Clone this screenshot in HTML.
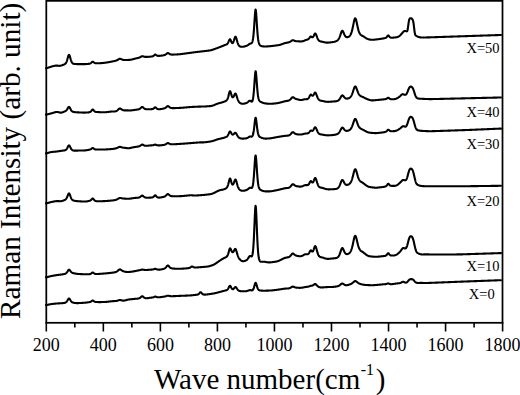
<!DOCTYPE html>
<html><head><meta charset="utf-8"><style>
html,body{margin:0;padding:0;background:#fff;}
body{width:520px;height:395px;overflow:hidden;position:relative;}
svg{position:absolute;left:0;top:0;}
text{font-family:"Liberation Serif",serif;fill:#000;}
</style></head><body>
<svg width="520" height="395" viewBox="0 0 520 395">
<g fill="none" stroke="#000" stroke-width="2.1" stroke-linejoin="round" stroke-linecap="round">
<path d="M46.00,68.30 L46.25,68.25 L46.50,68.20 L46.75,68.14 L47.00,68.08 L47.25,68.01 L47.50,67.94 L47.75,67.86 L48.00,67.78 L48.25,67.69 L48.50,67.60 L48.75,67.51 L49.00,67.43 L49.25,67.34 L49.50,67.25 L49.75,67.16 L50.00,67.07 L50.25,66.99 L50.50,66.91 L50.75,66.82 L51.00,66.74 L51.25,66.67 L51.50,66.59 L51.75,66.51 L52.00,66.44 L52.25,66.37 L52.50,66.30 L52.75,66.23 L53.00,66.17 L53.25,66.10 L53.50,66.04 L53.75,65.98 L54.00,65.92 L54.25,65.86 L54.50,65.81 L54.75,65.76 L55.00,65.71 L55.25,65.68 L55.50,65.65 L55.75,65.63 L56.00,65.61 L56.25,65.60 L56.50,65.60 L56.75,65.60 L57.00,65.61 L57.25,65.63 L57.50,65.65 L57.75,65.68 L58.00,65.72 L58.25,65.75 L58.50,65.79 L58.75,65.81 L59.00,65.83 L59.25,65.84 L59.50,65.83 L59.75,65.82 L60.00,65.80 L60.25,65.77 L60.50,65.73 L60.75,65.68 L61.00,65.61 L61.25,65.54 L61.50,65.46 L61.75,65.38 L62.00,65.29 L62.25,65.19 L62.50,65.10 L62.75,65.00 L63.00,64.91 L63.25,64.82 L63.50,64.73 L63.75,64.63 L64.00,64.53 L64.25,64.42 L64.50,64.30 L64.75,64.16 L65.00,64.00 L65.25,63.80 L65.50,63.56 L65.75,63.26 L66.00,62.89 L66.25,62.44 L66.50,61.90 L66.75,61.26 L67.00,60.53 L67.25,59.71 L67.50,58.83 L67.75,57.91 L68.00,56.99 L68.25,56.14 L68.50,55.45 L68.75,54.98 L69.00,54.80 L69.25,54.95 L69.50,55.39 L69.75,56.06 L70.00,56.87 L70.25,57.76 L70.50,58.65 L70.75,59.51 L71.00,60.29 L71.25,60.99 L71.50,61.60 L71.75,62.11 L72.00,62.53 L72.25,62.87 L72.50,63.15 L72.75,63.36 L73.00,63.52 L73.25,63.65 L73.50,63.74 L73.75,63.81 L74.00,63.87 L74.25,63.92 L74.50,63.95 L74.75,63.98 L75.00,64.00 L75.25,64.02 L75.50,64.04 L75.75,64.05 L76.00,64.06 L76.25,64.07 L76.50,64.07 L76.75,64.08 L77.00,64.08 L77.25,64.09 L77.50,64.09 L77.75,64.09 L78.00,64.10 L78.25,64.10 L78.50,64.10 L78.75,64.10 L79.00,64.11 L79.25,64.11 L79.50,64.11 L79.75,64.11 L80.00,64.12 L80.25,64.12 L80.50,64.12 L80.75,64.13 L81.00,64.13 L81.25,64.13 L81.50,64.13 L81.75,64.14 L82.00,64.14 L82.25,64.14 L82.50,64.14 L82.75,64.14 L83.00,64.14 L83.25,64.14 L83.50,64.14 L83.75,64.14 L84.00,64.13 L84.25,64.13 L84.50,64.12 L84.75,64.12 L85.00,64.11 L85.25,64.10 L85.50,64.09 L85.75,64.08 L86.00,64.06 L86.25,64.05 L86.50,64.03 L86.75,64.01 L87.00,63.99 L87.25,63.97 L87.50,63.95 L87.75,63.93 L88.00,63.90 L88.25,63.88 L88.50,63.85 L88.75,63.82 L89.00,63.79 L89.25,63.75 L89.50,63.70 L89.75,63.64 L90.00,63.57 L90.25,63.47 L90.50,63.36 L90.75,63.21 L91.00,63.03 L91.25,62.82 L91.50,62.59 L91.75,62.34 L92.00,62.10 L92.25,61.89 L92.50,61.75 L92.75,61.70 L93.00,61.76 L93.25,61.90 L93.50,62.09 L93.75,62.31 L94.00,62.52 L94.25,62.71 L94.50,62.88 L94.75,63.01 L95.00,63.11 L95.25,63.19 L95.50,63.24 L95.75,63.28 L96.00,63.30 L96.25,63.31 L96.50,63.32 L96.75,63.32 L97.00,63.31 L97.25,63.31 L97.50,63.30 L97.75,63.30 L98.00,63.29 L98.25,63.28 L98.50,63.27 L98.75,63.26 L99.00,63.25 L99.25,63.24 L99.50,63.22 L99.75,63.21 L100.00,63.20 L100.25,63.18 L100.50,63.16 L100.75,63.15 L101.00,63.13 L101.25,63.11 L101.50,63.09 L101.75,63.07 L102.00,63.05 L102.25,63.03 L102.50,63.01 L102.75,62.98 L103.00,62.96 L103.25,62.93 L103.50,62.91 L103.75,62.88 L104.00,62.85 L104.25,62.83 L104.50,62.80 L104.75,62.77 L105.00,62.74 L105.25,62.70 L105.50,62.67 L105.75,62.64 L106.00,62.60 L106.25,62.56 L106.50,62.53 L106.75,62.49 L107.00,62.45 L107.25,62.41 L107.50,62.36 L107.75,62.32 L108.00,62.28 L108.25,62.23 L108.50,62.18 L108.75,62.14 L109.00,62.09 L109.25,62.05 L109.50,62.00 L109.75,61.95 L110.00,61.91 L110.25,61.86 L110.50,61.81 L110.75,61.77 L111.00,61.72 L111.25,61.67 L111.50,61.62 L111.75,61.58 L112.00,61.53 L112.25,61.48 L112.50,61.43 L112.75,61.38 L113.00,61.33 L113.25,61.28 L113.50,61.23 L113.75,61.18 L114.00,61.12 L114.25,61.07 L114.50,61.02 L114.75,60.96 L115.00,60.90 L115.25,60.84 L115.50,60.77 L115.75,60.70 L116.00,60.62 L116.25,60.53 L116.50,60.44 L116.75,60.33 L117.00,60.21 L117.25,60.09 L117.50,59.95 L117.75,59.81 L118.00,59.65 L118.25,59.50 L118.50,59.34 L118.75,59.19 L119.00,59.05 L119.25,58.94 L119.50,58.85 L119.75,58.81 L120.00,58.79 L120.25,58.82 L120.50,58.88 L120.75,58.97 L121.00,59.07 L121.25,59.18 L121.50,59.29 L121.75,59.40 L122.00,59.50 L122.25,59.60 L122.50,59.68 L122.75,59.75 L123.00,59.82 L123.25,59.87 L123.50,59.91 L123.75,59.94 L124.00,59.97 L124.25,59.99 L124.50,60.00 L124.75,60.00 L125.00,60.01 L125.25,60.01 L125.50,60.01 L125.75,60.00 L126.00,60.00 L126.25,59.99 L126.50,59.98 L126.75,59.98 L127.00,59.97 L127.25,59.96 L127.50,59.95 L127.75,59.95 L128.00,59.94 L128.25,59.93 L128.50,59.92 L128.75,59.91 L129.00,59.89 L129.25,59.88 L129.50,59.86 L129.75,59.84 L130.00,59.81 L130.25,59.78 L130.50,59.75 L130.75,59.71 L131.00,59.67 L131.25,59.62 L131.50,59.58 L131.75,59.53 L132.00,59.47 L132.25,59.41 L132.50,59.35 L132.75,59.29 L133.00,59.22 L133.25,59.15 L133.50,59.08 L133.75,59.02 L134.00,58.95 L134.25,58.88 L134.50,58.81 L134.75,58.74 L135.00,58.67 L135.25,58.60 L135.50,58.54 L135.75,58.47 L136.00,58.41 L136.25,58.35 L136.50,58.29 L136.75,58.23 L137.00,58.18 L137.25,58.12 L137.50,58.07 L137.75,58.01 L138.00,57.95 L138.25,57.90 L138.50,57.83 L138.75,57.77 L139.00,57.69 L139.25,57.61 L139.50,57.52 L139.75,57.42 L140.00,57.30 L140.25,57.17 L140.50,57.03 L140.75,56.88 L141.00,56.73 L141.25,56.58 L141.50,56.44 L141.75,56.32 L142.00,56.24 L142.25,56.19 L142.50,56.19 L142.75,56.23 L143.00,56.29 L143.25,56.37 L143.50,56.46 L143.75,56.54 L144.00,56.63 L144.25,56.70 L144.50,56.76 L144.75,56.81 L145.00,56.85 L145.25,56.88 L145.50,56.90 L145.75,56.91 L146.00,56.91 L146.25,56.91 L146.50,56.91 L146.75,56.90 L147.00,56.89 L147.25,56.87 L147.50,56.86 L147.75,56.85 L148.00,56.83 L148.25,56.81 L148.50,56.80 L148.75,56.78 L149.00,56.76 L149.25,56.74 L149.50,56.72 L149.75,56.70 L150.00,56.68 L150.25,56.66 L150.50,56.63 L150.75,56.61 L151.00,56.58 L151.25,56.55 L151.50,56.51 L151.75,56.47 L152.00,56.43 L152.25,56.37 L152.50,56.30 L152.75,56.21 L153.00,56.10 L153.25,55.97 L153.50,55.81 L153.75,55.62 L154.00,55.41 L154.25,55.19 L154.50,54.97 L154.75,54.78 L155.00,54.65 L155.25,54.60 L155.50,54.64 L155.75,54.76 L156.00,54.92 L156.25,55.10 L156.50,55.27 L156.75,55.43 L157.00,55.57 L157.25,55.68 L157.50,55.76 L157.75,55.81 L158.00,55.85 L158.25,55.87 L158.50,55.88 L158.75,55.88 L159.00,55.87 L159.25,55.86 L159.50,55.84 L159.75,55.82 L160.00,55.80 L160.25,55.78 L160.50,55.75 L160.75,55.72 L161.00,55.69 L161.25,55.66 L161.50,55.63 L161.75,55.59 L162.00,55.56 L162.25,55.52 L162.50,55.48 L162.75,55.44 L163.00,55.39 L163.25,55.35 L163.50,55.30 L163.75,55.24 L164.00,55.18 L164.25,55.12 L164.50,55.04 L164.75,54.94 L165.00,54.84 L165.25,54.71 L165.50,54.57 L165.75,54.41 L166.00,54.23 L166.25,54.04 L166.50,53.84 L166.75,53.64 L167.00,53.45 L167.25,53.29 L167.50,53.17 L167.75,53.11 L168.00,53.11 L168.25,53.17 L168.50,53.28 L168.75,53.42 L169.00,53.58 L169.25,53.74 L169.50,53.90 L169.75,54.04 L170.00,54.17 L170.25,54.28 L170.50,54.37 L170.75,54.44 L171.00,54.49 L171.25,54.54 L171.50,54.56 L171.75,54.58 L172.00,54.59 L172.25,54.60 L172.50,54.60 L172.75,54.60 L173.00,54.59 L173.25,54.59 L173.50,54.58 L173.75,54.57 L174.00,54.56 L174.25,54.55 L174.50,54.54 L174.75,54.53 L175.00,54.52 L175.25,54.50 L175.50,54.49 L175.75,54.48 L176.00,54.47 L176.25,54.45 L176.50,54.44 L176.75,54.43 L177.00,54.41 L177.25,54.40 L177.50,54.38 L177.75,54.37 L178.00,54.36 L178.25,54.34 L178.50,54.32 L178.75,54.31 L179.00,54.29 L179.25,54.27 L179.50,54.25 L179.75,54.22 L180.00,54.20 L180.25,54.18 L180.50,54.15 L180.75,54.12 L181.00,54.09 L181.25,54.06 L181.50,54.03 L181.75,54.00 L182.00,53.97 L182.25,53.94 L182.50,53.90 L182.75,53.87 L183.00,53.83 L183.25,53.80 L183.50,53.77 L183.75,53.73 L184.00,53.70 L184.25,53.66 L184.50,53.63 L184.75,53.60 L185.00,53.56 L185.25,53.53 L185.50,53.49 L185.75,53.46 L186.00,53.43 L186.25,53.39 L186.50,53.36 L186.75,53.32 L187.00,53.29 L187.25,53.25 L187.50,53.22 L187.75,53.19 L188.00,53.15 L188.25,53.12 L188.50,53.08 L188.75,53.05 L189.00,53.01 L189.25,52.98 L189.50,52.95 L189.75,52.91 L190.00,52.88 L190.25,52.84 L190.50,52.81 L190.75,52.77 L191.00,52.74 L191.25,52.70 L191.50,52.67 L191.75,52.64 L192.00,52.60 L192.25,52.57 L192.50,52.53 L192.75,52.50 L193.00,52.46 L193.25,52.43 L193.50,52.40 L193.75,52.36 L194.00,52.33 L194.25,52.30 L194.50,52.26 L194.75,52.23 L195.00,52.20 L195.25,52.17 L195.50,52.14 L195.75,52.11 L196.00,52.08 L196.25,52.05 L196.50,52.02 L196.75,51.99 L197.00,51.96 L197.25,51.93 L197.50,51.90 L197.75,51.87 L198.00,51.84 L198.25,51.81 L198.50,51.79 L198.75,51.76 L199.00,51.73 L199.25,51.70 L199.50,51.67 L199.75,51.64 L200.00,51.61 L200.25,51.58 L200.50,51.56 L200.75,51.53 L201.00,51.50 L201.25,51.47 L201.50,51.44 L201.75,51.41 L202.00,51.38 L202.25,51.35 L202.50,51.33 L202.75,51.30 L203.00,51.27 L203.25,51.24 L203.50,51.21 L203.75,51.18 L204.00,51.15 L204.25,51.12 L204.50,51.09 L204.75,51.06 L205.00,51.04 L205.25,51.01 L205.50,50.98 L205.75,50.95 L206.00,50.92 L206.25,50.89 L206.50,50.86 L206.75,50.83 L207.00,50.80 L207.25,50.77 L207.50,50.74 L207.75,50.71 L208.00,50.68 L208.25,50.65 L208.50,50.63 L208.75,50.60 L209.00,50.57 L209.25,50.53 L209.50,50.50 L209.75,50.46 L210.00,50.41 L210.25,50.36 L210.50,50.31 L210.75,50.26 L211.00,50.20 L211.25,50.14 L211.50,50.07 L211.75,50.00 L212.00,49.93 L212.25,49.85 L212.50,49.77 L212.75,49.69 L213.00,49.60 L213.25,49.51 L213.50,49.42 L213.75,49.33 L214.00,49.24 L214.25,49.14 L214.50,49.05 L214.75,48.96 L215.00,48.87 L215.25,48.78 L215.50,48.68 L215.75,48.59 L216.00,48.50 L216.25,48.41 L216.50,48.32 L216.75,48.22 L217.00,48.13 L217.25,48.04 L217.50,47.94 L217.75,47.85 L218.00,47.76 L218.25,47.66 L218.50,47.57 L218.75,47.47 L219.00,47.38 L219.25,47.29 L219.50,47.19 L219.75,47.10 L220.00,47.00 L220.25,46.90 L220.50,46.81 L220.75,46.71 L221.00,46.61 L221.25,46.52 L221.50,46.42 L221.75,46.32 L222.00,46.22 L222.25,46.12 L222.50,46.02 L222.75,45.92 L223.00,45.81 L223.25,45.71 L223.50,45.60 L223.75,45.49 L224.00,45.38 L224.25,45.27 L224.50,45.16 L224.75,45.06 L225.00,44.97 L225.25,44.88 L225.50,44.80 L225.75,44.71 L226.00,44.62 L226.25,44.52 L226.50,44.41 L226.75,44.27 L227.00,44.10 L227.25,43.89 L227.50,43.61 L227.75,43.28 L228.00,42.88 L228.25,42.41 L228.50,41.87 L228.75,41.29 L229.00,40.68 L229.25,40.10 L229.50,39.61 L229.75,39.29 L230.00,39.20 L230.25,39.37 L230.50,39.76 L230.75,40.31 L231.00,40.93 L231.25,41.55 L231.50,42.10 L231.75,42.56 L232.00,42.89 L232.25,43.08 L232.50,43.11 L232.75,42.97 L233.00,42.69 L233.25,42.25 L233.50,41.68 L233.75,40.99 L234.00,40.22 L234.25,39.40 L234.50,38.59 L234.75,37.83 L235.00,37.22 L235.25,36.82 L235.50,36.70 L235.75,36.88 L236.00,37.33 L236.25,38.00 L236.50,38.82 L236.75,39.72 L237.00,40.63 L237.25,41.53 L237.50,42.36 L237.75,43.12 L238.00,43.79 L238.25,44.37 L238.50,44.86 L238.75,45.28 L239.00,45.61 L239.25,45.89 L239.50,46.11 L239.75,46.28 L240.00,46.42 L240.25,46.53 L240.50,46.62 L240.75,46.68 L241.00,46.73 L241.25,46.77 L241.50,46.79 L241.75,46.80 L242.00,46.81 L242.25,46.80 L242.50,46.79 L242.75,46.77 L243.00,46.74 L243.25,46.71 L243.50,46.67 L243.75,46.62 L244.00,46.56 L244.25,46.50 L244.50,46.44 L244.75,46.37 L245.00,46.30 L245.25,46.23 L245.50,46.16 L245.75,46.08 L246.00,46.00 L246.25,45.91 L246.50,45.81 L246.75,45.70 L247.00,45.58 L247.25,45.45 L247.50,45.31 L247.75,45.16 L248.00,45.00 L248.25,44.83 L248.50,44.65 L248.75,44.46 L249.00,44.28 L249.25,44.11 L249.50,43.95 L249.75,43.81 L250.00,43.70 L250.25,43.61 L250.50,43.55 L250.75,43.49 L251.00,43.42 L251.25,43.33 L251.50,43.18 L251.75,42.95 L252.00,42.60 L252.25,42.08 L252.50,41.33 L252.75,40.29 L253.00,38.89 L253.25,37.08 L253.50,34.79 L253.75,32.00 L254.00,28.74 L254.25,25.09 L254.50,21.18 L254.75,17.27 L255.00,13.73 L255.25,11.02 L255.50,9.62 L255.75,9.81 L256.00,11.56 L256.25,14.53 L256.50,18.23 L256.75,22.23 L257.00,26.17 L257.25,29.84 L257.50,33.09 L257.75,35.87 L258.00,38.17 L258.25,40.01 L258.50,41.46 L258.75,42.57 L259.00,43.41 L259.25,44.05 L259.50,44.53 L259.75,44.90 L260.00,45.19 L260.25,45.42 L260.50,45.60 L260.75,45.75 L261.00,45.88 L261.25,45.98 L261.50,46.07 L261.75,46.15 L262.00,46.21 L262.25,46.26 L262.50,46.31 L262.75,46.34 L263.00,46.37 L263.25,46.39 L263.50,46.41 L263.75,46.43 L264.00,46.44 L264.25,46.45 L264.50,46.45 L264.75,46.46 L265.00,46.46 L265.25,46.46 L265.50,46.45 L265.75,46.45 L266.00,46.44 L266.25,46.44 L266.50,46.43 L266.75,46.42 L267.00,46.41 L267.25,46.40 L267.50,46.38 L267.75,46.37 L268.00,46.35 L268.25,46.34 L268.50,46.32 L268.75,46.30 L269.00,46.29 L269.25,46.27 L269.50,46.24 L269.75,46.22 L270.00,46.20 L270.25,46.18 L270.50,46.15 L270.75,46.13 L271.00,46.10 L271.25,46.07 L271.50,46.04 L271.75,46.02 L272.00,45.99 L272.25,45.96 L272.50,45.92 L272.75,45.89 L273.00,45.86 L273.25,45.83 L273.50,45.80 L273.75,45.77 L274.00,45.74 L274.25,45.70 L274.50,45.67 L274.75,45.64 L275.00,45.61 L275.25,45.57 L275.50,45.54 L275.75,45.51 L276.00,45.48 L276.25,45.44 L276.50,45.41 L276.75,45.38 L277.00,45.34 L277.25,45.31 L277.50,45.28 L277.75,45.24 L278.00,45.21 L278.25,45.17 L278.50,45.13 L278.75,45.08 L279.00,45.03 L279.25,44.98 L279.50,44.92 L279.75,44.86 L280.00,44.80 L280.25,44.73 L280.50,44.66 L280.75,44.58 L281.00,44.51 L281.25,44.42 L281.50,44.33 L281.75,44.24 L282.00,44.15 L282.25,44.05 L282.50,43.95 L282.75,43.85 L283.00,43.75 L283.25,43.66 L283.50,43.57 L283.75,43.48 L284.00,43.40 L284.25,43.32 L284.50,43.24 L284.75,43.17 L285.00,43.10 L285.25,43.03 L285.50,42.97 L285.75,42.92 L286.00,42.86 L286.25,42.81 L286.50,42.76 L286.75,42.72 L287.00,42.67 L287.25,42.63 L287.50,42.59 L287.75,42.55 L288.00,42.50 L288.25,42.44 L288.50,42.38 L288.75,42.32 L289.00,42.24 L289.25,42.15 L289.50,42.05 L289.75,41.94 L290.00,41.82 L290.25,41.68 L290.50,41.52 L290.75,41.36 L291.00,41.18 L291.25,41.00 L291.50,40.81 L291.75,40.63 L292.00,40.47 L292.25,40.34 L292.50,40.24 L292.75,40.19 L293.00,40.19 L293.25,40.23 L293.50,40.31 L293.75,40.41 L294.00,40.52 L294.25,40.64 L294.50,40.75 L294.75,40.85 L295.00,40.94 L295.25,41.02 L295.50,41.09 L295.75,41.14 L296.00,41.19 L296.25,41.22 L296.50,41.25 L296.75,41.27 L297.00,41.28 L297.25,41.29 L297.50,41.30 L297.75,41.31 L298.00,41.32 L298.25,41.32 L298.50,41.33 L298.75,41.34 L299.00,41.35 L299.25,41.37 L299.50,41.38 L299.75,41.40 L300.00,41.42 L300.25,41.44 L300.50,41.45 L300.75,41.45 L301.00,41.45 L301.25,41.43 L301.50,41.41 L301.75,41.39 L302.00,41.35 L302.25,41.31 L302.50,41.26 L302.75,41.20 L303.00,41.14 L303.25,41.06 L303.50,40.98 L303.75,40.89 L304.00,40.79 L304.25,40.68 L304.50,40.57 L304.75,40.45 L305.00,40.33 L305.25,40.22 L305.50,40.12 L305.75,40.03 L306.00,39.96 L306.25,39.89 L306.50,39.83 L306.75,39.77 L307.00,39.70 L307.25,39.63 L307.50,39.54 L307.75,39.43 L308.00,39.30 L308.25,39.13 L308.50,38.93 L308.75,38.69 L309.00,38.42 L309.25,38.12 L309.50,37.78 L309.75,37.44 L310.00,37.10 L310.25,36.82 L310.50,36.61 L310.75,36.51 L311.00,36.52 L311.25,36.63 L311.50,36.81 L311.75,37.01 L312.00,37.18 L312.25,37.28 L312.50,37.30 L312.75,37.20 L313.00,36.99 L313.25,36.68 L313.50,36.26 L313.75,35.77 L314.00,35.24 L314.25,34.70 L314.50,34.21 L314.75,33.81 L315.00,33.57 L315.25,33.50 L315.50,33.64 L315.75,33.95 L316.00,34.41 L316.25,34.99 L316.50,35.63 L316.75,36.30 L317.00,36.97 L317.25,37.62 L317.50,38.22 L317.75,38.78 L318.00,39.27 L318.25,39.70 L318.50,40.07 L318.75,40.38 L319.00,40.64 L319.25,40.85 L319.50,41.01 L319.75,41.14 L320.00,41.24 L320.25,41.33 L320.50,41.40 L320.75,41.46 L321.00,41.51 L321.25,41.56 L321.50,41.60 L321.75,41.64 L322.00,41.69 L322.25,41.74 L322.50,41.79 L322.75,41.84 L323.00,41.90 L323.25,41.96 L323.50,42.03 L323.75,42.10 L324.00,42.17 L324.25,42.24 L324.50,42.31 L324.75,42.36 L325.00,42.42 L325.25,42.46 L325.50,42.51 L325.75,42.54 L326.00,42.57 L326.25,42.60 L326.50,42.62 L326.75,42.63 L327.00,42.64 L327.25,42.64 L327.50,42.64 L327.75,42.63 L328.00,42.62 L328.25,42.60 L328.50,42.58 L328.75,42.55 L329.00,42.53 L329.25,42.50 L329.50,42.48 L329.75,42.45 L330.00,42.42 L330.25,42.40 L330.50,42.37 L330.75,42.34 L331.00,42.31 L331.25,42.28 L331.50,42.25 L331.75,42.21 L332.00,42.18 L332.25,42.15 L332.50,42.11 L332.75,42.08 L333.00,42.04 L333.25,42.00 L333.50,41.96 L333.75,41.91 L334.00,41.86 L334.25,41.80 L334.50,41.74 L334.75,41.67 L335.00,41.60 L335.25,41.52 L335.50,41.44 L335.75,41.35 L336.00,41.25 L336.25,41.14 L336.50,41.01 L336.75,40.88 L337.00,40.73 L337.25,40.55 L337.50,40.35 L337.75,40.13 L338.00,39.87 L338.25,39.58 L338.50,39.24 L338.75,38.85 L339.00,38.40 L339.25,37.90 L339.50,37.34 L339.75,36.73 L340.00,36.06 L340.25,35.34 L340.50,34.59 L340.75,33.83 L341.00,33.08 L341.25,32.38 L341.50,31.76 L341.75,31.26 L342.00,30.93 L342.25,30.79 L342.50,30.84 L342.75,31.08 L343.00,31.47 L343.25,31.96 L343.50,32.52 L343.75,33.11 L344.00,33.71 L344.25,34.28 L344.50,34.81 L344.75,35.29 L345.00,35.71 L345.25,36.07 L345.50,36.38 L345.75,36.62 L346.00,36.82 L346.25,36.96 L346.50,37.06 L346.75,37.13 L347.00,37.16 L347.25,37.16 L347.50,37.14 L347.75,37.09 L348.00,37.02 L348.25,36.94 L348.50,36.83 L348.75,36.70 L349.00,36.55 L349.25,36.36 L349.50,36.15 L349.75,35.89 L350.00,35.60 L350.25,35.25 L350.50,34.83 L350.75,34.36 L351.00,33.80 L351.25,33.17 L351.50,32.45 L351.75,31.65 L352.00,30.75 L352.25,29.77 L352.50,28.70 L352.75,27.56 L353.00,26.36 L353.25,25.12 L353.50,23.87 L353.75,22.63 L354.00,21.46 L354.25,20.40 L354.50,19.51 L354.75,18.83 L355.00,18.42 L355.25,18.30 L355.50,18.48 L355.75,18.94 L356.00,19.65 L356.25,20.56 L356.50,21.61 L356.75,22.76 L357.00,23.94 L357.25,25.14 L357.50,26.31 L357.75,27.43 L358.00,28.49 L358.25,29.46 L358.50,30.36 L358.75,31.16 L359.00,31.88 L359.25,32.51 L359.50,33.06 L359.75,33.53 L360.00,33.93 L360.25,34.26 L360.50,34.55 L360.75,34.78 L361.00,34.99 L361.25,35.17 L361.50,35.34 L361.75,35.49 L362.00,35.63 L362.25,35.76 L362.50,35.89 L362.75,36.03 L363.00,36.16 L363.25,36.30 L363.50,36.44 L363.75,36.59 L364.00,36.74 L364.25,36.91 L364.50,37.07 L364.75,37.25 L365.00,37.43 L365.25,37.62 L365.50,37.79 L365.75,37.96 L366.00,38.11 L366.25,38.26 L366.50,38.40 L366.75,38.54 L367.00,38.66 L367.25,38.78 L367.50,38.89 L367.75,38.99 L368.00,39.09 L368.25,39.17 L368.50,39.25 L368.75,39.33 L369.00,39.39 L369.25,39.45 L369.50,39.50 L369.75,39.55 L370.00,39.60 L370.25,39.64 L370.50,39.68 L370.75,39.71 L371.00,39.74 L371.25,39.76 L371.50,39.78 L371.75,39.79 L372.00,39.80 L372.25,39.81 L372.50,39.81 L372.75,39.81 L373.00,39.80 L373.25,39.79 L373.50,39.77 L373.75,39.75 L374.00,39.72 L374.25,39.69 L374.50,39.66 L374.75,39.63 L375.00,39.60 L375.25,39.57 L375.50,39.54 L375.75,39.51 L376.00,39.48 L376.25,39.45 L376.50,39.42 L376.75,39.39 L377.00,39.36 L377.25,39.33 L377.50,39.30 L377.75,39.27 L378.00,39.23 L378.25,39.20 L378.50,39.17 L378.75,39.14 L379.00,39.10 L379.25,39.07 L379.50,39.04 L379.75,39.00 L380.00,38.97 L380.25,38.93 L380.50,38.89 L380.75,38.86 L381.00,38.82 L381.25,38.78 L381.50,38.73 L381.75,38.69 L382.00,38.65 L382.25,38.61 L382.50,38.56 L382.75,38.51 L383.00,38.47 L383.25,38.43 L383.50,38.38 L383.75,38.34 L384.00,38.29 L384.25,38.25 L384.50,38.20 L384.75,38.15 L385.00,38.09 L385.25,38.02 L385.50,37.94 L385.75,37.83 L386.00,37.69 L386.25,37.50 L386.50,37.28 L386.75,37.01 L387.00,36.69 L387.25,36.34 L387.50,35.99 L387.75,35.68 L388.00,35.46 L388.25,35.40 L388.50,35.50 L388.75,35.73 L389.00,36.04 L389.25,36.37 L389.50,36.68 L389.75,36.96 L390.00,37.19 L390.25,37.36 L390.50,37.49 L390.75,37.58 L391.00,37.64 L391.25,37.68 L391.50,37.70 L391.75,37.71 L392.00,37.71 L392.25,37.70 L392.50,37.69 L392.75,37.68 L393.00,37.66 L393.25,37.64 L393.50,37.62 L393.75,37.60 L394.00,37.57 L394.25,37.55 L394.50,37.52 L394.75,37.49 L395.00,37.47 L395.25,37.44 L395.50,37.41 L395.75,37.38 L396.00,37.34 L396.25,37.30 L396.50,37.26 L396.75,37.20 L397.00,37.14 L397.25,37.07 L397.50,36.99 L397.75,36.90 L398.00,36.80 L398.25,36.69 L398.50,36.57 L398.75,36.44 L399.00,36.29 L399.25,36.13 L399.50,35.95 L399.75,35.76 L400.00,35.55 L400.25,35.32 L400.50,35.08 L400.75,34.82 L401.00,34.55 L401.25,34.27 L401.50,33.98 L401.75,33.68 L402.00,33.37 L402.25,33.06 L402.50,32.75 L402.75,32.44 L403.00,32.15 L403.25,31.88 L403.50,31.63 L403.75,31.42 L404.00,31.25 L404.25,31.12 L404.50,31.02 L404.75,30.97 L405.00,30.96 L405.25,30.99 L405.50,31.03 L405.75,31.09 L406.00,31.16 L406.25,31.23 L406.50,31.30 L406.75,31.34 L407.00,31.28 L407.25,30.99 L407.50,30.29 L407.75,29.07 L408.00,27.38 L408.25,25.45 L408.50,23.54 L408.75,21.88 L409.00,20.57 L409.25,19.62 L409.50,18.99 L409.75,18.60 L410.00,18.37 L410.25,18.24 L410.50,18.19 L410.75,18.19 L411.00,18.23 L411.25,18.32 L411.50,18.46 L411.75,18.64 L412.00,18.87 L412.25,19.16 L412.50,19.53 L412.75,20.04 L413.00,20.74 L413.25,21.72 L413.50,23.04 L413.75,24.75 L414.00,26.78 L414.25,28.97 L414.50,31.08 L414.75,32.84 L415.00,34.09 L415.25,34.85 L415.50,35.27 L415.75,35.51 L416.00,35.69 L416.25,35.84 L416.50,35.99 L416.75,36.13 L417.00,36.26 L417.25,36.38 L417.50,36.50 L417.75,36.61 L418.00,36.72 L418.25,36.82 L418.50,36.91 L418.75,37.00 L419.00,37.07 L419.25,37.14 L419.50,37.20 L419.75,37.25 L420.00,37.30 L420.25,37.34 L420.50,37.38 L420.75,37.41 L421.00,37.43 L421.25,37.45 L421.50,37.47 L421.75,37.48 L422.00,37.48 L422.25,37.48 L422.50,37.48 L422.75,37.48 L423.00,37.48 L423.25,37.48 L423.50,37.48 L423.75,37.48 L424.00,37.47 L424.25,37.47 L424.50,37.47 L424.75,37.46 L425.00,37.46 L425.25,37.45 L425.50,37.45 L425.75,37.44 L426.00,37.44 L426.25,37.43 L426.50,37.43 L426.75,37.42 L427.00,37.42 L427.25,37.41 L427.50,37.40 L427.75,37.40 L428.00,37.39 L428.25,37.38 L428.50,37.38 L428.75,37.37 L429.00,37.36 L429.25,37.36 L429.50,37.35 L429.75,37.34 L430.00,37.33 L430.25,37.33 L430.50,37.32 L430.75,37.31 L431.00,37.30 L431.25,37.30 L431.50,37.29 L431.75,37.28 L432.00,37.27 L432.25,37.27 L432.50,37.26 L432.75,37.25 L433.00,37.24 L433.25,37.23 L433.50,37.22 L433.75,37.22 L434.00,37.21 L434.25,37.20 L434.50,37.19 L434.75,37.18 L435.00,37.17 L435.25,37.17 L435.50,37.16 L435.75,37.15 L436.00,37.14 L436.25,37.13 L436.50,37.12 L436.75,37.11 L437.00,37.10 L437.25,37.10 L437.50,37.09 L437.75,37.08 L438.00,37.07 L438.25,37.06 L438.50,37.05 L438.75,37.04 L439.00,37.03 L439.25,37.03 L439.50,37.02 L439.75,37.01 L440.00,37.00 L440.25,36.99 L440.50,36.98 L440.75,36.97 L441.00,36.97 L441.25,36.96 L441.50,36.95 L441.75,36.94 L442.00,36.93 L442.25,36.93 L442.50,36.92 L442.75,36.91 L443.00,36.90 L443.25,36.89 L443.50,36.89 L443.75,36.88 L444.00,36.87 L444.25,36.86 L444.50,36.85 L444.75,36.85 L445.00,36.84 L445.25,36.83 L445.50,36.82 L445.75,36.81 L446.00,36.80 L446.25,36.80 L446.50,36.79 L446.75,36.78 L447.00,36.77 L447.25,36.76 L447.50,36.76 L447.75,36.75 L448.00,36.74 L448.25,36.73 L448.50,36.72 L448.75,36.71 L449.00,36.71 L449.25,36.70 L449.50,36.69 L449.75,36.68 L450.00,36.67 L450.25,36.66 L450.50,36.66 L450.75,36.65 L451.00,36.64 L451.25,36.63 L451.50,36.62 L451.75,36.61 L452.00,36.61 L452.25,36.60 L452.50,36.59 L452.75,36.58 L453.00,36.57 L453.25,36.56 L453.50,36.56 L453.75,36.55 L454.00,36.54 L454.25,36.53 L454.50,36.52 L454.75,36.51 L455.00,36.51 L455.25,36.50 L455.50,36.49 L455.75,36.48 L456.00,36.47 L456.25,36.46 L456.50,36.46 L456.75,36.45 L457.00,36.44 L457.25,36.43 L457.50,36.42 L457.75,36.41 L458.00,36.41 L458.25,36.40 L458.50,36.39 L458.75,36.38 L459.00,36.37 L459.25,36.36 L459.50,36.36 L459.75,36.35 L460.00,36.34 L460.25,36.33 L460.50,36.32 L460.75,36.31 L461.00,36.30 L461.25,36.30 L461.50,36.29 L461.75,36.28 L462.00,36.27 L462.25,36.26 L462.50,36.25 L462.75,36.25 L463.00,36.24 L463.25,36.23 L463.50,36.22 L463.75,36.21 L464.00,36.20 L464.25,36.19 L464.50,36.19 L464.75,36.18 L465.00,36.17 L465.25,36.16 L465.50,36.15 L465.75,36.14 L466.00,36.14 L466.25,36.13 L466.50,36.12 L466.75,36.11 L467.00,36.10 L467.25,36.09 L467.50,36.08 L467.75,36.08 L468.00,36.07 L468.25,36.06 L468.50,36.05 L468.75,36.04 L469.00,36.03 L469.25,36.03 L469.50,36.02 L469.75,36.01 L470.00,36.00 L470.25,35.99 L470.50,35.98 L470.75,35.98 L471.00,35.97 L471.25,35.96 L471.50,35.95 L471.75,35.94 L472.00,35.93 L472.25,35.93 L472.50,35.92 L472.75,35.91 L473.00,35.90 L473.25,35.89 L473.50,35.89 L473.75,35.88 L474.00,35.87 L474.25,35.86 L474.50,35.85 L474.75,35.84 L475.00,35.84 L475.25,35.83 L475.50,35.82 L475.75,35.81 L476.00,35.80 L476.25,35.80 L476.50,35.79 L476.75,35.78 L477.00,35.77 L477.25,35.76 L477.50,35.75 L477.75,35.75 L478.00,35.74 L478.25,35.73 L478.50,35.72 L478.75,35.71 L479.00,35.71 L479.25,35.70 L479.50,35.69 L479.75,35.68 L480.00,35.67 L480.25,35.66 L480.50,35.66 L480.75,35.65 L481.00,35.64 L481.25,35.63 L481.50,35.62 L481.75,35.61 L482.00,35.61 L482.25,35.60 L482.50,35.59 L482.75,35.58 L483.00,35.57 L483.25,35.57 L483.50,35.56 L483.75,35.55 L484.00,35.54 L484.25,35.53 L484.50,35.52 L484.75,35.52 L485.00,35.51 L485.25,35.50 L485.50,35.49 L485.75,35.48 L486.00,35.48 L486.25,35.47 L486.50,35.46 L486.75,35.45 L487.00,35.44 L487.25,35.43 L487.50,35.43 L487.75,35.42 L488.00,35.41 L488.25,35.40 L488.50,35.39 L488.75,35.39 L489.00,35.38 L489.25,35.37 L489.50,35.36 L489.75,35.35 L490.00,35.34 L490.25,35.34 L490.50,35.33 L490.75,35.32 L491.00,35.31 L491.25,35.30 L491.50,35.29 L491.75,35.29 L492.00,35.28 L492.25,35.27 L492.50,35.26 L492.75,35.25 L493.00,35.25 L493.25,35.24 L493.50,35.23 L493.75,35.22 L494.00,35.21 L494.25,35.20 L494.50,35.20 L494.75,35.19 L495.00,35.18 L495.25,35.17 L495.50,35.16 L495.75,35.16 L496.00,35.15 L496.25,35.14 L496.50,35.13 L496.75,35.12 L497.00,35.11 L497.25,35.11 L497.50,35.10 L497.75,35.09 L498.00,35.08 L498.25,35.07 L498.50,35.06 L498.75,35.06 L499.00,35.05 L499.25,35.04 L499.50,35.03 L499.75,35.03 L500.00,35.02 L500.25,35.01 L500.50,35.01 L500.75,35.00 L501.00,35.00"/>
<path d="M46.00,114.60 L46.25,114.57 L46.50,114.53 L46.75,114.49 L47.00,114.44 L47.25,114.39 L47.50,114.34 L47.75,114.28 L48.00,114.22 L48.25,114.15 L48.50,114.09 L48.75,114.03 L49.00,113.96 L49.25,113.90 L49.50,113.83 L49.75,113.77 L50.00,113.70 L50.25,113.64 L50.50,113.57 L50.75,113.50 L51.00,113.44 L51.25,113.37 L51.50,113.30 L51.75,113.23 L52.00,113.16 L52.25,113.09 L52.50,113.01 L52.75,112.94 L53.00,112.86 L53.25,112.79 L53.50,112.71 L53.75,112.64 L54.00,112.56 L54.25,112.48 L54.50,112.40 L54.75,112.32 L55.00,112.25 L55.25,112.18 L55.50,112.13 L55.75,112.09 L56.00,112.05 L56.25,112.02 L56.50,112.01 L56.75,112.00 L57.00,112.00 L57.25,112.01 L57.50,112.03 L57.75,112.06 L58.00,112.10 L58.25,112.14 L58.50,112.20 L58.75,112.27 L59.00,112.34 L59.25,112.42 L59.50,112.49 L59.75,112.54 L60.00,112.59 L60.25,112.62 L60.50,112.64 L60.75,112.65 L61.00,112.64 L61.25,112.62 L61.50,112.59 L61.75,112.54 L62.00,112.48 L62.25,112.41 L62.50,112.32 L62.75,112.23 L63.00,112.13 L63.25,112.03 L63.50,111.92 L63.75,111.81 L64.00,111.71 L64.25,111.60 L64.50,111.50 L64.75,111.39 L65.00,111.28 L65.25,111.16 L65.50,111.02 L65.75,110.87 L66.00,110.68 L66.25,110.46 L66.50,110.21 L66.75,109.92 L67.00,109.57 L67.25,109.19 L67.50,108.77 L67.75,108.33 L68.00,107.89 L68.25,107.49 L68.50,107.17 L68.75,106.96 L69.00,106.90 L69.25,107.00 L69.50,107.26 L69.75,107.63 L70.00,108.08 L70.25,108.56 L70.50,109.04 L70.75,109.51 L71.00,109.94 L71.25,110.32 L71.50,110.66 L71.75,110.95 L72.00,111.19 L72.25,111.39 L72.50,111.55 L72.75,111.68 L73.00,111.78 L73.25,111.87 L73.50,111.94 L73.75,111.99 L74.00,112.04 L74.25,112.08 L74.50,112.11 L74.75,112.14 L75.00,112.16 L75.25,112.19 L75.50,112.21 L75.75,112.23 L76.00,112.25 L76.25,112.26 L76.50,112.28 L76.75,112.30 L77.00,112.31 L77.25,112.33 L77.50,112.34 L77.75,112.36 L78.00,112.37 L78.25,112.38 L78.50,112.40 L78.75,112.41 L79.00,112.42 L79.25,112.43 L79.50,112.45 L79.75,112.46 L80.00,112.47 L80.25,112.48 L80.50,112.49 L80.75,112.50 L81.00,112.51 L81.25,112.52 L81.50,112.53 L81.75,112.54 L82.00,112.55 L82.25,112.56 L82.50,112.57 L82.75,112.58 L83.00,112.59 L83.25,112.59 L83.50,112.60 L83.75,112.60 L84.00,112.60 L84.25,112.60 L84.50,112.60 L84.75,112.60 L85.00,112.59 L85.25,112.59 L85.50,112.58 L85.75,112.57 L86.00,112.56 L86.25,112.54 L86.50,112.53 L86.75,112.51 L87.00,112.50 L87.25,112.48 L87.50,112.46 L87.75,112.44 L88.00,112.42 L88.25,112.39 L88.50,112.37 L88.75,112.34 L89.00,112.30 L89.25,112.26 L89.50,112.20 L89.75,112.13 L90.00,112.04 L90.25,111.91 L90.50,111.76 L90.75,111.56 L91.00,111.32 L91.25,111.03 L91.50,110.71 L91.75,110.37 L92.00,110.04 L92.25,109.75 L92.50,109.56 L92.75,109.50 L93.00,109.59 L93.25,109.80 L93.50,110.09 L93.75,110.41 L94.00,110.72 L94.25,111.00 L94.50,111.24 L94.75,111.44 L95.00,111.60 L95.25,111.72 L95.50,111.81 L95.75,111.87 L96.00,111.92 L96.25,111.95 L96.50,111.98 L96.75,112.00 L97.00,112.01 L97.25,112.03 L97.50,112.04 L97.75,112.05 L98.00,112.07 L98.25,112.08 L98.50,112.10 L98.75,112.11 L99.00,112.12 L99.25,112.14 L99.50,112.15 L99.75,112.17 L100.00,112.18 L100.25,112.19 L100.50,112.21 L100.75,112.22 L101.00,112.23 L101.25,112.24 L101.50,112.26 L101.75,112.27 L102.00,112.28 L102.25,112.29 L102.50,112.30 L102.75,112.31 L103.00,112.32 L103.25,112.32 L103.50,112.32 L103.75,112.32 L104.00,112.32 L104.25,112.31 L104.50,112.30 L104.75,112.29 L105.00,112.27 L105.25,112.26 L105.50,112.24 L105.75,112.22 L106.00,112.20 L106.25,112.17 L106.50,112.14 L106.75,112.11 L107.00,112.08 L107.25,112.05 L107.50,112.01 L107.75,111.98 L108.00,111.95 L108.25,111.92 L108.50,111.89 L108.75,111.86 L109.00,111.82 L109.25,111.79 L109.50,111.76 L109.75,111.72 L110.00,111.69 L110.25,111.66 L110.50,111.63 L110.75,111.60 L111.00,111.58 L111.25,111.56 L111.50,111.54 L111.75,111.52 L112.00,111.51 L112.25,111.50 L112.50,111.49 L112.75,111.48 L113.00,111.48 L113.25,111.48 L113.50,111.48 L113.75,111.48 L114.00,111.48 L114.25,111.48 L114.50,111.47 L114.75,111.46 L115.00,111.43 L115.25,111.39 L115.50,111.34 L115.75,111.28 L116.00,111.20 L116.25,111.10 L116.50,110.98 L116.75,110.84 L117.00,110.68 L117.25,110.50 L117.50,110.30 L117.75,110.08 L118.00,109.84 L118.25,109.60 L118.50,109.35 L118.75,109.11 L119.00,108.90 L119.25,108.72 L119.50,108.58 L119.75,108.51 L120.00,108.49 L120.25,108.54 L120.50,108.63 L120.75,108.77 L121.00,108.93 L121.25,109.10 L121.50,109.28 L121.75,109.46 L122.00,109.62 L122.25,109.78 L122.50,109.91 L122.75,110.03 L123.00,110.13 L123.25,110.21 L123.50,110.27 L123.75,110.32 L124.00,110.35 L124.25,110.38 L124.50,110.39 L124.75,110.40 L125.00,110.41 L125.25,110.41 L125.50,110.41 L125.75,110.41 L126.00,110.40 L126.25,110.40 L126.50,110.40 L126.75,110.40 L127.00,110.40 L127.25,110.40 L127.50,110.40 L127.75,110.40 L128.00,110.41 L128.25,110.41 L128.50,110.42 L128.75,110.43 L129.00,110.44 L129.25,110.44 L129.50,110.44 L129.75,110.44 L130.00,110.43 L130.25,110.43 L130.50,110.42 L130.75,110.40 L131.00,110.39 L131.25,110.37 L131.50,110.35 L131.75,110.33 L132.00,110.30 L132.25,110.27 L132.50,110.24 L132.75,110.21 L133.00,110.17 L133.25,110.13 L133.50,110.09 L133.75,110.06 L134.00,110.02 L134.25,109.98 L134.50,109.94 L134.75,109.90 L135.00,109.86 L135.25,109.82 L135.50,109.79 L135.75,109.75 L136.00,109.72 L136.25,109.68 L136.50,109.65 L136.75,109.62 L137.00,109.59 L137.25,109.55 L137.50,109.52 L137.75,109.48 L138.00,109.44 L138.25,109.39 L138.50,109.33 L138.75,109.26 L139.00,109.18 L139.25,109.08 L139.50,108.96 L139.75,108.81 L140.00,108.64 L140.25,108.45 L140.50,108.23 L140.75,108.00 L141.00,107.76 L141.25,107.52 L141.50,107.31 L141.75,107.14 L142.00,107.03 L142.25,107.00 L142.50,107.05 L142.75,107.18 L143.00,107.36 L143.25,107.58 L143.50,107.81 L143.75,108.04 L144.00,108.26 L144.25,108.46 L144.50,108.63 L144.75,108.78 L145.00,108.91 L145.25,109.01 L145.50,109.09 L145.75,109.15 L146.00,109.20 L146.25,109.23 L146.50,109.26 L146.75,109.28 L147.00,109.29 L147.25,109.29 L147.50,109.30 L147.75,109.30 L148.00,109.29 L148.25,109.29 L148.50,109.28 L148.75,109.27 L149.00,109.27 L149.25,109.26 L149.50,109.25 L149.75,109.24 L150.00,109.23 L150.25,109.22 L150.50,109.21 L150.75,109.20 L151.00,109.19 L151.25,109.18 L151.50,109.16 L151.75,109.14 L152.00,109.11 L152.25,109.07 L152.50,109.01 L152.75,108.93 L153.00,108.83 L153.25,108.70 L153.50,108.54 L153.75,108.35 L154.00,108.12 L154.25,107.89 L154.50,107.66 L154.75,107.46 L155.00,107.33 L155.25,107.30 L155.50,107.38 L155.75,107.55 L156.00,107.77 L156.25,108.02 L156.50,108.26 L156.75,108.48 L157.00,108.67 L157.25,108.82 L157.50,108.95 L157.75,109.04 L158.00,109.11 L158.25,109.16 L158.50,109.19 L158.75,109.20 L159.00,109.21 L159.25,109.21 L159.50,109.20 L159.75,109.19 L160.00,109.17 L160.25,109.14 L160.50,109.12 L160.75,109.08 L161.00,109.05 L161.25,109.01 L161.50,108.97 L161.75,108.92 L162.00,108.87 L162.25,108.82 L162.50,108.78 L162.75,108.73 L163.00,108.68 L163.25,108.63 L163.50,108.57 L163.75,108.51 L164.00,108.45 L164.25,108.37 L164.50,108.28 L164.75,108.18 L165.00,108.06 L165.25,107.92 L165.50,107.76 L165.75,107.58 L166.00,107.38 L166.25,107.16 L166.50,106.93 L166.75,106.70 L167.00,106.49 L167.25,106.30 L167.50,106.17 L167.75,106.10 L168.00,106.12 L168.25,106.20 L168.50,106.34 L168.75,106.53 L169.00,106.73 L169.25,106.94 L169.50,107.14 L169.75,107.32 L170.00,107.49 L170.25,107.63 L170.50,107.75 L170.75,107.84 L171.00,107.92 L171.25,107.98 L171.50,108.03 L171.75,108.06 L172.00,108.08 L172.25,108.10 L172.50,108.11 L172.75,108.11 L173.00,108.12 L173.25,108.12 L173.50,108.11 L173.75,108.11 L174.00,108.11 L174.25,108.10 L174.50,108.10 L174.75,108.09 L175.00,108.08 L175.25,108.08 L175.50,108.07 L175.75,108.06 L176.00,108.05 L176.25,108.04 L176.50,108.03 L176.75,108.02 L177.00,108.01 L177.25,108.00 L177.50,108.00 L177.75,107.99 L178.00,107.97 L178.25,107.96 L178.50,107.95 L178.75,107.94 L179.00,107.93 L179.25,107.92 L179.50,107.91 L179.75,107.90 L180.00,107.89 L180.25,107.88 L180.50,107.86 L180.75,107.85 L181.00,107.83 L181.25,107.82 L181.50,107.80 L181.75,107.78 L182.00,107.76 L182.25,107.75 L182.50,107.73 L182.75,107.71 L183.00,107.69 L183.25,107.67 L183.50,107.64 L183.75,107.62 L184.00,107.60 L184.25,107.58 L184.50,107.55 L184.75,107.53 L185.00,107.51 L185.25,107.48 L185.50,107.46 L185.75,107.44 L186.00,107.42 L186.25,107.39 L186.50,107.37 L186.75,107.35 L187.00,107.32 L187.25,107.30 L187.50,107.28 L187.75,107.25 L188.00,107.23 L188.25,107.21 L188.50,107.19 L188.75,107.16 L189.00,107.14 L189.25,107.12 L189.50,107.10 L189.75,107.08 L190.00,107.06 L190.25,107.04 L190.50,107.02 L190.75,107.00 L191.00,106.99 L191.25,106.97 L191.50,106.96 L191.75,106.94 L192.00,106.93 L192.25,106.92 L192.50,106.90 L192.75,106.89 L193.00,106.88 L193.25,106.87 L193.50,106.86 L193.75,106.85 L194.00,106.84 L194.25,106.83 L194.50,106.82 L194.75,106.81 L195.00,106.80 L195.25,106.79 L195.50,106.78 L195.75,106.77 L196.00,106.75 L196.25,106.74 L196.50,106.73 L196.75,106.72 L197.00,106.71 L197.25,106.70 L197.50,106.69 L197.75,106.68 L198.00,106.67 L198.25,106.66 L198.50,106.65 L198.75,106.64 L199.00,106.63 L199.25,106.62 L199.50,106.61 L199.75,106.61 L200.00,106.60 L200.25,106.59 L200.50,106.59 L200.75,106.58 L201.00,106.58 L201.25,106.57 L201.50,106.57 L201.75,106.56 L202.00,106.56 L202.25,106.56 L202.50,106.55 L202.75,106.55 L203.00,106.54 L203.25,106.53 L203.50,106.53 L203.75,106.52 L204.00,106.51 L204.25,106.50 L204.50,106.49 L204.75,106.48 L205.00,106.46 L205.25,106.45 L205.50,106.43 L205.75,106.42 L206.00,106.40 L206.25,106.39 L206.50,106.37 L206.75,106.35 L207.00,106.33 L207.25,106.32 L207.50,106.30 L207.75,106.28 L208.00,106.26 L208.25,106.24 L208.50,106.23 L208.75,106.21 L209.00,106.19 L209.25,106.17 L209.50,106.15 L209.75,106.14 L210.00,106.12 L210.25,106.09 L210.50,106.06 L210.75,106.03 L211.00,105.99 L211.25,105.94 L211.50,105.89 L211.75,105.84 L212.00,105.78 L212.25,105.71 L212.50,105.64 L212.75,105.57 L213.00,105.49 L213.25,105.40 L213.50,105.31 L213.75,105.21 L214.00,105.11 L214.25,105.01 L214.50,104.91 L214.75,104.80 L215.00,104.70 L215.25,104.60 L215.50,104.49 L215.75,104.39 L216.00,104.28 L216.25,104.18 L216.50,104.08 L216.75,103.98 L217.00,103.89 L217.25,103.79 L217.50,103.70 L217.75,103.62 L218.00,103.53 L218.25,103.45 L218.50,103.37 L218.75,103.29 L219.00,103.22 L219.25,103.15 L219.50,103.08 L219.75,103.01 L220.00,102.94 L220.25,102.88 L220.50,102.82 L220.75,102.76 L221.00,102.69 L221.25,102.62 L221.50,102.56 L221.75,102.49 L222.00,102.41 L222.25,102.34 L222.50,102.26 L222.75,102.18 L223.00,102.10 L223.25,102.02 L223.50,101.93 L223.75,101.84 L224.00,101.75 L224.25,101.65 L224.50,101.54 L224.75,101.43 L225.00,101.32 L225.25,101.20 L225.50,101.07 L225.75,100.93 L226.00,100.78 L226.25,100.60 L226.50,100.38 L226.75,100.12 L227.00,99.80 L227.25,99.40 L227.50,98.91 L227.75,98.31 L228.00,97.61 L228.25,96.78 L228.50,95.86 L228.75,94.86 L229.00,93.84 L229.25,92.86 L229.50,92.02 L229.75,91.44 L230.00,91.20 L230.25,91.35 L230.50,91.84 L230.75,92.58 L231.00,93.44 L231.25,94.34 L231.50,95.18 L231.75,95.92 L232.00,96.52 L232.25,96.96 L232.50,97.22 L232.75,97.32 L233.00,97.26 L233.25,97.05 L233.50,96.71 L233.75,96.27 L234.00,95.75 L234.25,95.18 L234.50,94.62 L234.75,94.12 L235.00,93.72 L235.25,93.50 L235.50,93.50 L235.75,93.73 L236.00,94.19 L236.25,94.82 L236.50,95.57 L236.75,96.38 L237.00,97.21 L237.25,98.01 L237.50,98.77 L237.75,99.47 L238.00,100.09 L238.25,100.64 L238.50,101.13 L238.75,101.54 L239.00,101.89 L239.25,102.19 L239.50,102.45 L239.75,102.67 L240.00,102.87 L240.25,103.04 L240.50,103.19 L240.75,103.32 L241.00,103.44 L241.25,103.54 L241.50,103.62 L241.75,103.68 L242.00,103.73 L242.25,103.77 L242.50,103.79 L242.75,103.80 L243.00,103.80 L243.25,103.78 L243.50,103.75 L243.75,103.71 L244.00,103.66 L244.25,103.60 L244.50,103.55 L244.75,103.49 L245.00,103.42 L245.25,103.35 L245.50,103.29 L245.75,103.22 L246.00,103.14 L246.25,103.05 L246.50,102.95 L246.75,102.83 L247.00,102.70 L247.25,102.55 L247.50,102.38 L247.75,102.20 L248.00,102.00 L248.25,101.79 L248.50,101.56 L248.75,101.33 L249.00,101.11 L249.25,100.92 L249.50,100.78 L249.75,100.70 L250.00,100.70 L250.25,100.78 L250.50,100.93 L250.75,101.11 L251.00,101.31 L251.25,101.48 L251.50,101.60 L251.75,101.62 L252.00,101.51 L252.25,101.23 L252.50,100.70 L252.75,99.88 L253.00,98.70 L253.25,97.10 L253.50,95.04 L253.75,92.49 L254.00,89.49 L254.25,86.08 L254.50,82.43 L254.75,78.75 L255.00,75.39 L255.25,72.79 L255.50,71.37 L255.75,71.39 L256.00,72.83 L256.25,75.37 L256.50,78.58 L256.75,82.06 L257.00,85.49 L257.25,88.66 L257.50,91.45 L257.75,93.81 L258.00,95.75 L258.25,97.28 L258.50,98.47 L258.75,99.36 L259.00,100.03 L259.25,100.52 L259.50,100.88 L259.75,101.16 L260.00,101.37 L260.25,101.54 L260.50,101.69 L260.75,101.83 L261.00,101.95 L261.25,102.07 L261.50,102.19 L261.75,102.31 L262.00,102.43 L262.25,102.55 L262.50,102.66 L262.75,102.75 L263.00,102.85 L263.25,102.93 L263.50,103.01 L263.75,103.08 L264.00,103.15 L264.25,103.21 L264.50,103.27 L264.75,103.32 L265.00,103.37 L265.25,103.41 L265.50,103.45 L265.75,103.49 L266.00,103.52 L266.25,103.55 L266.50,103.58 L266.75,103.60 L267.00,103.62 L267.25,103.65 L267.50,103.67 L267.75,103.69 L268.00,103.71 L268.25,103.73 L268.50,103.75 L268.75,103.76 L269.00,103.78 L269.25,103.79 L269.50,103.79 L269.75,103.80 L270.00,103.80 L270.25,103.80 L270.50,103.80 L270.75,103.79 L271.00,103.79 L271.25,103.78 L271.50,103.77 L271.75,103.75 L272.00,103.73 L272.25,103.71 L272.50,103.69 L272.75,103.67 L273.00,103.65 L273.25,103.62 L273.50,103.60 L273.75,103.58 L274.00,103.55 L274.25,103.53 L274.50,103.50 L274.75,103.48 L275.00,103.46 L275.25,103.43 L275.50,103.41 L275.75,103.38 L276.00,103.35 L276.25,103.32 L276.50,103.29 L276.75,103.26 L277.00,103.22 L277.25,103.18 L277.50,103.14 L277.75,103.09 L278.00,103.04 L278.25,102.99 L278.50,102.94 L278.75,102.89 L279.00,102.83 L279.25,102.77 L279.50,102.71 L279.75,102.65 L280.00,102.58 L280.25,102.52 L280.50,102.45 L280.75,102.38 L281.00,102.32 L281.25,102.25 L281.50,102.18 L281.75,102.12 L282.00,102.05 L282.25,101.98 L282.50,101.92 L282.75,101.85 L283.00,101.78 L283.25,101.71 L283.50,101.64 L283.75,101.58 L284.00,101.52 L284.25,101.45 L284.50,101.40 L284.75,101.34 L285.00,101.28 L285.25,101.23 L285.50,101.18 L285.75,101.13 L286.00,101.08 L286.25,101.04 L286.50,100.99 L286.75,100.95 L287.00,100.90 L287.25,100.86 L287.50,100.81 L287.75,100.76 L288.00,100.70 L288.25,100.64 L288.50,100.56 L288.75,100.47 L289.00,100.37 L289.25,100.24 L289.50,100.10 L289.75,99.93 L290.00,99.74 L290.25,99.53 L290.50,99.29 L290.75,99.03 L291.00,98.75 L291.25,98.46 L291.50,98.17 L291.75,97.88 L292.00,97.63 L292.25,97.42 L292.50,97.27 L292.75,97.19 L293.00,97.19 L293.25,97.26 L293.50,97.39 L293.75,97.56 L294.00,97.74 L294.25,97.94 L294.50,98.12 L294.75,98.29 L295.00,98.45 L295.25,98.60 L295.50,98.72 L295.75,98.84 L296.00,98.93 L296.25,99.02 L296.50,99.10 L296.75,99.16 L297.00,99.22 L297.25,99.28 L297.50,99.34 L297.75,99.40 L298.00,99.46 L298.25,99.53 L298.50,99.59 L298.75,99.67 L299.00,99.74 L299.25,99.81 L299.50,99.86 L299.75,99.91 L300.00,99.95 L300.25,99.97 L300.50,99.99 L300.75,100.00 L301.00,100.00 L301.25,99.99 L301.50,99.97 L301.75,99.94 L302.00,99.90 L302.25,99.86 L302.50,99.80 L302.75,99.73 L303.00,99.65 L303.25,99.57 L303.50,99.50 L303.75,99.43 L304.00,99.37 L304.25,99.32 L304.50,99.28 L304.75,99.25 L305.00,99.23 L305.25,99.21 L305.50,99.20 L305.75,99.19 L306.00,99.18 L306.25,99.18 L306.50,99.17 L306.75,99.16 L307.00,99.13 L307.25,99.08 L307.50,99.01 L307.75,98.90 L308.00,98.73 L308.25,98.51 L308.50,98.23 L308.75,97.89 L309.00,97.48 L309.25,97.02 L309.50,96.53 L309.75,96.02 L310.00,95.53 L310.25,95.11 L310.50,94.79 L310.75,94.62 L311.00,94.60 L311.25,94.72 L311.50,94.94 L311.75,95.20 L312.00,95.44 L312.25,95.63 L312.50,95.73 L312.75,95.72 L313.00,95.59 L313.25,95.35 L313.50,95.01 L313.75,94.59 L314.00,94.12 L314.25,93.65 L314.50,93.21 L314.75,92.86 L315.00,92.65 L315.25,92.61 L315.50,92.76 L315.75,93.08 L316.00,93.55 L316.25,94.13 L316.50,94.77 L316.75,95.44 L317.00,96.11 L317.25,96.76 L317.50,97.36 L317.75,97.92 L318.00,98.41 L318.25,98.85 L318.50,99.22 L318.75,99.54 L319.00,99.80 L319.25,100.01 L319.50,100.18 L319.75,100.32 L320.00,100.43 L320.25,100.52 L320.50,100.59 L320.75,100.65 L321.00,100.71 L321.25,100.76 L321.50,100.80 L321.75,100.84 L322.00,100.89 L322.25,100.93 L322.50,100.98 L322.75,101.02 L323.00,101.08 L323.25,101.13 L323.50,101.19 L323.75,101.25 L324.00,101.31 L324.25,101.37 L324.50,101.43 L324.75,101.48 L325.00,101.54 L325.25,101.59 L325.50,101.63 L325.75,101.67 L326.00,101.71 L326.25,101.74 L326.50,101.77 L326.75,101.79 L327.00,101.81 L327.25,101.82 L327.50,101.83 L327.75,101.84 L328.00,101.84 L328.25,101.84 L328.50,101.83 L328.75,101.82 L329.00,101.81 L329.25,101.79 L329.50,101.77 L329.75,101.75 L330.00,101.73 L330.25,101.72 L330.50,101.70 L330.75,101.68 L331.00,101.66 L331.25,101.64 L331.50,101.62 L331.75,101.60 L332.00,101.58 L332.25,101.56 L332.50,101.54 L332.75,101.52 L333.00,101.51 L333.25,101.49 L333.50,101.47 L333.75,101.46 L334.00,101.44 L334.25,101.42 L334.50,101.40 L334.75,101.39 L335.00,101.37 L335.25,101.35 L335.50,101.33 L335.75,101.30 L336.00,101.27 L336.25,101.23 L336.50,101.19 L336.75,101.13 L337.00,101.07 L337.25,100.99 L337.50,100.89 L337.75,100.78 L338.00,100.64 L338.25,100.48 L338.50,100.29 L338.75,100.08 L339.00,99.83 L339.25,99.54 L339.50,99.22 L339.75,98.86 L340.00,98.47 L340.25,98.06 L340.50,97.62 L340.75,97.18 L341.00,96.75 L341.25,96.34 L341.50,95.98 L341.75,95.69 L342.00,95.48 L342.25,95.39 L342.50,95.40 L342.75,95.52 L343.00,95.72 L343.25,95.98 L343.50,96.28 L343.75,96.59 L344.00,96.90 L344.25,97.21 L344.50,97.48 L344.75,97.74 L345.00,97.96 L345.25,98.14 L345.50,98.29 L345.75,98.41 L346.00,98.50 L346.25,98.56 L346.50,98.60 L346.75,98.62 L347.00,98.61 L347.25,98.59 L347.50,98.56 L347.75,98.51 L348.00,98.45 L348.25,98.38 L348.50,98.29 L348.75,98.19 L349.00,98.08 L349.25,97.95 L349.50,97.79 L349.75,97.62 L350.00,97.42 L350.25,97.18 L350.50,96.91 L350.75,96.60 L351.00,96.24 L351.25,95.84 L351.50,95.38 L351.75,94.87 L352.00,94.31 L352.25,93.69 L352.50,93.03 L352.75,92.31 L353.00,91.57 L353.25,90.79 L353.50,90.01 L353.75,89.25 L354.00,88.52 L354.25,87.85 L354.50,87.29 L354.75,86.86 L355.00,86.59 L355.25,86.50 L355.50,86.58 L355.75,86.84 L356.00,87.25 L356.25,87.78 L356.50,88.39 L356.75,89.06 L357.00,89.76 L357.25,90.46 L357.50,91.14 L357.75,91.80 L358.00,92.42 L358.25,92.99 L358.50,93.51 L358.75,93.97 L359.00,94.38 L359.25,94.74 L359.50,95.05 L359.75,95.31 L360.00,95.54 L360.25,95.73 L360.50,95.91 L360.75,96.06 L361.00,96.19 L361.25,96.31 L361.50,96.43 L361.75,96.54 L362.00,96.64 L362.25,96.75 L362.50,96.85 L362.75,96.96 L363.00,97.07 L363.25,97.19 L363.50,97.31 L363.75,97.44 L364.00,97.57 L364.25,97.70 L364.50,97.84 L364.75,97.97 L365.00,98.10 L365.25,98.22 L365.50,98.34 L365.75,98.46 L366.00,98.58 L366.25,98.69 L366.50,98.80 L366.75,98.91 L367.00,99.01 L367.25,99.11 L367.50,99.21 L367.75,99.31 L368.00,99.41 L368.25,99.50 L368.50,99.59 L368.75,99.68 L369.00,99.76 L369.25,99.85 L369.50,99.93 L369.75,100.00 L370.00,100.07 L370.25,100.13 L370.50,100.18 L370.75,100.23 L371.00,100.27 L371.25,100.31 L371.50,100.34 L371.75,100.36 L372.00,100.37 L372.25,100.38 L372.50,100.38 L372.75,100.38 L373.00,100.37 L373.25,100.36 L373.50,100.33 L373.75,100.31 L374.00,100.29 L374.25,100.27 L374.50,100.25 L374.75,100.23 L375.00,100.20 L375.25,100.18 L375.50,100.16 L375.75,100.14 L376.00,100.12 L376.25,100.09 L376.50,100.07 L376.75,100.05 L377.00,100.03 L377.25,100.00 L377.50,99.98 L377.75,99.96 L378.00,99.93 L378.25,99.91 L378.50,99.89 L378.75,99.86 L379.00,99.84 L379.25,99.81 L379.50,99.79 L379.75,99.77 L380.00,99.74 L380.25,99.72 L380.50,99.69 L380.75,99.66 L381.00,99.64 L381.25,99.61 L381.50,99.58 L381.75,99.56 L382.00,99.53 L382.25,99.50 L382.50,99.47 L382.75,99.44 L383.00,99.42 L383.25,99.39 L383.50,99.36 L383.75,99.33 L384.00,99.31 L384.25,99.28 L384.50,99.26 L384.75,99.23 L385.00,99.20 L385.25,99.16 L385.50,99.12 L385.75,99.06 L386.00,98.98 L386.25,98.88 L386.50,98.75 L386.75,98.60 L387.00,98.41 L387.25,98.22 L387.50,98.02 L387.75,97.84 L388.00,97.73 L388.25,97.70 L388.50,97.78 L388.75,97.94 L389.00,98.14 L389.25,98.35 L389.50,98.56 L389.75,98.74 L390.00,98.89 L390.25,99.00 L390.50,99.09 L390.75,99.16 L391.00,99.20 L391.25,99.23 L391.50,99.25 L391.75,99.26 L392.00,99.26 L392.25,99.26 L392.50,99.26 L392.75,99.25 L393.00,99.24 L393.25,99.23 L393.50,99.22 L393.75,99.21 L394.00,99.19 L394.25,99.16 L394.50,99.12 L394.75,99.08 L395.00,99.02 L395.25,98.96 L395.50,98.89 L395.75,98.82 L396.00,98.73 L396.25,98.64 L396.50,98.53 L396.75,98.42 L397.00,98.30 L397.25,98.17 L397.50,98.03 L397.75,97.88 L398.00,97.72 L398.25,97.56 L398.50,97.40 L398.75,97.23 L399.00,97.06 L399.25,96.88 L399.50,96.68 L399.75,96.48 L400.00,96.26 L400.25,96.03 L400.50,95.78 L400.75,95.53 L401.00,95.27 L401.25,95.02 L401.50,94.78 L401.75,94.56 L402.00,94.38 L402.25,94.25 L402.50,94.18 L402.75,94.16 L403.00,94.20 L403.25,94.28 L403.50,94.37 L403.75,94.48 L404.00,94.58 L404.25,94.67 L404.50,94.75 L404.75,94.80 L405.00,94.83 L405.25,94.82 L405.50,94.77 L405.75,94.67 L406.00,94.50 L406.25,94.26 L406.50,93.95 L406.75,93.55 L407.00,93.07 L407.25,92.52 L407.50,91.92 L407.75,91.27 L408.00,90.61 L408.25,89.95 L408.50,89.32 L408.75,88.73 L409.00,88.20 L409.25,87.74 L409.50,87.36 L409.75,87.06 L410.00,86.85 L410.25,86.70 L410.50,86.63 L410.75,86.61 L411.00,86.65 L411.25,86.72 L411.50,86.81 L411.75,86.95 L412.00,87.14 L412.25,87.39 L412.50,87.72 L412.75,88.12 L413.00,88.61 L413.25,89.17 L413.50,89.82 L413.75,90.53 L414.00,91.29 L414.25,92.09 L414.50,92.90 L414.75,93.70 L415.00,94.46 L415.25,95.18 L415.50,95.82 L415.75,96.39 L416.00,96.87 L416.25,97.26 L416.50,97.58 L416.75,97.83 L417.00,98.03 L417.25,98.18 L417.50,98.29 L417.75,98.38 L418.00,98.45 L418.25,98.51 L418.50,98.56 L418.75,98.59 L419.00,98.62 L419.25,98.65 L419.50,98.67 L419.75,98.68 L420.00,98.70 L420.25,98.71 L420.50,98.73 L420.75,98.74 L421.00,98.75 L421.25,98.77 L421.50,98.78 L421.75,98.79 L422.00,98.80 L422.25,98.82 L422.50,98.83 L422.75,98.84 L423.00,98.85 L423.25,98.86 L423.50,98.88 L423.75,98.89 L424.00,98.90 L424.25,98.91 L424.50,98.92 L424.75,98.93 L425.00,98.94 L425.25,98.95 L425.50,98.96 L425.75,98.97 L426.00,98.98 L426.25,98.99 L426.50,99.00 L426.75,99.01 L427.00,99.02 L427.25,99.03 L427.50,99.04 L427.75,99.05 L428.00,99.06 L428.25,99.07 L428.50,99.07 L428.75,99.08 L429.00,99.09 L429.25,99.09 L429.50,99.09 L429.75,99.10 L430.00,99.10 L430.25,99.10 L430.50,99.10 L430.75,99.10 L431.00,99.10 L431.25,99.10 L431.50,99.10 L431.75,99.09 L432.00,99.09 L432.25,99.08 L432.50,99.08 L432.75,99.07 L433.00,99.07 L433.25,99.06 L433.50,99.06 L433.75,99.05 L434.00,99.05 L434.25,99.04 L434.50,99.04 L434.75,99.03 L435.00,99.03 L435.25,99.02 L435.50,99.02 L435.75,99.01 L436.00,99.01 L436.25,99.00 L436.50,99.00 L436.75,98.99 L437.00,98.99 L437.25,98.98 L437.50,98.97 L437.75,98.97 L438.00,98.96 L438.25,98.96 L438.50,98.95 L438.75,98.95 L439.00,98.94 L439.25,98.94 L439.50,98.93 L439.75,98.92 L440.00,98.92 L440.25,98.91 L440.50,98.91 L440.75,98.90 L441.00,98.90 L441.25,98.89 L441.50,98.88 L441.75,98.88 L442.00,98.87 L442.25,98.87 L442.50,98.86 L442.75,98.86 L443.00,98.85 L443.25,98.84 L443.50,98.84 L443.75,98.83 L444.00,98.83 L444.25,98.82 L444.50,98.81 L444.75,98.81 L445.00,98.80 L445.25,98.80 L445.50,98.79 L445.75,98.79 L446.00,98.78 L446.25,98.77 L446.50,98.77 L446.75,98.76 L447.00,98.76 L447.25,98.75 L447.50,98.74 L447.75,98.74 L448.00,98.73 L448.25,98.73 L448.50,98.72 L448.75,98.71 L449.00,98.71 L449.25,98.70 L449.50,98.70 L449.75,98.69 L450.00,98.68 L450.25,98.68 L450.50,98.67 L450.75,98.67 L451.00,98.66 L451.25,98.65 L451.50,98.65 L451.75,98.64 L452.00,98.64 L452.25,98.63 L452.50,98.62 L452.75,98.62 L453.00,98.61 L453.25,98.61 L453.50,98.60 L453.75,98.59 L454.00,98.59 L454.25,98.58 L454.50,98.58 L454.75,98.57 L455.00,98.56 L455.25,98.56 L455.50,98.55 L455.75,98.55 L456.00,98.54 L456.25,98.53 L456.50,98.53 L456.75,98.52 L457.00,98.52 L457.25,98.51 L457.50,98.50 L457.75,98.50 L458.00,98.49 L458.25,98.49 L458.50,98.48 L458.75,98.47 L459.00,98.47 L459.25,98.46 L459.50,98.46 L459.75,98.45 L460.00,98.44 L460.25,98.44 L460.50,98.43 L460.75,98.43 L461.00,98.42 L461.25,98.41 L461.50,98.41 L461.75,98.40 L462.00,98.39 L462.25,98.39 L462.50,98.38 L462.75,98.38 L463.00,98.37 L463.25,98.36 L463.50,98.36 L463.75,98.35 L464.00,98.35 L464.25,98.34 L464.50,98.33 L464.75,98.33 L465.00,98.32 L465.25,98.32 L465.50,98.31 L465.75,98.30 L466.00,98.30 L466.25,98.29 L466.50,98.28 L466.75,98.28 L467.00,98.27 L467.25,98.27 L467.50,98.26 L467.75,98.25 L468.00,98.25 L468.25,98.24 L468.50,98.24 L468.75,98.23 L469.00,98.22 L469.25,98.22 L469.50,98.21 L469.75,98.21 L470.00,98.20 L470.25,98.19 L470.50,98.19 L470.75,98.18 L471.00,98.18 L471.25,98.17 L471.50,98.16 L471.75,98.16 L472.00,98.15 L472.25,98.15 L472.50,98.14 L472.75,98.14 L473.00,98.13 L473.25,98.12 L473.50,98.12 L473.75,98.11 L474.00,98.11 L474.25,98.10 L474.50,98.10 L474.75,98.09 L475.00,98.08 L475.25,98.08 L475.50,98.07 L475.75,98.07 L476.00,98.06 L476.25,98.06 L476.50,98.05 L476.75,98.04 L477.00,98.04 L477.25,98.03 L477.50,98.03 L477.75,98.02 L478.00,98.02 L478.25,98.01 L478.50,98.00 L478.75,98.00 L479.00,97.99 L479.25,97.99 L479.50,97.98 L479.75,97.98 L480.00,97.97 L480.25,97.96 L480.50,97.96 L480.75,97.95 L481.00,97.95 L481.25,97.94 L481.50,97.94 L481.75,97.93 L482.00,97.92 L482.25,97.92 L482.50,97.91 L482.75,97.91 L483.00,97.90 L483.25,97.90 L483.50,97.89 L483.75,97.88 L484.00,97.88 L484.25,97.87 L484.50,97.87 L484.75,97.86 L485.00,97.86 L485.25,97.85 L485.50,97.84 L485.75,97.84 L486.00,97.83 L486.25,97.83 L486.50,97.82 L486.75,97.82 L487.00,97.81 L487.25,97.80 L487.50,97.80 L487.75,97.79 L488.00,97.79 L488.25,97.78 L488.50,97.78 L488.75,97.77 L489.00,97.76 L489.25,97.76 L489.50,97.75 L489.75,97.75 L490.00,97.74 L490.25,97.74 L490.50,97.73 L490.75,97.72 L491.00,97.72 L491.25,97.71 L491.50,97.71 L491.75,97.70 L492.00,97.69 L492.25,97.69 L492.50,97.68 L492.75,97.68 L493.00,97.67 L493.25,97.67 L493.50,97.66 L493.75,97.65 L494.00,97.65 L494.25,97.64 L494.50,97.64 L494.75,97.63 L495.00,97.63 L495.25,97.62 L495.50,97.61 L495.75,97.61 L496.00,97.60 L496.25,97.60 L496.50,97.59 L496.75,97.59 L497.00,97.58 L497.25,97.57 L497.50,97.57 L497.75,97.56 L498.00,97.56 L498.25,97.55 L498.50,97.55 L498.75,97.54 L499.00,97.53 L499.25,97.53 L499.50,97.52 L499.75,97.52 L500.00,97.51 L500.25,97.51 L500.50,97.51 L500.75,97.50 L501.00,97.50"/>
<path d="M46.00,153.40 L46.25,153.36 L46.50,153.31 L46.75,153.26 L47.00,153.20 L47.25,153.14 L47.50,153.07 L47.75,153.00 L48.00,152.92 L48.25,152.84 L48.50,152.76 L48.75,152.68 L49.00,152.60 L49.25,152.53 L49.50,152.46 L49.75,152.39 L50.00,152.33 L50.25,152.28 L50.50,152.22 L50.75,152.17 L51.00,152.12 L51.25,152.08 L51.50,152.04 L51.75,152.00 L52.00,151.97 L52.25,151.94 L52.50,151.91 L52.75,151.89 L53.00,151.87 L53.25,151.84 L53.50,151.82 L53.75,151.80 L54.00,151.78 L54.25,151.76 L54.50,151.74 L54.75,151.71 L55.00,151.69 L55.25,151.67 L55.50,151.64 L55.75,151.62 L56.00,151.59 L56.25,151.56 L56.50,151.54 L56.75,151.51 L57.00,151.48 L57.25,151.44 L57.50,151.41 L57.75,151.38 L58.00,151.34 L58.25,151.31 L58.50,151.27 L58.75,151.23 L59.00,151.19 L59.25,151.15 L59.50,151.11 L59.75,151.07 L60.00,151.03 L60.25,150.99 L60.50,150.95 L60.75,150.91 L61.00,150.87 L61.25,150.83 L61.50,150.79 L61.75,150.75 L62.00,150.72 L62.25,150.68 L62.50,150.65 L62.75,150.62 L63.00,150.59 L63.25,150.56 L63.50,150.53 L63.75,150.49 L64.00,150.46 L64.25,150.42 L64.50,150.37 L64.75,150.31 L65.00,150.24 L65.25,150.15 L65.50,150.03 L65.75,149.88 L66.00,149.69 L66.25,149.46 L66.50,149.18 L66.75,148.84 L67.00,148.45 L67.25,148.01 L67.50,147.54 L67.75,147.04 L68.00,146.55 L68.25,146.10 L68.50,145.73 L68.75,145.48 L69.00,145.40 L69.25,145.50 L69.50,145.76 L69.75,146.15 L70.00,146.61 L70.25,147.12 L70.50,147.63 L70.75,148.12 L71.00,148.57 L71.25,148.97 L71.50,149.32 L71.75,149.61 L72.00,149.85 L72.25,150.05 L72.50,150.20 L72.75,150.32 L73.00,150.41 L73.25,150.48 L73.50,150.53 L73.75,150.56 L74.00,150.59 L74.25,150.61 L74.50,150.62 L74.75,150.62 L75.00,150.62 L75.25,150.62 L75.50,150.62 L75.75,150.62 L76.00,150.61 L76.25,150.61 L76.50,150.61 L76.75,150.60 L77.00,150.60 L77.25,150.59 L77.50,150.59 L77.75,150.58 L78.00,150.58 L78.25,150.57 L78.50,150.57 L78.75,150.57 L79.00,150.56 L79.25,150.56 L79.50,150.55 L79.75,150.55 L80.00,150.55 L80.25,150.54 L80.50,150.54 L80.75,150.53 L81.00,150.53 L81.25,150.52 L81.50,150.51 L81.75,150.51 L82.00,150.50 L82.25,150.50 L82.50,150.49 L82.75,150.48 L83.00,150.48 L83.25,150.47 L83.50,150.46 L83.75,150.46 L84.00,150.45 L84.25,150.44 L84.50,150.43 L84.75,150.41 L85.00,150.40 L85.25,150.38 L85.50,150.35 L85.75,150.33 L86.00,150.30 L86.25,150.27 L86.50,150.24 L86.75,150.20 L87.00,150.16 L87.25,150.12 L87.50,150.08 L87.75,150.03 L88.00,149.98 L88.25,149.93 L88.50,149.88 L88.75,149.83 L89.00,149.78 L89.25,149.73 L89.50,149.68 L89.75,149.61 L90.00,149.54 L90.25,149.46 L90.50,149.35 L90.75,149.22 L91.00,149.07 L91.25,148.90 L91.50,148.71 L91.75,148.50 L92.00,148.31 L92.25,148.14 L92.50,148.03 L92.75,148.00 L93.00,148.06 L93.25,148.19 L93.50,148.37 L93.75,148.56 L94.00,148.75 L94.25,148.93 L94.50,149.08 L94.75,149.20 L95.00,149.30 L95.25,149.38 L95.50,149.43 L95.75,149.47 L96.00,149.50 L96.25,149.52 L96.50,149.53 L96.75,149.55 L97.00,149.55 L97.25,149.56 L97.50,149.56 L97.75,149.57 L98.00,149.57 L98.25,149.57 L98.50,149.57 L98.75,149.57 L99.00,149.57 L99.25,149.57 L99.50,149.57 L99.75,149.57 L100.00,149.57 L100.25,149.57 L100.50,149.57 L100.75,149.56 L101.00,149.56 L101.25,149.56 L101.50,149.56 L101.75,149.56 L102.00,149.55 L102.25,149.55 L102.50,149.55 L102.75,149.55 L103.00,149.54 L103.25,149.54 L103.50,149.53 L103.75,149.52 L104.00,149.52 L104.25,149.51 L104.50,149.50 L104.75,149.49 L105.00,149.48 L105.25,149.47 L105.50,149.46 L105.75,149.44 L106.00,149.43 L106.25,149.41 L106.50,149.40 L106.75,149.38 L107.00,149.37 L107.25,149.35 L107.50,149.33 L107.75,149.32 L108.00,149.30 L108.25,149.28 L108.50,149.27 L108.75,149.25 L109.00,149.23 L109.25,149.21 L109.50,149.20 L109.75,149.18 L110.00,149.16 L110.25,149.14 L110.50,149.13 L110.75,149.11 L111.00,149.09 L111.25,149.07 L111.50,149.05 L111.75,149.04 L112.00,149.01 L112.25,148.99 L112.50,148.96 L112.75,148.94 L113.00,148.90 L113.25,148.87 L113.50,148.83 L113.75,148.79 L114.00,148.75 L114.25,148.70 L114.50,148.66 L114.75,148.61 L115.00,148.55 L115.25,148.50 L115.50,148.44 L115.75,148.37 L116.00,148.30 L116.25,148.22 L116.50,148.14 L116.75,148.05 L117.00,147.96 L117.25,147.86 L117.50,147.75 L117.75,147.64 L118.00,147.53 L118.25,147.41 L118.50,147.30 L118.75,147.19 L119.00,147.09 L119.25,147.00 L119.50,146.94 L119.75,146.90 L120.00,146.90 L120.25,146.92 L120.50,146.96 L120.75,147.02 L121.00,147.09 L121.25,147.17 L121.50,147.26 L121.75,147.34 L122.00,147.41 L122.25,147.48 L122.50,147.54 L122.75,147.59 L123.00,147.64 L123.25,147.68 L123.50,147.70 L123.75,147.73 L124.00,147.74 L124.25,147.76 L124.50,147.78 L124.75,147.80 L125.00,147.84 L125.25,147.87 L125.50,147.91 L125.75,147.96 L126.00,148.00 L126.25,148.04 L126.50,148.07 L126.75,148.11 L127.00,148.13 L127.25,148.16 L127.50,148.18 L127.75,148.20 L128.00,148.22 L128.25,148.24 L128.50,148.24 L128.75,148.23 L129.00,148.22 L129.25,148.19 L129.50,148.15 L129.75,148.10 L130.00,148.04 L130.25,147.98 L130.50,147.92 L130.75,147.86 L131.00,147.81 L131.25,147.75 L131.50,147.69 L131.75,147.63 L132.00,147.57 L132.25,147.51 L132.50,147.46 L132.75,147.41 L133.00,147.35 L133.25,147.30 L133.50,147.26 L133.75,147.21 L134.00,147.16 L134.25,147.12 L134.50,147.08 L134.75,147.04 L135.00,147.00 L135.25,146.96 L135.50,146.93 L135.75,146.89 L136.00,146.86 L136.25,146.82 L136.50,146.79 L136.75,146.75 L137.00,146.72 L137.25,146.68 L137.50,146.64 L137.75,146.60 L138.00,146.55 L138.25,146.50 L138.50,146.44 L138.75,146.38 L139.00,146.30 L139.25,146.21 L139.50,146.11 L139.75,145.99 L140.00,145.86 L140.25,145.71 L140.50,145.54 L140.75,145.37 L141.00,145.19 L141.25,145.02 L141.50,144.86 L141.75,144.72 L142.00,144.63 L142.25,144.60 L142.50,144.62 L142.75,144.69 L143.00,144.79 L143.25,144.92 L143.50,145.06 L143.75,145.20 L144.00,145.33 L144.25,145.45 L144.50,145.55 L144.75,145.63 L145.00,145.69 L145.25,145.74 L145.50,145.78 L145.75,145.80 L146.00,145.81 L146.25,145.81 L146.50,145.80 L146.75,145.79 L147.00,145.78 L147.25,145.76 L147.50,145.73 L147.75,145.71 L148.00,145.68 L148.25,145.65 L148.50,145.62 L148.75,145.59 L149.00,145.56 L149.25,145.53 L149.50,145.51 L149.75,145.48 L150.00,145.46 L150.25,145.44 L150.50,145.42 L150.75,145.40 L151.00,145.39 L151.25,145.37 L151.50,145.36 L151.75,145.34 L152.00,145.32 L152.25,145.30 L152.50,145.28 L152.75,145.25 L153.00,145.21 L153.25,145.16 L153.50,145.09 L153.75,145.02 L154.00,144.93 L154.25,144.83 L154.50,144.74 L154.75,144.66 L155.00,144.61 L155.25,144.60 L155.50,144.64 L155.75,144.71 L156.00,144.81 L156.25,144.91 L156.50,145.01 L156.75,145.10 L157.00,145.19 L157.25,145.25 L157.50,145.31 L157.75,145.35 L158.00,145.38 L158.25,145.39 L158.50,145.40 L158.75,145.41 L159.00,145.41 L159.25,145.40 L159.50,145.39 L159.75,145.38 L160.00,145.37 L160.25,145.35 L160.50,145.33 L160.75,145.31 L161.00,145.28 L161.25,145.26 L161.50,145.23 L161.75,145.20 L162.00,145.16 L162.25,145.13 L162.50,145.10 L162.75,145.07 L163.00,145.03 L163.25,144.99 L163.50,144.95 L163.75,144.91 L164.00,144.86 L164.25,144.80 L164.50,144.74 L164.75,144.66 L165.00,144.57 L165.25,144.46 L165.50,144.34 L165.75,144.21 L166.00,144.06 L166.25,143.90 L166.50,143.73 L166.75,143.56 L167.00,143.40 L167.25,143.26 L167.50,143.16 L167.75,143.10 L168.00,143.10 L168.25,143.15 L168.50,143.24 L168.75,143.36 L169.00,143.49 L169.25,143.63 L169.50,143.76 L169.75,143.87 L170.00,143.98 L170.25,144.07 L170.50,144.14 L170.75,144.20 L171.00,144.25 L171.25,144.28 L171.50,144.30 L171.75,144.31 L172.00,144.32 L172.25,144.32 L172.50,144.32 L172.75,144.32 L173.00,144.31 L173.25,144.30 L173.50,144.29 L173.75,144.28 L174.00,144.27 L174.25,144.25 L174.50,144.24 L174.75,144.23 L175.00,144.21 L175.25,144.20 L175.50,144.19 L175.75,144.17 L176.00,144.16 L176.25,144.14 L176.50,144.13 L176.75,144.11 L177.00,144.10 L177.25,144.08 L177.50,144.06 L177.75,144.05 L178.00,144.03 L178.25,144.02 L178.50,144.00 L178.75,143.98 L179.00,143.97 L179.25,143.95 L179.50,143.94 L179.75,143.92 L180.00,143.90 L180.25,143.89 L180.50,143.87 L180.75,143.85 L181.00,143.83 L181.25,143.82 L181.50,143.80 L181.75,143.78 L182.00,143.76 L182.25,143.75 L182.50,143.73 L182.75,143.71 L183.00,143.69 L183.25,143.67 L183.50,143.65 L183.75,143.64 L184.00,143.62 L184.25,143.60 L184.50,143.58 L184.75,143.56 L185.00,143.54 L185.25,143.52 L185.50,143.50 L185.75,143.49 L186.00,143.47 L186.25,143.45 L186.50,143.43 L186.75,143.41 L187.00,143.39 L187.25,143.37 L187.50,143.35 L187.75,143.33 L188.00,143.32 L188.25,143.30 L188.50,143.28 L188.75,143.26 L189.00,143.24 L189.25,143.22 L189.50,143.20 L189.75,143.18 L190.00,143.16 L190.25,143.14 L190.50,143.12 L190.75,143.10 L191.00,143.08 L191.25,143.06 L191.50,143.04 L191.75,143.02 L192.00,143.00 L192.25,142.98 L192.50,142.96 L192.75,142.94 L193.00,142.92 L193.25,142.90 L193.50,142.88 L193.75,142.86 L194.00,142.84 L194.25,142.82 L194.50,142.80 L194.75,142.78 L195.00,142.76 L195.25,142.74 L195.50,142.72 L195.75,142.70 L196.00,142.68 L196.25,142.66 L196.50,142.64 L196.75,142.62 L197.00,142.60 L197.25,142.58 L197.50,142.56 L197.75,142.54 L198.00,142.52 L198.25,142.50 L198.50,142.48 L198.75,142.46 L199.00,142.45 L199.25,142.43 L199.50,142.42 L199.75,142.41 L200.00,142.40 L200.25,142.39 L200.50,142.38 L200.75,142.38 L201.00,142.37 L201.25,142.37 L201.50,142.37 L201.75,142.36 L202.00,142.36 L202.25,142.37 L202.50,142.36 L202.75,142.36 L203.00,142.36 L203.25,142.35 L203.50,142.34 L203.75,142.33 L204.00,142.31 L204.25,142.30 L204.50,142.28 L204.75,142.26 L205.00,142.24 L205.25,142.21 L205.50,142.19 L205.75,142.16 L206.00,142.13 L206.25,142.09 L206.50,142.06 L206.75,142.03 L207.00,141.99 L207.25,141.96 L207.50,141.92 L207.75,141.89 L208.00,141.85 L208.25,141.82 L208.50,141.78 L208.75,141.75 L209.00,141.72 L209.25,141.68 L209.50,141.65 L209.75,141.61 L210.00,141.58 L210.25,141.54 L210.50,141.49 L210.75,141.45 L211.00,141.40 L211.25,141.35 L211.50,141.29 L211.75,141.24 L212.00,141.18 L212.25,141.11 L212.50,141.04 L212.75,140.97 L213.00,140.90 L213.25,140.82 L213.50,140.74 L213.75,140.66 L214.00,140.57 L214.25,140.49 L214.50,140.40 L214.75,140.31 L215.00,140.22 L215.25,140.13 L215.50,140.05 L215.75,139.96 L216.00,139.87 L216.25,139.78 L216.50,139.70 L216.75,139.61 L217.00,139.53 L217.25,139.45 L217.50,139.38 L217.75,139.30 L218.00,139.23 L218.25,139.16 L218.50,139.09 L218.75,139.02 L219.00,138.96 L219.25,138.90 L219.50,138.84 L219.75,138.78 L220.00,138.72 L220.25,138.67 L220.50,138.61 L220.75,138.56 L221.00,138.50 L221.25,138.45 L221.50,138.39 L221.75,138.34 L222.00,138.28 L222.25,138.22 L222.50,138.16 L222.75,138.10 L223.00,138.04 L223.25,137.97 L223.50,137.90 L223.75,137.83 L224.00,137.76 L224.25,137.68 L224.50,137.61 L224.75,137.52 L225.00,137.44 L225.25,137.34 L225.50,137.25 L225.75,137.15 L226.00,137.04 L226.25,136.91 L226.50,136.77 L226.75,136.60 L227.00,136.40 L227.25,136.16 L227.50,135.87 L227.75,135.52 L228.00,135.12 L228.25,134.65 L228.50,134.14 L228.75,133.58 L229.00,133.01 L229.25,132.46 L229.50,131.99 L229.75,131.65 L230.00,131.50 L230.25,131.55 L230.50,131.79 L230.75,132.16 L231.00,132.60 L231.25,133.06 L231.50,133.50 L231.75,133.88 L232.00,134.19 L232.25,134.42 L232.50,134.56 L232.75,134.61 L233.00,134.58 L233.25,134.48 L233.50,134.31 L233.75,134.09 L234.00,133.84 L234.25,133.56 L234.50,133.29 L234.75,133.04 L235.00,132.86 L235.25,132.77 L235.50,132.80 L235.75,132.95 L236.00,133.22 L236.25,133.58 L236.50,134.00 L236.75,134.45 L237.00,134.91 L237.25,135.36 L237.50,135.78 L237.75,136.18 L238.00,136.53 L238.25,136.85 L238.50,137.13 L238.75,137.37 L239.00,137.58 L239.25,137.77 L239.50,137.92 L239.75,138.05 L240.00,138.17 L240.25,138.26 L240.50,138.34 L240.75,138.41 L241.00,138.46 L241.25,138.51 L241.50,138.55 L241.75,138.58 L242.00,138.60 L242.25,138.61 L242.50,138.62 L242.75,138.62 L243.00,138.62 L243.25,138.61 L243.50,138.59 L243.75,138.58 L244.00,138.57 L244.25,138.55 L244.50,138.54 L244.75,138.52 L245.00,138.50 L245.25,138.48 L245.50,138.45 L245.75,138.41 L246.00,138.37 L246.25,138.32 L246.50,138.26 L246.75,138.18 L247.00,138.09 L247.25,137.99 L247.50,137.87 L247.75,137.73 L248.00,137.58 L248.25,137.42 L248.50,137.25 L248.75,137.08 L249.00,136.91 L249.25,136.76 L249.50,136.64 L249.75,136.55 L250.00,136.50 L250.25,136.49 L250.50,136.51 L250.75,136.56 L251.00,136.61 L251.25,136.65 L251.50,136.66 L251.75,136.62 L252.00,136.50 L252.25,136.28 L252.50,135.91 L252.75,135.37 L253.00,134.61 L253.25,133.60 L253.50,132.31 L253.75,130.73 L254.00,128.87 L254.25,126.76 L254.50,124.52 L254.75,122.27 L255.00,120.22 L255.25,118.64 L255.50,117.79 L255.75,117.84 L256.00,118.77 L256.25,120.38 L256.50,122.41 L256.75,124.60 L257.00,126.76 L257.25,128.77 L257.50,130.54 L257.75,132.04 L258.00,133.28 L258.25,134.27 L258.50,135.04 L258.75,135.62 L259.00,136.07 L259.25,136.41 L259.50,136.67 L259.75,136.87 L260.00,137.03 L260.25,137.17 L260.50,137.29 L260.75,137.40 L261.00,137.51 L261.25,137.61 L261.50,137.71 L261.75,137.81 L262.00,137.91 L262.25,138.01 L262.50,138.10 L262.75,138.18 L263.00,138.25 L263.25,138.31 L263.50,138.37 L263.75,138.42 L264.00,138.47 L264.25,138.51 L264.50,138.54 L264.75,138.57 L265.00,138.59 L265.25,138.60 L265.50,138.61 L265.75,138.62 L266.00,138.61 L266.25,138.61 L266.50,138.60 L266.75,138.58 L267.00,138.57 L267.25,138.56 L267.50,138.54 L267.75,138.53 L268.00,138.52 L268.25,138.50 L268.50,138.48 L268.75,138.47 L269.00,138.45 L269.25,138.43 L269.50,138.40 L269.75,138.38 L270.00,138.35 L270.25,138.32 L270.50,138.29 L270.75,138.25 L271.00,138.22 L271.25,138.18 L271.50,138.14 L271.75,138.10 L272.00,138.06 L272.25,138.02 L272.50,137.97 L272.75,137.93 L273.00,137.88 L273.25,137.83 L273.50,137.79 L273.75,137.74 L274.00,137.69 L274.25,137.64 L274.50,137.60 L274.75,137.55 L275.00,137.50 L275.25,137.45 L275.50,137.41 L275.75,137.36 L276.00,137.31 L276.25,137.26 L276.50,137.22 L276.75,137.17 L277.00,137.12 L277.25,137.08 L277.50,137.04 L277.75,136.99 L278.00,136.95 L278.25,136.90 L278.50,136.86 L278.75,136.82 L279.00,136.78 L279.25,136.74 L279.50,136.70 L279.75,136.66 L280.00,136.62 L280.25,136.58 L280.50,136.54 L280.75,136.49 L281.00,136.45 L281.25,136.41 L281.50,136.37 L281.75,136.33 L282.00,136.29 L282.25,136.25 L282.50,136.21 L282.75,136.17 L283.00,136.12 L283.25,136.08 L283.50,136.04 L283.75,136.00 L284.00,135.96 L284.25,135.93 L284.50,135.90 L284.75,135.87 L285.00,135.84 L285.25,135.81 L285.50,135.79 L285.75,135.77 L286.00,135.75 L286.25,135.73 L286.50,135.71 L286.75,135.70 L287.00,135.68 L287.25,135.67 L287.50,135.65 L287.75,135.63 L288.00,135.59 L288.25,135.55 L288.50,135.50 L288.75,135.43 L289.00,135.34 L289.25,135.23 L289.50,135.10 L289.75,134.94 L290.00,134.76 L290.25,134.55 L290.50,134.32 L290.75,134.06 L291.00,133.78 L291.25,133.48 L291.50,133.18 L291.75,132.89 L292.00,132.63 L292.25,132.42 L292.50,132.27 L292.75,132.19 L293.00,132.20 L293.25,132.28 L293.50,132.42 L293.75,132.59 L294.00,132.79 L294.25,133.00 L294.50,133.19 L294.75,133.38 L295.00,133.56 L295.25,133.71 L295.50,133.85 L295.75,133.96 L296.00,134.06 L296.25,134.14 L296.50,134.20 L296.75,134.25 L297.00,134.29 L297.25,134.33 L297.50,134.36 L297.75,134.39 L298.00,134.41 L298.25,134.44 L298.50,134.46 L298.75,134.49 L299.00,134.51 L299.25,134.53 L299.50,134.54 L299.75,134.54 L300.00,134.54 L300.25,134.53 L300.50,134.52 L300.75,134.50 L301.00,134.48 L301.25,134.45 L301.50,134.42 L301.75,134.38 L302.00,134.34 L302.25,134.29 L302.50,134.24 L302.75,134.18 L303.00,134.12 L303.25,134.05 L303.50,133.99 L303.75,133.92 L304.00,133.85 L304.25,133.78 L304.50,133.72 L304.75,133.67 L305.00,133.62 L305.25,133.59 L305.50,133.56 L305.75,133.53 L306.00,133.51 L306.25,133.50 L306.50,133.48 L306.75,133.46 L307.00,133.44 L307.25,133.40 L307.50,133.35 L307.75,133.28 L308.00,133.19 L308.25,133.07 L308.50,132.91 L308.75,132.71 L309.00,132.48 L309.25,132.20 L309.50,131.90 L309.75,131.58 L310.00,131.27 L310.25,130.99 L310.50,130.76 L310.75,130.62 L311.00,130.57 L311.25,130.60 L311.50,130.68 L311.75,130.78 L312.00,130.85 L312.25,130.87 L312.50,130.81 L312.75,130.67 L313.00,130.44 L313.25,130.12 L313.50,129.73 L313.75,129.27 L314.00,128.79 L314.25,128.31 L314.50,127.88 L314.75,127.55 L315.00,127.35 L315.25,127.30 L315.50,127.43 L315.75,127.71 L316.00,128.12 L316.25,128.62 L316.50,129.18 L316.75,129.77 L317.00,130.36 L317.25,130.92 L317.50,131.46 L317.75,131.94 L318.00,132.38 L318.25,132.76 L318.50,133.09 L318.75,133.37 L319.00,133.60 L319.25,133.79 L319.50,133.94 L319.75,134.07 L320.00,134.17 L320.25,134.25 L320.50,134.32 L320.75,134.37 L321.00,134.42 L321.25,134.46 L321.50,134.50 L321.75,134.54 L322.00,134.57 L322.25,134.61 L322.50,134.65 L322.75,134.69 L323.00,134.73 L323.25,134.77 L323.50,134.82 L323.75,134.87 L324.00,134.91 L324.25,134.96 L324.50,135.01 L324.75,135.05 L325.00,135.09 L325.25,135.13 L325.50,135.17 L325.75,135.20 L326.00,135.23 L326.25,135.25 L326.50,135.27 L326.75,135.29 L327.00,135.31 L327.25,135.32 L327.50,135.33 L327.75,135.33 L328.00,135.33 L328.25,135.33 L328.50,135.33 L328.75,135.32 L329.00,135.31 L329.25,135.30 L329.50,135.28 L329.75,135.27 L330.00,135.25 L330.25,135.24 L330.50,135.23 L330.75,135.21 L331.00,135.19 L331.25,135.18 L331.50,135.16 L331.75,135.14 L332.00,135.12 L332.25,135.09 L332.50,135.07 L332.75,135.04 L333.00,135.01 L333.25,134.98 L333.50,134.95 L333.75,134.91 L334.00,134.88 L334.25,134.84 L334.50,134.80 L334.75,134.75 L335.00,134.71 L335.25,134.66 L335.50,134.60 L335.75,134.55 L336.00,134.49 L336.25,134.42 L336.50,134.34 L336.75,134.25 L337.00,134.16 L337.25,134.05 L337.50,133.92 L337.75,133.77 L338.00,133.60 L338.25,133.41 L338.50,133.18 L338.75,132.92 L339.00,132.63 L339.25,132.30 L339.50,131.93 L339.75,131.53 L340.00,131.09 L340.25,130.62 L340.50,130.13 L340.75,129.63 L341.00,129.14 L341.25,128.68 L341.50,128.27 L341.75,127.94 L342.00,127.70 L342.25,127.59 L342.50,127.59 L342.75,127.70 L343.00,127.91 L343.25,128.18 L343.50,128.49 L343.75,128.82 L344.00,129.15 L344.25,129.47 L344.50,129.76 L344.75,130.02 L345.00,130.25 L345.25,130.44 L345.50,130.60 L345.75,130.71 L346.00,130.80 L346.25,130.85 L346.50,130.88 L346.75,130.89 L347.00,130.87 L347.25,130.84 L347.50,130.80 L347.75,130.74 L348.00,130.67 L348.25,130.59 L348.50,130.50 L348.75,130.40 L349.00,130.28 L349.25,130.14 L349.50,129.99 L349.75,129.82 L350.00,129.62 L350.25,129.39 L350.50,129.12 L350.75,128.82 L351.00,128.48 L351.25,128.08 L351.50,127.64 L351.75,127.14 L352.00,126.58 L352.25,125.98 L352.50,125.32 L352.75,124.62 L353.00,123.88 L353.25,123.12 L353.50,122.35 L353.75,121.59 L354.00,120.87 L354.25,120.22 L354.50,119.67 L354.75,119.25 L355.00,118.98 L355.25,118.90 L355.50,118.99 L355.75,119.26 L356.00,119.67 L356.25,120.21 L356.50,120.83 L356.75,121.51 L357.00,122.21 L357.25,122.92 L357.50,123.61 L357.75,124.27 L358.00,124.89 L358.25,125.47 L358.50,126.00 L358.75,126.47 L359.00,126.89 L359.25,127.25 L359.50,127.57 L359.75,127.84 L360.00,128.07 L360.25,128.28 L360.50,128.45 L360.75,128.61 L361.00,128.76 L361.25,128.89 L361.50,129.01 L361.75,129.13 L362.00,129.25 L362.25,129.36 L362.50,129.48 L362.75,129.59 L363.00,129.72 L363.25,129.84 L363.50,129.97 L363.75,130.11 L364.00,130.26 L364.25,130.41 L364.50,130.55 L364.75,130.70 L365.00,130.84 L365.25,130.98 L365.50,131.12 L365.75,131.26 L366.00,131.40 L366.25,131.53 L366.50,131.66 L366.75,131.78 L367.00,131.89 L367.25,131.99 L367.50,132.09 L367.75,132.18 L368.00,132.27 L368.25,132.35 L368.50,132.42 L368.75,132.48 L369.00,132.54 L369.25,132.59 L369.50,132.64 L369.75,132.68 L370.00,132.71 L370.25,132.74 L370.50,132.76 L370.75,132.78 L371.00,132.80 L371.25,132.83 L371.50,132.85 L371.75,132.87 L372.00,132.89 L372.25,132.91 L372.50,132.93 L372.75,132.95 L373.00,132.97 L373.25,132.99 L373.50,133.01 L373.75,133.04 L374.00,133.05 L374.25,133.07 L374.50,133.08 L374.75,133.09 L375.00,133.10 L375.25,133.10 L375.50,133.10 L375.75,133.10 L376.00,133.10 L376.25,133.09 L376.50,133.08 L376.75,133.07 L377.00,133.05 L377.25,133.03 L377.50,133.01 L377.75,132.99 L378.00,132.96 L378.25,132.93 L378.50,132.91 L378.75,132.88 L379.00,132.85 L379.25,132.82 L379.50,132.80 L379.75,132.77 L380.00,132.74 L380.25,132.71 L380.50,132.68 L380.75,132.65 L381.00,132.63 L381.25,132.60 L381.50,132.57 L381.75,132.54 L382.00,132.50 L382.25,132.47 L382.50,132.44 L382.75,132.41 L383.00,132.37 L383.25,132.34 L383.50,132.30 L383.75,132.26 L384.00,132.22 L384.25,132.18 L384.50,132.13 L384.75,132.08 L385.00,132.02 L385.25,131.96 L385.50,131.87 L385.75,131.77 L386.00,131.65 L386.25,131.49 L386.50,131.29 L386.75,131.06 L387.00,130.79 L387.25,130.50 L387.50,130.21 L387.75,129.95 L388.00,129.77 L388.25,129.70 L388.50,129.75 L388.75,129.90 L389.00,130.11 L389.25,130.34 L389.50,130.55 L389.75,130.74 L390.00,130.89 L390.25,131.01 L390.50,131.09 L390.75,131.15 L391.00,131.18 L391.25,131.20 L391.50,131.21 L391.75,131.21 L392.00,131.21 L392.25,131.20 L392.50,131.20 L392.75,131.19 L393.00,131.18 L393.25,131.17 L393.50,131.16 L393.75,131.16 L394.00,131.14 L394.25,131.12 L394.50,131.09 L394.75,131.05 L395.00,131.00 L395.25,130.95 L395.50,130.88 L395.75,130.82 L396.00,130.74 L396.25,130.65 L396.50,130.56 L396.75,130.46 L397.00,130.35 L397.25,130.23 L397.50,130.10 L397.75,129.97 L398.00,129.82 L398.25,129.67 L398.50,129.51 L398.75,129.36 L399.00,129.20 L399.25,129.04 L399.50,128.87 L399.75,128.70 L400.00,128.51 L400.25,128.32 L400.50,128.12 L400.75,127.91 L401.00,127.68 L401.25,127.45 L401.50,127.22 L401.75,126.99 L402.00,126.77 L402.25,126.57 L402.50,126.40 L402.75,126.28 L403.00,126.20 L403.25,126.17 L403.50,126.19 L403.75,126.25 L404.00,126.33 L404.25,126.42 L404.50,126.51 L404.75,126.59 L405.00,126.65 L405.25,126.68 L405.50,126.65 L405.75,126.57 L406.00,126.40 L406.25,126.15 L406.50,125.80 L406.75,125.34 L407.00,124.79 L407.25,124.15 L407.50,123.43 L407.75,122.66 L408.00,121.86 L408.25,121.06 L408.50,120.29 L408.75,119.57 L409.00,118.91 L409.25,118.34 L409.50,117.87 L409.75,117.49 L410.00,117.20 L410.25,117.01 L410.50,116.89 L410.75,116.85 L411.00,116.86 L411.25,116.91 L411.50,117.00 L411.75,117.14 L412.00,117.34 L412.25,117.61 L412.50,117.97 L412.75,118.42 L413.00,118.97 L413.25,119.62 L413.50,120.36 L413.75,121.17 L414.00,122.05 L414.25,122.97 L414.50,123.90 L414.75,124.83 L415.00,125.71 L415.25,126.54 L415.50,127.28 L415.75,127.93 L416.00,128.48 L416.25,128.93 L416.50,129.29 L416.75,129.58 L417.00,129.80 L417.25,129.97 L417.50,130.11 L417.75,130.21 L418.00,130.30 L418.25,130.37 L418.50,130.43 L418.75,130.49 L419.00,130.54 L419.25,130.58 L419.50,130.62 L419.75,130.65 L420.00,130.69 L420.25,130.72 L420.50,130.75 L420.75,130.77 L421.00,130.80 L421.25,130.82 L421.50,130.85 L421.75,130.87 L422.00,130.89 L422.25,130.91 L422.50,130.92 L422.75,130.94 L423.00,130.95 L423.25,130.97 L423.50,130.98 L423.75,130.99 L424.00,131.00 L424.25,131.02 L424.50,131.03 L424.75,131.04 L425.00,131.05 L425.25,131.06 L425.50,131.07 L425.75,131.08 L426.00,131.09 L426.25,131.10 L426.50,131.11 L426.75,131.12 L427.00,131.13 L427.25,131.14 L427.50,131.15 L427.75,131.16 L428.00,131.16 L428.25,131.17 L428.50,131.18 L428.75,131.18 L429.00,131.19 L429.25,131.19 L429.50,131.20 L429.75,131.20 L430.00,131.20 L430.25,131.20 L430.50,131.20 L430.75,131.20 L431.00,131.20 L431.25,131.19 L431.50,131.19 L431.75,131.18 L432.00,131.18 L432.25,131.17 L432.50,131.16 L432.75,131.15 L433.00,131.15 L433.25,131.14 L433.50,131.13 L433.75,131.12 L434.00,131.12 L434.25,131.11 L434.50,131.10 L434.75,131.09 L435.00,131.09 L435.25,131.08 L435.50,131.07 L435.75,131.06 L436.00,131.05 L436.25,131.05 L436.50,131.04 L436.75,131.03 L437.00,131.02 L437.25,131.02 L437.50,131.01 L437.75,131.00 L438.00,130.99 L438.25,130.98 L438.50,130.98 L438.75,130.97 L439.00,130.96 L439.25,130.95 L439.50,130.94 L439.75,130.94 L440.00,130.93 L440.25,130.92 L440.50,130.91 L440.75,130.90 L441.00,130.89 L441.25,130.89 L441.50,130.88 L441.75,130.87 L442.00,130.86 L442.25,130.85 L442.50,130.84 L442.75,130.84 L443.00,130.83 L443.25,130.82 L443.50,130.81 L443.75,130.80 L444.00,130.80 L444.25,130.79 L444.50,130.78 L444.75,130.77 L445.00,130.76 L445.25,130.75 L445.50,130.75 L445.75,130.74 L446.00,130.73 L446.25,130.72 L446.50,130.71 L446.75,130.70 L447.00,130.69 L447.25,130.69 L447.50,130.68 L447.75,130.67 L448.00,130.66 L448.25,130.65 L448.50,130.64 L448.75,130.64 L449.00,130.63 L449.25,130.62 L449.50,130.61 L449.75,130.60 L450.00,130.59 L450.25,130.58 L450.50,130.58 L450.75,130.57 L451.00,130.56 L451.25,130.55 L451.50,130.54 L451.75,130.53 L452.00,130.53 L452.25,130.52 L452.50,130.51 L452.75,130.50 L453.00,130.49 L453.25,130.48 L453.50,130.47 L453.75,130.47 L454.00,130.46 L454.25,130.45 L454.50,130.44 L454.75,130.43 L455.00,130.42 L455.25,130.41 L455.50,130.41 L455.75,130.40 L456.00,130.39 L456.25,130.38 L456.50,130.37 L456.75,130.36 L457.00,130.35 L457.25,130.35 L457.50,130.34 L457.75,130.33 L458.00,130.32 L458.25,130.31 L458.50,130.30 L458.75,130.29 L459.00,130.28 L459.25,130.28 L459.50,130.27 L459.75,130.26 L460.00,130.25 L460.25,130.24 L460.50,130.23 L460.75,130.22 L461.00,130.22 L461.25,130.21 L461.50,130.20 L461.75,130.19 L462.00,130.18 L462.25,130.17 L462.50,130.16 L462.75,130.16 L463.00,130.15 L463.25,130.14 L463.50,130.13 L463.75,130.12 L464.00,130.11 L464.25,130.10 L464.50,130.09 L464.75,130.09 L465.00,130.08 L465.25,130.07 L465.50,130.06 L465.75,130.05 L466.00,130.04 L466.25,130.03 L466.50,130.03 L466.75,130.02 L467.00,130.01 L467.25,130.00 L467.50,129.99 L467.75,129.98 L468.00,129.97 L468.25,129.96 L468.50,129.96 L468.75,129.95 L469.00,129.94 L469.25,129.93 L469.50,129.92 L469.75,129.91 L470.00,129.90 L470.25,129.89 L470.50,129.88 L470.75,129.87 L471.00,129.86 L471.25,129.85 L471.50,129.84 L471.75,129.83 L472.00,129.82 L472.25,129.81 L472.50,129.80 L472.75,129.79 L473.00,129.78 L473.25,129.77 L473.50,129.75 L473.75,129.74 L474.00,129.73 L474.25,129.72 L474.50,129.71 L474.75,129.70 L475.00,129.69 L475.25,129.68 L475.50,129.67 L475.75,129.66 L476.00,129.65 L476.25,129.64 L476.50,129.63 L476.75,129.62 L477.00,129.61 L477.25,129.59 L477.50,129.58 L477.75,129.57 L478.00,129.56 L478.25,129.55 L478.50,129.54 L478.75,129.53 L479.00,129.52 L479.25,129.51 L479.50,129.50 L479.75,129.49 L480.00,129.48 L480.25,129.47 L480.50,129.46 L480.75,129.44 L481.00,129.43 L481.25,129.42 L481.50,129.41 L481.75,129.40 L482.00,129.39 L482.25,129.38 L482.50,129.37 L482.75,129.36 L483.00,129.35 L483.25,129.34 L483.50,129.33 L483.75,129.32 L484.00,129.31 L484.25,129.30 L484.50,129.28 L484.75,129.27 L485.00,129.26 L485.25,129.25 L485.50,129.24 L485.75,129.23 L486.00,129.22 L486.25,129.21 L486.50,129.20 L486.75,129.19 L487.00,129.18 L487.25,129.17 L487.50,129.16 L487.75,129.15 L488.00,129.13 L488.25,129.12 L488.50,129.11 L488.75,129.10 L489.00,129.09 L489.25,129.08 L489.50,129.07 L489.75,129.06 L490.00,129.05 L490.25,129.04 L490.50,129.03 L490.75,129.02 L491.00,129.01 L491.25,129.00 L491.50,128.98 L491.75,128.97 L492.00,128.96 L492.25,128.95 L492.50,128.94 L492.75,128.93 L493.00,128.92 L493.25,128.91 L493.50,128.90 L493.75,128.89 L494.00,128.88 L494.25,128.87 L494.50,128.86 L494.75,128.85 L495.00,128.83 L495.25,128.82 L495.50,128.81 L495.75,128.80 L496.00,128.79 L496.25,128.78 L496.50,128.77 L496.75,128.76 L497.00,128.75 L497.25,128.74 L497.50,128.73 L497.75,128.72 L498.00,128.71 L498.25,128.70 L498.50,128.68 L498.75,128.67 L499.00,128.66 L499.25,128.65 L499.50,128.64 L499.75,128.63 L500.00,128.63 L500.25,128.62 L500.50,128.61 L500.75,128.61 L501.00,128.60"/>
<path d="M46.00,203.40 L46.25,203.36 L46.50,203.31 L46.75,203.26 L47.00,203.21 L47.25,203.15 L47.50,203.08 L47.75,203.02 L48.00,202.94 L48.25,202.87 L48.50,202.79 L48.75,202.71 L49.00,202.64 L49.25,202.56 L49.50,202.49 L49.75,202.42 L50.00,202.36 L50.25,202.29 L50.50,202.22 L50.75,202.16 L51.00,202.10 L51.25,202.04 L51.50,201.99 L51.75,201.93 L52.00,201.88 L52.25,201.82 L52.50,201.77 L52.75,201.73 L53.00,201.68 L53.25,201.63 L53.50,201.58 L53.75,201.53 L54.00,201.49 L54.25,201.44 L54.50,201.39 L54.75,201.34 L55.00,201.30 L55.25,201.26 L55.50,201.22 L55.75,201.19 L56.00,201.16 L56.25,201.14 L56.50,201.12 L56.75,201.10 L57.00,201.09 L57.25,201.08 L57.50,201.08 L57.75,201.08 L58.00,201.09 L58.25,201.10 L58.50,201.11 L58.75,201.13 L59.00,201.15 L59.25,201.17 L59.50,201.19 L59.75,201.21 L60.00,201.21 L60.25,201.21 L60.50,201.20 L60.75,201.18 L61.00,201.16 L61.25,201.12 L61.50,201.08 L61.75,201.04 L62.00,200.98 L62.25,200.92 L62.50,200.84 L62.75,200.76 L63.00,200.67 L63.25,200.58 L63.50,200.48 L63.75,200.38 L64.00,200.27 L64.25,200.17 L64.50,200.06 L64.75,199.94 L65.00,199.80 L65.25,199.64 L65.50,199.46 L65.75,199.23 L66.00,198.96 L66.25,198.64 L66.50,198.26 L66.75,197.82 L67.00,197.31 L67.25,196.75 L67.50,196.14 L67.75,195.50 L68.00,194.86 L68.25,194.28 L68.50,193.80 L68.75,193.49 L69.00,193.40 L69.25,193.54 L69.50,193.90 L69.75,194.42 L70.00,195.05 L70.25,195.73 L70.50,196.42 L70.75,197.08 L71.00,197.69 L71.25,198.23 L71.50,198.71 L71.75,199.11 L72.00,199.46 L72.25,199.74 L72.50,199.97 L72.75,200.15 L73.00,200.30 L73.25,200.42 L73.50,200.52 L73.75,200.60 L74.00,200.67 L74.25,200.73 L74.50,200.79 L74.75,200.83 L75.00,200.87 L75.25,200.91 L75.50,200.95 L75.75,200.98 L76.00,201.01 L76.25,201.04 L76.50,201.07 L76.75,201.10 L77.00,201.12 L77.25,201.14 L77.50,201.17 L77.75,201.19 L78.00,201.21 L78.25,201.23 L78.50,201.25 L78.75,201.26 L79.00,201.28 L79.25,201.30 L79.50,201.31 L79.75,201.33 L80.00,201.35 L80.25,201.36 L80.50,201.38 L80.75,201.39 L81.00,201.40 L81.25,201.42 L81.50,201.43 L81.75,201.45 L82.00,201.46 L82.25,201.47 L82.50,201.49 L82.75,201.50 L83.00,201.51 L83.25,201.53 L83.50,201.54 L83.75,201.55 L84.00,201.56 L84.25,201.57 L84.50,201.57 L84.75,201.57 L85.00,201.57 L85.25,201.56 L85.50,201.54 L85.75,201.52 L86.00,201.50 L86.25,201.47 L86.50,201.44 L86.75,201.40 L87.00,201.36 L87.25,201.32 L87.50,201.26 L87.75,201.21 L88.00,201.15 L88.25,201.09 L88.50,201.03 L88.75,200.98 L89.00,200.92 L89.25,200.86 L89.50,200.79 L89.75,200.72 L90.00,200.63 L90.25,200.51 L90.50,200.37 L90.75,200.20 L91.00,199.99 L91.25,199.75 L91.50,199.47 L91.75,199.18 L92.00,198.91 L92.25,198.67 L92.50,198.53 L92.75,198.51 L93.00,198.62 L93.25,198.85 L93.50,199.15 L93.75,199.48 L94.00,199.80 L94.25,200.09 L94.50,200.35 L94.75,200.56 L95.00,200.73 L95.25,200.86 L95.50,200.97 L95.75,201.04 L96.00,201.10 L96.25,201.14 L96.50,201.17 L96.75,201.20 L97.00,201.22 L97.25,201.23 L97.50,201.24 L97.75,201.24 L98.00,201.25 L98.25,201.25 L98.50,201.25 L98.75,201.24 L99.00,201.24 L99.25,201.24 L99.50,201.24 L99.75,201.23 L100.00,201.23 L100.25,201.22 L100.50,201.22 L100.75,201.22 L101.00,201.21 L101.25,201.21 L101.50,201.20 L101.75,201.19 L102.00,201.19 L102.25,201.18 L102.50,201.18 L102.75,201.17 L103.00,201.16 L103.25,201.15 L103.50,201.15 L103.75,201.14 L104.00,201.12 L104.25,201.11 L104.50,201.10 L104.75,201.09 L105.00,201.07 L105.25,201.06 L105.50,201.04 L105.75,201.02 L106.00,201.01 L106.25,200.99 L106.50,200.97 L106.75,200.95 L107.00,200.93 L107.25,200.91 L107.50,200.89 L107.75,200.87 L108.00,200.85 L108.25,200.83 L108.50,200.81 L108.75,200.78 L109.00,200.76 L109.25,200.74 L109.50,200.72 L109.75,200.70 L110.00,200.68 L110.25,200.66 L110.50,200.64 L110.75,200.61 L111.00,200.59 L111.25,200.57 L111.50,200.55 L111.75,200.53 L112.00,200.50 L112.25,200.48 L112.50,200.45 L112.75,200.42 L113.00,200.39 L113.25,200.36 L113.50,200.33 L113.75,200.29 L114.00,200.26 L114.25,200.22 L114.50,200.17 L114.75,200.13 L115.00,200.07 L115.25,200.02 L115.50,199.95 L115.75,199.88 L116.00,199.80 L116.25,199.72 L116.50,199.62 L116.75,199.52 L117.00,199.41 L117.25,199.28 L117.50,199.15 L117.75,199.01 L118.00,198.87 L118.25,198.72 L118.50,198.57 L118.75,198.42 L119.00,198.29 L119.25,198.17 L119.50,198.07 L119.75,198.01 L120.00,197.97 L120.25,197.97 L120.50,197.99 L120.75,198.03 L121.00,198.09 L121.25,198.15 L121.50,198.21 L121.75,198.27 L122.00,198.33 L122.25,198.38 L122.50,198.42 L122.75,198.45 L123.00,198.48 L123.25,198.51 L123.50,198.53 L123.75,198.55 L124.00,198.57 L124.25,198.59 L124.50,198.60 L124.75,198.61 L125.00,198.63 L125.25,198.65 L125.50,198.67 L125.75,198.69 L126.00,198.71 L126.25,198.73 L126.50,198.75 L126.75,198.77 L127.00,198.78 L127.25,198.79 L127.50,198.80 L127.75,198.80 L128.00,198.80 L128.25,198.79 L128.50,198.78 L128.75,198.76 L129.00,198.74 L129.25,198.72 L129.50,198.69 L129.75,198.66 L130.00,198.63 L130.25,198.59 L130.50,198.56 L130.75,198.52 L131.00,198.48 L131.25,198.45 L131.50,198.41 L131.75,198.38 L132.00,198.34 L132.25,198.30 L132.50,198.27 L132.75,198.23 L133.00,198.19 L133.25,198.16 L133.50,198.12 L133.75,198.08 L134.00,198.05 L134.25,198.02 L134.50,197.99 L134.75,197.96 L135.00,197.94 L135.25,197.91 L135.50,197.89 L135.75,197.87 L136.00,197.85 L136.25,197.83 L136.50,197.82 L136.75,197.80 L137.00,197.78 L137.25,197.77 L137.50,197.75 L137.75,197.73 L138.00,197.70 L138.25,197.67 L138.50,197.63 L138.75,197.58 L139.00,197.51 L139.25,197.42 L139.50,197.32 L139.75,197.19 L140.00,197.04 L140.25,196.87 L140.50,196.68 L140.75,196.48 L141.00,196.26 L141.25,196.06 L141.50,195.87 L141.75,195.72 L142.00,195.62 L142.25,195.60 L142.50,195.65 L142.75,195.77 L143.00,195.94 L143.25,196.14 L143.50,196.36 L143.75,196.57 L144.00,196.77 L144.25,196.95 L144.50,197.11 L144.75,197.25 L145.00,197.37 L145.25,197.46 L145.50,197.53 L145.75,197.59 L146.00,197.63 L146.25,197.67 L146.50,197.69 L146.75,197.70 L147.00,197.71 L147.25,197.72 L147.50,197.72 L147.75,197.72 L148.00,197.71 L148.25,197.70 L148.50,197.69 L148.75,197.69 L149.00,197.68 L149.25,197.67 L149.50,197.66 L149.75,197.65 L150.00,197.64 L150.25,197.63 L150.50,197.61 L150.75,197.60 L151.00,197.59 L151.25,197.57 L151.50,197.55 L151.75,197.53 L152.00,197.49 L152.25,197.44 L152.50,197.37 L152.75,197.28 L153.00,197.16 L153.25,197.00 L153.50,196.81 L153.75,196.57 L154.00,196.30 L154.25,196.01 L154.50,195.73 L154.75,195.49 L155.00,195.34 L155.25,195.30 L155.50,195.40 L155.75,195.61 L156.00,195.88 L156.25,196.18 L156.50,196.48 L156.75,196.75 L157.00,196.98 L157.25,197.17 L157.50,197.31 L157.75,197.42 L158.00,197.50 L158.25,197.55 L158.50,197.58 L158.75,197.60 L159.00,197.60 L159.25,197.60 L159.50,197.58 L159.75,197.56 L160.00,197.54 L160.25,197.51 L160.50,197.47 L160.75,197.43 L161.00,197.39 L161.25,197.34 L161.50,197.30 L161.75,197.25 L162.00,197.20 L162.25,197.15 L162.50,197.10 L162.75,197.05 L163.00,197.00 L163.25,196.94 L163.50,196.88 L163.75,196.81 L164.00,196.74 L164.25,196.65 L164.50,196.56 L164.75,196.44 L165.00,196.31 L165.25,196.15 L165.50,195.97 L165.75,195.77 L166.00,195.54 L166.25,195.30 L166.50,195.04 L166.75,194.79 L167.00,194.54 L167.25,194.34 L167.50,194.18 L167.75,194.11 L168.00,194.11 L168.25,194.19 L168.50,194.34 L168.75,194.53 L169.00,194.74 L169.25,194.96 L169.50,195.17 L169.75,195.36 L170.00,195.53 L170.25,195.68 L170.50,195.81 L170.75,195.91 L171.00,195.99 L171.25,196.05 L171.50,196.10 L171.75,196.14 L172.00,196.16 L172.25,196.18 L172.50,196.19 L172.75,196.20 L173.00,196.21 L173.25,196.22 L173.50,196.22 L173.75,196.23 L174.00,196.23 L174.25,196.23 L174.50,196.23 L174.75,196.23 L175.00,196.23 L175.25,196.23 L175.50,196.23 L175.75,196.23 L176.00,196.23 L176.25,196.23 L176.50,196.22 L176.75,196.22 L177.00,196.22 L177.25,196.21 L177.50,196.21 L177.75,196.21 L178.00,196.20 L178.25,196.20 L178.50,196.20 L178.75,196.19 L179.00,196.19 L179.25,196.18 L179.50,196.18 L179.75,196.17 L180.00,196.17 L180.25,196.16 L180.50,196.15 L180.75,196.14 L181.00,196.13 L181.25,196.11 L181.50,196.10 L181.75,196.08 L182.00,196.07 L182.25,196.05 L182.50,196.03 L182.75,196.01 L183.00,195.99 L183.25,195.97 L183.50,195.94 L183.75,195.92 L184.00,195.89 L184.25,195.87 L184.50,195.84 L184.75,195.82 L185.00,195.79 L185.25,195.76 L185.50,195.74 L185.75,195.71 L186.00,195.69 L186.25,195.66 L186.50,195.64 L186.75,195.61 L187.00,195.59 L187.25,195.56 L187.50,195.53 L187.75,195.51 L188.00,195.48 L188.25,195.46 L188.50,195.43 L188.75,195.41 L189.00,195.38 L189.25,195.36 L189.50,195.34 L189.75,195.33 L190.00,195.32 L190.25,195.31 L190.50,195.30 L190.75,195.30 L191.00,195.30 L191.25,195.30 L191.50,195.31 L191.75,195.32 L192.00,195.33 L192.25,195.34 L192.50,195.36 L192.75,195.38 L193.00,195.40 L193.25,195.42 L193.50,195.44 L193.75,195.46 L194.00,195.47 L194.25,195.48 L194.50,195.49 L194.75,195.50 L195.00,195.50 L195.25,195.50 L195.50,195.50 L195.75,195.50 L196.00,195.49 L196.25,195.48 L196.50,195.47 L196.75,195.46 L197.00,195.44 L197.25,195.43 L197.50,195.41 L197.75,195.39 L198.00,195.37 L198.25,195.35 L198.50,195.34 L198.75,195.32 L199.00,195.30 L199.25,195.28 L199.50,195.26 L199.75,195.25 L200.00,195.23 L200.25,195.21 L200.50,195.19 L200.75,195.17 L201.00,195.16 L201.25,195.14 L201.50,195.12 L201.75,195.10 L202.00,195.08 L202.25,195.07 L202.50,195.05 L202.75,195.03 L203.00,195.01 L203.25,194.99 L203.50,194.96 L203.75,194.94 L204.00,194.92 L204.25,194.90 L204.50,194.87 L204.75,194.85 L205.00,194.82 L205.25,194.79 L205.50,194.77 L205.75,194.74 L206.00,194.71 L206.25,194.68 L206.50,194.65 L206.75,194.62 L207.00,194.59 L207.25,194.56 L207.50,194.53 L207.75,194.50 L208.00,194.47 L208.25,194.44 L208.50,194.41 L208.75,194.38 L209.00,194.35 L209.25,194.32 L209.50,194.29 L209.75,194.26 L210.00,194.23 L210.25,194.19 L210.50,194.15 L210.75,194.10 L211.00,194.04 L211.25,193.98 L211.50,193.92 L211.75,193.85 L212.00,193.77 L212.25,193.69 L212.50,193.60 L212.75,193.50 L213.00,193.40 L213.25,193.30 L213.50,193.19 L213.75,193.07 L214.00,192.95 L214.25,192.82 L214.50,192.70 L214.75,192.57 L215.00,192.45 L215.25,192.32 L215.50,192.19 L215.75,192.07 L216.00,191.94 L216.25,191.81 L216.50,191.69 L216.75,191.56 L217.00,191.43 L217.25,191.30 L217.50,191.18 L217.75,191.05 L218.00,190.93 L218.25,190.82 L218.50,190.71 L218.75,190.61 L219.00,190.51 L219.25,190.42 L219.50,190.33 L219.75,190.25 L220.00,190.18 L220.25,190.10 L220.50,190.04 L220.75,189.98 L221.00,189.92 L221.25,189.87 L221.50,189.83 L221.75,189.79 L222.00,189.75 L222.25,189.71 L222.50,189.66 L222.75,189.61 L223.00,189.55 L223.25,189.49 L223.50,189.42 L223.75,189.35 L224.00,189.27 L224.25,189.18 L224.50,189.09 L224.75,188.98 L225.00,188.87 L225.25,188.75 L225.50,188.62 L225.75,188.48 L226.00,188.32 L226.25,188.13 L226.50,187.90 L226.75,187.63 L227.00,187.30 L227.25,186.89 L227.50,186.38 L227.75,185.77 L228.00,185.04 L228.25,184.20 L228.50,183.25 L228.75,182.23 L229.00,181.19 L229.25,180.19 L229.50,179.33 L229.75,178.74 L230.00,178.50 L230.25,178.66 L230.50,179.18 L230.75,179.94 L231.00,180.84 L231.25,181.76 L231.50,182.61 L231.75,183.36 L232.00,183.94 L232.25,184.35 L232.50,184.57 L232.75,184.61 L233.00,184.46 L233.25,184.15 L233.50,183.70 L233.75,183.12 L234.00,182.45 L234.25,181.74 L234.50,181.02 L234.75,180.37 L235.00,179.86 L235.25,179.55 L235.50,179.50 L235.75,179.74 L236.00,180.24 L236.25,180.95 L236.50,181.80 L236.75,182.72 L237.00,183.67 L237.25,184.58 L237.50,185.45 L237.75,186.23 L238.00,186.94 L238.25,187.56 L238.50,188.09 L238.75,188.54 L239.00,188.93 L239.25,189.25 L239.50,189.51 L239.75,189.74 L240.00,189.93 L240.25,190.09 L240.50,190.24 L240.75,190.36 L241.00,190.47 L241.25,190.55 L241.50,190.63 L241.75,190.69 L242.00,190.73 L242.25,190.77 L242.50,190.79 L242.75,190.80 L243.00,190.80 L243.25,190.79 L243.50,190.77 L243.75,190.74 L244.00,190.70 L244.25,190.66 L244.50,190.62 L244.75,190.57 L245.00,190.51 L245.25,190.45 L245.50,190.38 L245.75,190.32 L246.00,190.24 L246.25,190.15 L246.50,190.05 L246.75,189.93 L247.00,189.80 L247.25,189.65 L247.50,189.49 L247.75,189.30 L248.00,189.11 L248.25,188.89 L248.50,188.67 L248.75,188.44 L249.00,188.22 L249.25,188.02 L249.50,187.86 L249.75,187.75 L250.00,187.70 L250.25,187.70 L250.50,187.76 L250.75,187.83 L251.00,187.92 L251.25,187.98 L251.50,187.99 L251.75,187.91 L252.00,187.70 L252.25,187.31 L252.50,186.67 L252.75,185.74 L253.00,184.43 L253.25,182.69 L253.50,180.48 L253.75,177.75 L254.00,174.55 L254.25,170.93 L254.50,167.07 L254.75,163.19 L255.00,159.68 L255.25,156.97 L255.50,155.54 L255.75,155.67 L256.00,157.32 L256.25,160.16 L256.50,163.72 L256.75,167.57 L257.00,171.36 L257.25,174.88 L257.50,178.00 L257.75,180.65 L258.00,182.83 L258.25,184.58 L258.50,185.94 L258.75,186.98 L259.00,187.77 L259.25,188.36 L259.50,188.80 L259.75,189.15 L260.00,189.42 L260.25,189.63 L260.50,189.82 L260.75,189.97 L261.00,190.12 L261.25,190.24 L261.50,190.36 L261.75,190.48 L262.00,190.59 L262.25,190.69 L262.50,190.78 L262.75,190.86 L263.00,190.93 L263.25,191.00 L263.50,191.06 L263.75,191.12 L264.00,191.17 L264.25,191.21 L264.50,191.25 L264.75,191.28 L265.00,191.31 L265.25,191.33 L265.50,191.35 L265.75,191.37 L266.00,191.38 L266.25,191.39 L266.50,191.40 L266.75,191.40 L267.00,191.41 L267.25,191.41 L267.50,191.41 L267.75,191.41 L268.00,191.41 L268.25,191.41 L268.50,191.41 L268.75,191.40 L269.00,191.39 L269.25,191.38 L269.50,191.37 L269.75,191.35 L270.00,191.34 L270.25,191.31 L270.50,191.29 L270.75,191.26 L271.00,191.24 L271.25,191.20 L271.50,191.17 L271.75,191.13 L272.00,191.09 L272.25,191.05 L272.50,191.01 L272.75,190.96 L273.00,190.92 L273.25,190.87 L273.50,190.83 L273.75,190.78 L274.00,190.73 L274.25,190.69 L274.50,190.64 L274.75,190.59 L275.00,190.55 L275.25,190.50 L275.50,190.45 L275.75,190.40 L276.00,190.35 L276.25,190.30 L276.50,190.25 L276.75,190.20 L277.00,190.15 L277.25,190.10 L277.50,190.04 L277.75,189.99 L278.00,189.93 L278.25,189.88 L278.50,189.82 L278.75,189.76 L279.00,189.70 L279.25,189.64 L279.50,189.58 L279.75,189.52 L280.00,189.46 L280.25,189.39 L280.50,189.33 L280.75,189.27 L281.00,189.21 L281.25,189.14 L281.50,189.08 L281.75,189.02 L282.00,188.95 L282.25,188.89 L282.50,188.82 L282.75,188.76 L283.00,188.69 L283.25,188.63 L283.50,188.56 L283.75,188.50 L284.00,188.45 L284.25,188.40 L284.50,188.35 L284.75,188.30 L285.00,188.26 L285.25,188.22 L285.50,188.19 L285.75,188.15 L286.00,188.13 L286.25,188.10 L286.50,188.08 L286.75,188.06 L287.00,188.04 L287.25,188.02 L287.50,188.00 L287.75,187.98 L288.00,187.94 L288.25,187.90 L288.50,187.84 L288.75,187.76 L289.00,187.66 L289.25,187.54 L289.50,187.40 L289.75,187.23 L290.00,187.03 L290.25,186.80 L290.50,186.54 L290.75,186.26 L291.00,185.95 L291.25,185.63 L291.50,185.30 L291.75,184.98 L292.00,184.69 L292.25,184.45 L292.50,184.28 L292.75,184.19 L293.00,184.18 L293.25,184.25 L293.50,184.39 L293.75,184.56 L294.00,184.76 L294.25,184.96 L294.50,185.15 L294.75,185.34 L295.00,185.50 L295.25,185.65 L295.50,185.78 L295.75,185.88 L296.00,185.98 L296.25,186.05 L296.50,186.12 L296.75,186.17 L297.00,186.22 L297.25,186.26 L297.50,186.30 L297.75,186.34 L298.00,186.37 L298.25,186.41 L298.50,186.46 L298.75,186.50 L299.00,186.55 L299.25,186.59 L299.50,186.61 L299.75,186.63 L300.00,186.64 L300.25,186.64 L300.50,186.63 L300.75,186.61 L301.00,186.58 L301.25,186.53 L301.50,186.48 L301.75,186.42 L302.00,186.36 L302.25,186.28 L302.50,186.19 L302.75,186.09 L303.00,185.98 L303.25,185.87 L303.50,185.75 L303.75,185.64 L304.00,185.52 L304.25,185.40 L304.50,185.30 L304.75,185.23 L305.00,185.17 L305.25,185.13 L305.50,185.10 L305.75,185.09 L306.00,185.09 L306.25,185.10 L306.50,185.12 L306.75,185.13 L307.00,185.14 L307.25,185.14 L307.50,185.11 L307.75,185.04 L308.00,184.94 L308.25,184.79 L308.50,184.58 L308.75,184.29 L309.00,183.92 L309.25,183.49 L309.50,183.01 L309.75,182.52 L310.00,182.03 L310.25,181.60 L310.50,181.27 L310.75,181.11 L311.00,181.13 L311.25,181.31 L311.50,181.60 L311.75,181.93 L312.00,182.23 L312.25,182.45 L312.50,182.54 L312.75,182.50 L313.00,182.29 L313.25,181.93 L313.50,181.44 L313.75,180.84 L314.00,180.16 L314.25,179.49 L314.50,178.87 L314.75,178.39 L315.00,178.08 L315.25,178.00 L315.50,178.16 L315.75,178.54 L316.00,179.10 L316.25,179.80 L316.50,180.59 L316.75,181.40 L317.00,182.22 L317.25,183.01 L317.50,183.74 L317.75,184.41 L318.00,185.01 L318.25,185.53 L318.50,185.97 L318.75,186.34 L319.00,186.64 L319.25,186.88 L319.50,187.06 L319.75,187.21 L320.00,187.32 L320.25,187.41 L320.50,187.49 L320.75,187.55 L321.00,187.60 L321.25,187.65 L321.50,187.70 L321.75,187.75 L322.00,187.80 L322.25,187.85 L322.50,187.91 L322.75,187.98 L323.00,188.05 L323.25,188.13 L323.50,188.22 L323.75,188.31 L324.00,188.40 L324.25,188.49 L324.50,188.58 L324.75,188.66 L325.00,188.75 L325.25,188.83 L325.50,188.90 L325.75,188.96 L326.00,189.02 L326.25,189.08 L326.50,189.13 L326.75,189.18 L327.00,189.22 L327.25,189.25 L327.50,189.28 L327.75,189.30 L328.00,189.32 L328.25,189.34 L328.50,189.35 L328.75,189.35 L329.00,189.35 L329.25,189.34 L329.50,189.34 L329.75,189.33 L330.00,189.33 L330.25,189.32 L330.50,189.31 L330.75,189.30 L331.00,189.30 L331.25,189.29 L331.50,189.28 L331.75,189.27 L332.00,189.26 L332.25,189.24 L332.50,189.23 L332.75,189.22 L333.00,189.21 L333.25,189.19 L333.50,189.18 L333.75,189.16 L334.00,189.14 L334.25,189.12 L334.50,189.10 L334.75,189.08 L335.00,189.05 L335.25,189.02 L335.50,188.99 L335.75,188.96 L336.00,188.91 L336.25,188.86 L336.50,188.79 L336.75,188.70 L337.00,188.60 L337.25,188.48 L337.50,188.34 L337.75,188.17 L338.00,187.96 L338.25,187.72 L338.50,187.43 L338.75,187.10 L339.00,186.72 L339.25,186.29 L339.50,185.80 L339.75,185.25 L340.00,184.66 L340.25,184.03 L340.50,183.37 L340.75,182.71 L341.00,182.05 L341.25,181.43 L341.50,180.88 L341.75,180.43 L342.00,180.13 L342.25,179.98 L342.50,180.01 L342.75,180.18 L343.00,180.49 L343.25,180.88 L343.50,181.33 L343.75,181.81 L344.00,182.29 L344.25,182.75 L344.50,183.17 L344.75,183.56 L345.00,183.89 L345.25,184.18 L345.50,184.41 L345.75,184.59 L346.00,184.73 L346.25,184.83 L346.50,184.89 L346.75,184.91 L347.00,184.91 L347.25,184.88 L347.50,184.83 L347.75,184.77 L348.00,184.68 L348.25,184.58 L348.50,184.47 L348.75,184.33 L349.00,184.18 L349.25,184.00 L349.50,183.80 L349.75,183.57 L350.00,183.30 L350.25,182.99 L350.50,182.64 L350.75,182.24 L351.00,181.78 L351.25,181.26 L351.50,180.67 L351.75,180.01 L352.00,179.28 L352.25,178.49 L352.50,177.63 L352.75,176.71 L353.00,175.74 L353.25,174.75 L353.50,173.74 L353.75,172.75 L354.00,171.80 L354.25,170.95 L354.50,170.22 L354.75,169.67 L355.00,169.32 L355.25,169.19 L355.50,169.31 L355.75,169.64 L356.00,170.17 L356.25,170.85 L356.50,171.64 L356.75,172.51 L357.00,173.41 L357.25,174.31 L357.50,175.20 L357.75,176.05 L358.00,176.85 L358.25,177.58 L358.50,178.25 L358.75,178.85 L359.00,179.38 L359.25,179.85 L359.50,180.25 L359.75,180.59 L360.00,180.88 L360.25,181.13 L360.50,181.36 L360.75,181.56 L361.00,181.74 L361.25,181.90 L361.50,182.06 L361.75,182.21 L362.00,182.36 L362.25,182.51 L362.50,182.66 L362.75,182.82 L363.00,182.98 L363.25,183.15 L363.50,183.32 L363.75,183.51 L364.00,183.71 L364.25,183.91 L364.50,184.11 L364.75,184.30 L365.00,184.50 L365.25,184.69 L365.50,184.88 L365.75,185.07 L366.00,185.26 L366.25,185.44 L366.50,185.61 L366.75,185.78 L367.00,185.93 L367.25,186.08 L367.50,186.21 L367.75,186.34 L368.00,186.46 L368.25,186.57 L368.50,186.66 L368.75,186.76 L369.00,186.84 L369.25,186.91 L369.50,186.97 L369.75,187.03 L370.00,187.08 L370.25,187.12 L370.50,187.15 L370.75,187.18 L371.00,187.22 L371.25,187.25 L371.50,187.28 L371.75,187.32 L372.00,187.35 L372.25,187.38 L372.50,187.41 L372.75,187.45 L373.00,187.48 L373.25,187.51 L373.50,187.54 L373.75,187.57 L374.00,187.60 L374.25,187.62 L374.50,187.65 L374.75,187.66 L375.00,187.68 L375.25,187.69 L375.50,187.70 L375.75,187.70 L376.00,187.70 L376.25,187.70 L376.50,187.69 L376.75,187.68 L377.00,187.67 L377.25,187.65 L377.50,187.63 L377.75,187.61 L378.00,187.58 L378.25,187.55 L378.50,187.53 L378.75,187.50 L379.00,187.47 L379.25,187.44 L379.50,187.41 L379.75,187.39 L380.00,187.36 L380.25,187.33 L380.50,187.30 L380.75,187.27 L381.00,187.24 L381.25,187.21 L381.50,187.18 L381.75,187.15 L382.00,187.11 L382.25,187.08 L382.50,187.05 L382.75,187.01 L383.00,186.98 L383.25,186.94 L383.50,186.90 L383.75,186.86 L384.00,186.82 L384.25,186.77 L384.50,186.72 L384.75,186.67 L385.00,186.60 L385.25,186.53 L385.50,186.43 L385.75,186.31 L386.00,186.16 L386.25,185.97 L386.50,185.74 L386.75,185.45 L387.00,185.13 L387.25,184.78 L387.50,184.42 L387.75,184.10 L388.00,183.88 L388.25,183.80 L388.50,183.87 L388.75,184.07 L389.00,184.34 L389.25,184.64 L389.50,184.92 L389.75,185.16 L390.00,185.36 L390.25,185.52 L390.50,185.64 L390.75,185.72 L391.00,185.77 L391.25,185.81 L391.50,185.83 L391.75,185.84 L392.00,185.85 L392.25,185.85 L392.50,185.86 L392.75,185.86 L393.00,185.86 L393.25,185.86 L393.50,185.87 L393.75,185.87 L394.00,185.87 L394.25,185.87 L394.50,185.87 L394.75,185.86 L395.00,185.83 L395.25,185.79 L395.50,185.74 L395.75,185.67 L396.00,185.59 L396.25,185.50 L396.50,185.40 L396.75,185.28 L397.00,185.15 L397.25,185.01 L397.50,184.85 L397.75,184.68 L398.00,184.49 L398.25,184.28 L398.50,184.07 L398.75,183.84 L399.00,183.61 L399.25,183.39 L399.50,183.16 L399.75,182.93 L400.00,182.69 L400.25,182.45 L400.50,182.20 L400.75,181.94 L401.00,181.68 L401.25,181.41 L401.50,181.15 L401.75,180.89 L402.00,180.64 L402.25,180.42 L402.50,180.23 L402.75,180.09 L403.00,180.00 L403.25,179.96 L403.50,179.96 L403.75,180.00 L404.00,180.07 L404.25,180.15 L404.50,180.22 L404.75,180.29 L405.00,180.34 L405.25,180.34 L405.50,180.29 L405.75,180.16 L406.00,179.95 L406.25,179.64 L406.50,179.21 L406.75,178.66 L407.00,178.00 L407.25,177.23 L407.50,176.37 L407.75,175.46 L408.00,174.51 L408.25,173.56 L408.50,172.65 L408.75,171.80 L409.00,171.03 L409.25,170.36 L409.50,169.79 L409.75,169.35 L410.00,169.02 L410.25,168.79 L410.50,168.67 L410.75,168.62 L411.00,168.64 L411.25,168.72 L411.50,168.83 L411.75,169.00 L412.00,169.25 L412.25,169.59 L412.50,170.02 L412.75,170.57 L413.00,171.23 L413.25,172.01 L413.50,172.90 L413.75,173.88 L414.00,174.94 L414.25,176.04 L414.50,177.17 L414.75,178.28 L415.00,179.34 L415.25,180.33 L415.50,181.23 L415.75,182.01 L416.00,182.68 L416.25,183.23 L416.50,183.69 L416.75,184.05 L417.00,184.33 L417.25,184.56 L417.50,184.75 L417.75,184.90 L418.00,185.03 L418.25,185.15 L418.50,185.25 L418.75,185.35 L419.00,185.43 L419.25,185.51 L419.50,185.58 L419.75,185.65 L420.00,185.71 L420.25,185.77 L420.50,185.82 L420.75,185.87 L421.00,185.91 L421.25,185.95 L421.50,185.98 L421.75,186.02 L422.00,186.04 L422.25,186.06 L422.50,186.08 L422.75,186.10 L423.00,186.11 L423.25,186.12 L423.50,186.14 L423.75,186.15 L424.00,186.16 L424.25,186.17 L424.50,186.18 L424.75,186.19 L425.00,186.20 L425.25,186.21 L425.50,186.22 L425.75,186.22 L426.00,186.23 L426.25,186.23 L426.50,186.24 L426.75,186.24 L427.00,186.25 L427.25,186.25 L427.50,186.25 L427.75,186.26 L428.00,186.26 L428.25,186.26 L428.50,186.27 L428.75,186.27 L429.00,186.27 L429.25,186.27 L429.50,186.28 L429.75,186.28 L430.00,186.28 L430.25,186.28 L430.50,186.28 L430.75,186.28 L431.00,186.29 L431.25,186.29 L431.50,186.29 L431.75,186.29 L432.00,186.29 L432.25,186.29 L432.50,186.30 L432.75,186.30 L433.00,186.30 L433.25,186.30 L433.50,186.30 L433.75,186.30 L434.00,186.30 L434.25,186.30 L434.50,186.30 L434.75,186.30 L435.00,186.31 L435.25,186.31 L435.50,186.31 L435.75,186.31 L436.00,186.31 L436.25,186.31 L436.50,186.31 L436.75,186.31 L437.00,186.31 L437.25,186.31 L437.50,186.31 L437.75,186.31 L438.00,186.31 L438.25,186.31 L438.50,186.31 L438.75,186.31 L439.00,186.31 L439.25,186.31 L439.50,186.31 L439.75,186.31 L440.00,186.32 L440.25,186.32 L440.50,186.32 L440.75,186.32 L441.00,186.32 L441.25,186.32 L441.50,186.32 L441.75,186.32 L442.00,186.32 L442.25,186.32 L442.50,186.32 L442.75,186.32 L443.00,186.32 L443.25,186.32 L443.50,186.32 L443.75,186.32 L444.00,186.32 L444.25,186.32 L444.50,186.32 L444.75,186.32 L445.00,186.32 L445.25,186.32 L445.50,186.32 L445.75,186.32 L446.00,186.32 L446.25,186.32 L446.50,186.32 L446.75,186.32 L447.00,186.32 L447.25,186.32 L447.50,186.32 L447.75,186.32 L448.00,186.32 L448.25,186.32 L448.50,186.32 L448.75,186.32 L449.00,186.32 L449.25,186.32 L449.50,186.32 L449.75,186.32 L450.00,186.32 L450.25,186.32 L450.50,186.32 L450.75,186.32 L451.00,186.32 L451.25,186.31 L451.50,186.31 L451.75,186.31 L452.00,186.31 L452.25,186.31 L452.50,186.31 L452.75,186.31 L453.00,186.31 L453.25,186.31 L453.50,186.31 L453.75,186.31 L454.00,186.31 L454.25,186.31 L454.50,186.31 L454.75,186.31 L455.00,186.31 L455.25,186.31 L455.50,186.31 L455.75,186.31 L456.00,186.31 L456.25,186.31 L456.50,186.31 L456.75,186.31 L457.00,186.31 L457.25,186.31 L457.50,186.31 L457.75,186.31 L458.00,186.31 L458.25,186.31 L458.50,186.31 L458.75,186.31 L459.00,186.31 L459.25,186.30 L459.50,186.30 L459.75,186.30 L460.00,186.30 L460.25,186.30 L460.50,186.30 L460.75,186.29 L461.00,186.29 L461.25,186.29 L461.50,186.29 L461.75,186.28 L462.00,186.28 L462.25,186.28 L462.50,186.28 L462.75,186.27 L463.00,186.27 L463.25,186.27 L463.50,186.26 L463.75,186.26 L464.00,186.26 L464.25,186.25 L464.50,186.25 L464.75,186.25 L465.00,186.24 L465.25,186.24 L465.50,186.24 L465.75,186.24 L466.00,186.23 L466.25,186.23 L466.50,186.23 L466.75,186.22 L467.00,186.22 L467.25,186.22 L467.50,186.21 L467.75,186.21 L468.00,186.21 L468.25,186.20 L468.50,186.20 L468.75,186.20 L469.00,186.20 L469.25,186.19 L469.50,186.19 L469.75,186.19 L470.00,186.18 L470.25,186.18 L470.50,186.18 L470.75,186.17 L471.00,186.17 L471.25,186.17 L471.50,186.16 L471.75,186.16 L472.00,186.16 L472.25,186.16 L472.50,186.15 L472.75,186.15 L473.00,186.15 L473.25,186.14 L473.50,186.14 L473.75,186.14 L474.00,186.13 L474.25,186.13 L474.50,186.13 L474.75,186.12 L475.00,186.12 L475.25,186.12 L475.50,186.11 L475.75,186.11 L476.00,186.11 L476.25,186.11 L476.50,186.10 L476.75,186.10 L477.00,186.10 L477.25,186.09 L477.50,186.09 L477.75,186.09 L478.00,186.08 L478.25,186.08 L478.50,186.08 L478.75,186.07 L479.00,186.07 L479.25,186.07 L479.50,186.06 L479.75,186.06 L480.00,186.06 L480.25,186.06 L480.50,186.05 L480.75,186.05 L481.00,186.05 L481.25,186.04 L481.50,186.04 L481.75,186.04 L482.00,186.03 L482.25,186.03 L482.50,186.03 L482.75,186.02 L483.00,186.02 L483.25,186.02 L483.50,186.01 L483.75,186.01 L484.00,186.01 L484.25,186.01 L484.50,186.00 L484.75,186.00 L485.00,186.00 L485.25,185.99 L485.50,185.99 L485.75,185.99 L486.00,185.98 L486.25,185.98 L486.50,185.98 L486.75,185.97 L487.00,185.97 L487.25,185.97 L487.50,185.96 L487.75,185.96 L488.00,185.96 L488.25,185.95 L488.50,185.95 L488.75,185.95 L489.00,185.95 L489.25,185.94 L489.50,185.94 L489.75,185.94 L490.00,185.93 L490.25,185.93 L490.50,185.93 L490.75,185.92 L491.00,185.92 L491.25,185.92 L491.50,185.91 L491.75,185.91 L492.00,185.91 L492.25,185.90 L492.50,185.90 L492.75,185.90 L493.00,185.89 L493.25,185.89 L493.50,185.89 L493.75,185.89 L494.00,185.88 L494.25,185.88 L494.50,185.88 L494.75,185.87 L495.00,185.87 L495.25,185.87 L495.50,185.86 L495.75,185.86 L496.00,185.86 L496.25,185.85 L496.50,185.85 L496.75,185.85 L497.00,185.84 L497.25,185.84 L497.50,185.84 L497.75,185.83 L498.00,185.83 L498.25,185.83 L498.50,185.82 L498.75,185.82 L499.00,185.82 L499.25,185.82 L499.50,185.81 L499.75,185.81 L500.00,185.81 L500.25,185.81 L500.50,185.80 L500.75,185.80 L501.00,185.80"/>
<path d="M46.00,277.40 L46.25,277.36 L46.50,277.31 L46.75,277.26 L47.00,277.21 L47.25,277.15 L47.50,277.08 L47.75,277.01 L48.00,276.94 L48.25,276.86 L48.50,276.78 L48.75,276.70 L49.00,276.63 L49.25,276.56 L49.50,276.49 L49.75,276.42 L50.00,276.35 L50.25,276.29 L50.50,276.22 L50.75,276.16 L51.00,276.11 L51.25,276.05 L51.50,276.00 L51.75,275.94 L52.00,275.90 L52.25,275.85 L52.50,275.80 L52.75,275.76 L53.00,275.72 L53.25,275.67 L53.50,275.63 L53.75,275.59 L54.00,275.55 L54.25,275.50 L54.50,275.46 L54.75,275.42 L55.00,275.38 L55.25,275.34 L55.50,275.30 L55.75,275.26 L56.00,275.22 L56.25,275.18 L56.50,275.14 L56.75,275.11 L57.00,275.07 L57.25,275.04 L57.50,275.00 L57.75,274.97 L58.00,274.94 L58.25,274.91 L58.50,274.88 L58.75,274.85 L59.00,274.82 L59.25,274.79 L59.50,274.76 L59.75,274.73 L60.00,274.70 L60.25,274.67 L60.50,274.63 L60.75,274.60 L61.00,274.57 L61.25,274.54 L61.50,274.51 L61.75,274.47 L62.00,274.44 L62.25,274.40 L62.50,274.36 L62.75,274.32 L63.00,274.28 L63.25,274.24 L63.50,274.20 L63.75,274.15 L64.00,274.10 L64.25,274.04 L64.50,273.98 L64.75,273.90 L65.00,273.82 L65.25,273.72 L65.50,273.59 L65.75,273.45 L66.00,273.28 L66.25,273.07 L66.50,272.82 L66.75,272.54 L67.00,272.22 L67.25,271.87 L67.50,271.48 L67.75,271.08 L68.00,270.69 L68.25,270.32 L68.50,270.01 L68.75,269.79 L69.00,269.70 L69.25,269.74 L69.50,269.89 L69.75,270.14 L70.00,270.45 L70.25,270.79 L70.50,271.13 L70.75,271.46 L71.00,271.76 L71.25,272.03 L71.50,272.27 L71.75,272.47 L72.00,272.63 L72.25,272.77 L72.50,272.89 L72.75,272.98 L73.00,273.06 L73.25,273.13 L73.50,273.19 L73.75,273.25 L74.00,273.30 L74.25,273.35 L74.50,273.40 L74.75,273.45 L75.00,273.50 L75.25,273.55 L75.50,273.60 L75.75,273.64 L76.00,273.69 L76.25,273.72 L76.50,273.76 L76.75,273.79 L77.00,273.83 L77.25,273.85 L77.50,273.88 L77.75,273.91 L78.00,273.93 L78.25,273.95 L78.50,273.97 L78.75,273.98 L79.00,274.00 L79.25,274.01 L79.50,274.03 L79.75,274.04 L80.00,274.05 L80.25,274.07 L80.50,274.08 L80.75,274.09 L81.00,274.11 L81.25,274.12 L81.50,274.13 L81.75,274.14 L82.00,274.16 L82.25,274.17 L82.50,274.18 L82.75,274.19 L83.00,274.20 L83.25,274.22 L83.50,274.23 L83.75,274.24 L84.00,274.25 L84.25,274.26 L84.50,274.27 L84.75,274.28 L85.00,274.28 L85.25,274.29 L85.50,274.29 L85.75,274.30 L86.00,274.30 L86.25,274.30 L86.50,274.30 L86.75,274.30 L87.00,274.30 L87.25,274.29 L87.50,274.29 L87.75,274.28 L88.00,274.27 L88.25,274.26 L88.50,274.24 L88.75,274.23 L89.00,274.21 L89.25,274.18 L89.50,274.15 L89.75,274.11 L90.00,274.06 L90.25,273.98 L90.50,273.89 L90.75,273.77 L91.00,273.62 L91.25,273.44 L91.50,273.25 L91.75,273.04 L92.00,272.83 L92.25,272.65 L92.50,272.53 L92.75,272.50 L93.00,272.56 L93.25,272.69 L93.50,272.88 L93.75,273.08 L94.00,273.27 L94.25,273.45 L94.50,273.60 L94.75,273.73 L95.00,273.82 L95.25,273.89 L95.50,273.95 L95.75,273.98 L96.00,274.00 L96.25,274.01 L96.50,274.02 L96.75,274.02 L97.00,274.01 L97.25,274.00 L97.50,273.99 L97.75,273.98 L98.00,273.97 L98.25,273.96 L98.50,273.94 L98.75,273.93 L99.00,273.91 L99.25,273.89 L99.50,273.88 L99.75,273.86 L100.00,273.84 L100.25,273.83 L100.50,273.81 L100.75,273.79 L101.00,273.77 L101.25,273.75 L101.50,273.74 L101.75,273.72 L102.00,273.70 L102.25,273.68 L102.50,273.66 L102.75,273.64 L103.00,273.62 L103.25,273.60 L103.50,273.58 L103.75,273.56 L104.00,273.54 L104.25,273.52 L104.50,273.50 L104.75,273.48 L105.00,273.46 L105.25,273.43 L105.50,273.41 L105.75,273.39 L106.00,273.36 L106.25,273.34 L106.50,273.31 L106.75,273.29 L107.00,273.26 L107.25,273.24 L107.50,273.21 L107.75,273.19 L108.00,273.16 L108.25,273.14 L108.50,273.11 L108.75,273.08 L109.00,273.06 L109.25,273.03 L109.50,273.00 L109.75,272.98 L110.00,272.95 L110.25,272.92 L110.50,272.90 L110.75,272.87 L111.00,272.84 L111.25,272.81 L111.50,272.78 L111.75,272.75 L112.00,272.72 L112.25,272.69 L112.50,272.66 L112.75,272.63 L113.00,272.60 L113.25,272.57 L113.50,272.53 L113.75,272.49 L114.00,272.45 L114.25,272.41 L114.50,272.36 L114.75,272.31 L115.00,272.25 L115.25,272.19 L115.50,272.12 L115.75,272.03 L116.00,271.94 L116.25,271.83 L116.50,271.70 L116.75,271.56 L117.00,271.40 L117.25,271.22 L117.50,271.03 L117.75,270.82 L118.00,270.60 L118.25,270.38 L118.50,270.16 L118.75,269.94 L119.00,269.75 L119.25,269.59 L119.50,269.47 L119.75,269.41 L120.00,269.40 L120.25,269.45 L120.50,269.55 L120.75,269.69 L121.00,269.85 L121.25,270.03 L121.50,270.21 L121.75,270.38 L122.00,270.55 L122.25,270.70 L122.50,270.84 L122.75,270.97 L123.00,271.08 L123.25,271.19 L123.50,271.29 L123.75,271.38 L124.00,271.46 L124.25,271.53 L124.50,271.60 L124.75,271.66 L125.00,271.71 L125.25,271.76 L125.50,271.80 L125.75,271.84 L126.00,271.87 L126.25,271.91 L126.50,271.94 L126.75,271.97 L127.00,271.99 L127.25,272.01 L127.50,272.02 L127.75,272.02 L128.00,272.01 L128.25,272.00 L128.50,271.98 L128.75,271.96 L129.00,271.94 L129.25,271.92 L129.50,271.90 L129.75,271.88 L130.00,271.86 L130.25,271.84 L130.50,271.82 L130.75,271.79 L131.00,271.77 L131.25,271.74 L131.50,271.71 L131.75,271.68 L132.00,271.64 L132.25,271.61 L132.50,271.57 L132.75,271.53 L133.00,271.49 L133.25,271.45 L133.50,271.40 L133.75,271.36 L134.00,271.31 L134.25,271.26 L134.50,271.20 L134.75,271.15 L135.00,271.10 L135.25,271.05 L135.50,270.99 L135.75,270.94 L136.00,270.89 L136.25,270.83 L136.50,270.78 L136.75,270.73 L137.00,270.68 L137.25,270.63 L137.50,270.58 L137.75,270.53 L138.00,270.49 L138.25,270.44 L138.50,270.40 L138.75,270.35 L139.00,270.31 L139.25,270.26 L139.50,270.21 L139.75,270.15 L140.00,270.09 L140.25,270.03 L140.50,269.97 L140.75,269.90 L141.00,269.83 L141.25,269.77 L141.50,269.70 L141.75,269.65 L142.00,269.62 L142.25,269.60 L142.50,269.60 L142.75,269.62 L143.00,269.65 L143.25,269.69 L143.50,269.74 L143.75,269.78 L144.00,269.83 L144.25,269.86 L144.50,269.89 L144.75,269.92 L145.00,269.94 L145.25,269.95 L145.50,269.96 L145.75,269.97 L146.00,269.97 L146.25,269.97 L146.50,269.96 L146.75,269.95 L147.00,269.94 L147.25,269.93 L147.50,269.91 L147.75,269.90 L148.00,269.88 L148.25,269.86 L148.50,269.84 L148.75,269.82 L149.00,269.80 L149.25,269.78 L149.50,269.76 L149.75,269.73 L150.00,269.71 L150.25,269.69 L150.50,269.67 L150.75,269.65 L151.00,269.63 L151.25,269.62 L151.50,269.60 L151.75,269.58 L152.00,269.56 L152.25,269.54 L152.50,269.51 L152.75,269.48 L153.00,269.43 L153.25,269.37 L153.50,269.31 L153.75,269.23 L154.00,269.14 L154.25,269.04 L154.50,268.94 L154.75,268.86 L155.00,268.81 L155.25,268.80 L155.50,268.84 L155.75,268.92 L156.00,269.01 L156.25,269.12 L156.50,269.23 L156.75,269.33 L157.00,269.41 L157.25,269.48 L157.50,269.54 L157.75,269.58 L158.00,269.62 L158.25,269.64 L158.50,269.65 L158.75,269.66 L159.00,269.66 L159.25,269.65 L159.50,269.64 L159.75,269.62 L160.00,269.60 L160.25,269.57 L160.50,269.54 L160.75,269.51 L161.00,269.47 L161.25,269.43 L161.50,269.38 L161.75,269.33 L162.00,269.27 L162.25,269.21 L162.50,269.15 L162.75,269.09 L163.00,269.03 L163.25,268.97 L163.50,268.90 L163.75,268.82 L164.00,268.73 L164.25,268.63 L164.50,268.51 L164.75,268.37 L165.00,268.21 L165.25,268.02 L165.50,267.80 L165.75,267.55 L166.00,267.27 L166.25,266.97 L166.50,266.65 L166.75,266.33 L167.00,266.03 L167.25,265.78 L167.50,265.59 L167.75,265.51 L168.00,265.52 L168.25,265.64 L168.50,265.84 L168.75,266.10 L169.00,266.38 L169.25,266.67 L169.50,266.95 L169.75,267.22 L170.00,267.45 L170.25,267.66 L170.50,267.83 L170.75,267.98 L171.00,268.10 L171.25,268.20 L171.50,268.28 L171.75,268.34 L172.00,268.39 L172.25,268.43 L172.50,268.46 L172.75,268.49 L173.00,268.52 L173.25,268.55 L173.50,268.57 L173.75,268.59 L174.00,268.61 L174.25,268.63 L174.50,268.65 L174.75,268.66 L175.00,268.68 L175.25,268.69 L175.50,268.71 L175.75,268.72 L176.00,268.73 L176.25,268.75 L176.50,268.76 L176.75,268.77 L177.00,268.78 L177.25,268.79 L177.50,268.79 L177.75,268.80 L178.00,268.80 L178.25,268.80 L178.50,268.80 L178.75,268.80 L179.00,268.80 L179.25,268.79 L179.50,268.78 L179.75,268.78 L180.00,268.77 L180.25,268.76 L180.50,268.75 L180.75,268.73 L181.00,268.72 L181.25,268.71 L181.50,268.69 L181.75,268.68 L182.00,268.67 L182.25,268.65 L182.50,268.64 L182.75,268.62 L183.00,268.61 L183.25,268.59 L183.50,268.58 L183.75,268.56 L184.00,268.54 L184.25,268.53 L184.50,268.51 L184.75,268.49 L185.00,268.47 L185.25,268.45 L185.50,268.43 L185.75,268.41 L186.00,268.38 L186.25,268.36 L186.50,268.34 L186.75,268.31 L187.00,268.29 L187.25,268.26 L187.50,268.23 L187.75,268.20 L188.00,268.17 L188.25,268.13 L188.50,268.09 L188.75,268.05 L189.00,267.99 L189.25,267.92 L189.50,267.84 L189.75,267.75 L190.00,267.63 L190.25,267.49 L190.50,267.34 L190.75,267.17 L191.00,266.99 L191.25,266.82 L191.50,266.67 L191.75,266.55 L192.00,266.50 L192.25,266.51 L192.50,266.58 L192.75,266.69 L193.00,266.82 L193.25,266.96 L193.50,267.09 L193.75,267.20 L194.00,267.29 L194.25,267.37 L194.50,267.42 L194.75,267.46 L195.00,267.49 L195.25,267.50 L195.50,267.50 L195.75,267.50 L196.00,267.49 L196.25,267.48 L196.50,267.47 L196.75,267.46 L197.00,267.44 L197.25,267.43 L197.50,267.41 L197.75,267.39 L198.00,267.37 L198.25,267.35 L198.50,267.33 L198.75,267.32 L199.00,267.30 L199.25,267.28 L199.50,267.26 L199.75,267.24 L200.00,267.22 L200.25,267.20 L200.50,267.17 L200.75,267.15 L201.00,267.13 L201.25,267.11 L201.50,267.09 L201.75,267.07 L202.00,267.05 L202.25,267.03 L202.50,267.01 L202.75,266.99 L203.00,266.97 L203.25,266.95 L203.50,266.93 L203.75,266.90 L204.00,266.88 L204.25,266.86 L204.50,266.84 L204.75,266.82 L205.00,266.80 L205.25,266.78 L205.50,266.76 L205.75,266.74 L206.00,266.72 L206.25,266.70 L206.50,266.67 L206.75,266.65 L207.00,266.61 L207.25,266.58 L207.50,266.54 L207.75,266.50 L208.00,266.46 L208.25,266.41 L208.50,266.36 L208.75,266.30 L209.00,266.25 L209.25,266.18 L209.50,266.12 L209.75,266.05 L210.00,265.98 L210.25,265.90 L210.50,265.82 L210.75,265.74 L211.00,265.66 L211.25,265.58 L211.50,265.51 L211.75,265.43 L212.00,265.35 L212.25,265.26 L212.50,265.17 L212.75,265.07 L213.00,264.97 L213.25,264.86 L213.50,264.75 L213.75,264.63 L214.00,264.50 L214.25,264.37 L214.50,264.23 L214.75,264.09 L215.00,263.94 L215.25,263.79 L215.50,263.63 L215.75,263.46 L216.00,263.29 L216.25,263.11 L216.50,262.93 L216.75,262.76 L217.00,262.58 L217.25,262.40 L217.50,262.22 L217.75,262.04 L218.00,261.87 L218.25,261.69 L218.50,261.52 L218.75,261.34 L219.00,261.17 L219.25,261.00 L219.50,260.83 L219.75,260.67 L220.00,260.50 L220.25,260.33 L220.50,260.17 L220.75,260.01 L221.00,259.85 L221.25,259.68 L221.50,259.52 L221.75,259.37 L222.00,259.21 L222.25,259.05 L222.50,258.89 L222.75,258.74 L223.00,258.59 L223.25,258.46 L223.50,258.32 L223.75,258.20 L224.00,258.08 L224.25,257.97 L224.50,257.86 L224.75,257.75 L225.00,257.65 L225.25,257.54 L225.50,257.43 L225.75,257.30 L226.00,257.16 L226.25,257.01 L226.50,256.82 L226.75,256.59 L227.00,256.30 L227.25,255.94 L227.50,255.50 L227.75,254.97 L228.00,254.34 L228.25,253.61 L228.50,252.78 L228.75,251.90 L229.00,250.97 L229.25,250.08 L229.50,249.30 L229.75,248.71 L230.00,248.40 L230.25,248.39 L230.50,248.65 L230.75,249.12 L231.00,249.69 L231.25,250.30 L231.50,250.88 L231.75,251.38 L232.00,251.78 L232.25,252.05 L232.50,252.20 L232.75,252.21 L233.00,252.09 L233.25,251.87 L233.50,251.54 L233.75,251.14 L234.00,250.67 L234.25,250.19 L234.50,249.72 L234.75,249.32 L235.00,249.04 L235.25,248.91 L235.50,249.00 L235.75,249.31 L236.00,249.84 L236.25,250.53 L236.50,251.34 L236.75,252.21 L237.00,253.09 L237.25,253.95 L237.50,254.76 L237.75,255.52 L238.00,256.21 L238.25,256.83 L238.50,257.38 L238.75,257.86 L239.00,258.29 L239.25,258.67 L239.50,259.01 L239.75,259.31 L240.00,259.59 L240.25,259.84 L240.50,260.07 L240.75,260.28 L241.00,260.46 L241.25,260.61 L241.50,260.75 L241.75,260.87 L242.00,260.98 L242.25,261.06 L242.50,261.13 L242.75,261.18 L243.00,261.21 L243.25,261.22 L243.50,261.22 L243.75,261.20 L244.00,261.16 L244.25,261.10 L244.50,261.03 L244.75,260.95 L245.00,260.86 L245.25,260.77 L245.50,260.67 L245.75,260.55 L246.00,260.42 L246.25,260.27 L246.50,260.09 L246.75,259.89 L247.00,259.66 L247.25,259.40 L247.50,259.10 L247.75,258.78 L248.00,258.43 L248.25,258.06 L248.50,257.68 L248.75,257.30 L249.00,256.93 L249.25,256.59 L249.50,256.31 L249.75,256.11 L250.00,256.00 L250.25,255.98 L250.50,256.04 L250.75,256.16 L251.00,256.29 L251.25,256.39 L251.50,256.42 L251.75,256.31 L252.00,256.00 L252.25,255.41 L252.50,254.45 L252.75,253.01 L253.00,250.99 L253.25,248.29 L253.50,244.83 L253.75,240.57 L254.00,235.55 L254.25,229.89 L254.50,223.82 L254.75,217.75 L255.00,212.24 L255.25,208.04 L255.50,205.88 L255.75,206.21 L256.00,208.98 L256.25,213.67 L256.50,219.51 L256.75,225.80 L257.00,232.02 L257.25,237.78 L257.50,242.88 L257.75,247.22 L258.00,250.80 L258.25,253.65 L258.50,255.87 L258.75,257.55 L259.00,258.80 L259.25,259.72 L259.50,260.38 L259.75,260.86 L260.00,261.21 L260.25,261.44 L260.50,261.61 L260.75,261.71 L261.00,261.76 L261.25,261.78 L261.50,261.78 L261.75,261.77 L262.00,261.76 L262.25,261.74 L262.50,261.73 L262.75,261.72 L263.00,261.71 L263.25,261.70 L263.50,261.70 L263.75,261.70 L264.00,261.71 L264.25,261.73 L264.50,261.75 L264.75,261.78 L265.00,261.82 L265.25,261.86 L265.50,261.92 L265.75,261.97 L266.00,262.03 L266.25,262.08 L266.50,262.13 L266.75,262.17 L267.00,262.22 L267.25,262.26 L267.50,262.29 L267.75,262.32 L268.00,262.35 L268.25,262.37 L268.50,262.38 L268.75,262.39 L269.00,262.40 L269.25,262.40 L269.50,262.40 L269.75,262.40 L270.00,262.39 L270.25,262.37 L270.50,262.35 L270.75,262.33 L271.00,262.30 L271.25,262.27 L271.50,262.24 L271.75,262.21 L272.00,262.18 L272.25,262.15 L272.50,262.12 L272.75,262.08 L273.00,262.05 L273.25,262.02 L273.50,261.98 L273.75,261.95 L274.00,261.91 L274.25,261.88 L274.50,261.84 L274.75,261.81 L275.00,261.77 L275.25,261.74 L275.50,261.70 L275.75,261.66 L276.00,261.62 L276.25,261.57 L276.50,261.52 L276.75,261.46 L277.00,261.40 L277.25,261.33 L277.50,261.26 L277.75,261.18 L278.00,261.10 L278.25,261.01 L278.50,260.92 L278.75,260.82 L279.00,260.72 L279.25,260.61 L279.50,260.50 L279.75,260.38 L280.00,260.26 L280.25,260.14 L280.50,260.01 L280.75,259.89 L281.00,259.77 L281.25,259.64 L281.50,259.52 L281.75,259.40 L282.00,259.27 L282.25,259.15 L282.50,259.02 L282.75,258.90 L283.00,258.77 L283.25,258.65 L283.50,258.53 L283.75,258.41 L284.00,258.30 L284.25,258.20 L284.50,258.10 L284.75,258.01 L285.00,257.92 L285.25,257.84 L285.50,257.77 L285.75,257.70 L286.00,257.64 L286.25,257.59 L286.50,257.54 L286.75,257.49 L287.00,257.45 L287.25,257.41 L287.50,257.38 L287.75,257.34 L288.00,257.30 L288.25,257.24 L288.50,257.17 L288.75,257.08 L289.00,256.98 L289.25,256.85 L289.50,256.70 L289.75,256.52 L290.00,256.32 L290.25,256.09 L290.50,255.82 L290.75,255.54 L291.00,255.23 L291.25,254.90 L291.50,254.58 L291.75,254.26 L292.00,253.97 L292.25,253.74 L292.50,253.57 L292.75,253.49 L293.00,253.50 L293.25,253.59 L293.50,253.74 L293.75,253.94 L294.00,254.15 L294.25,254.38 L294.50,254.60 L294.75,254.80 L295.00,254.99 L295.25,255.15 L295.50,255.30 L295.75,255.43 L296.00,255.53 L296.25,255.63 L296.50,255.70 L296.75,255.77 L297.00,255.82 L297.25,255.87 L297.50,255.92 L297.75,255.96 L298.00,256.01 L298.25,256.05 L298.50,256.10 L298.75,256.15 L299.00,256.20 L299.25,256.24 L299.50,256.26 L299.75,256.27 L300.00,256.28 L300.25,256.27 L300.50,256.24 L300.75,256.21 L301.00,256.16 L301.25,256.11 L301.50,256.04 L301.75,255.96 L302.00,255.86 L302.25,255.76 L302.50,255.64 L302.75,255.51 L303.00,255.37 L303.25,255.23 L303.50,255.08 L303.75,254.93 L304.00,254.78 L304.25,254.63 L304.50,254.51 L304.75,254.40 L305.00,254.32 L305.25,254.26 L305.50,254.22 L305.75,254.20 L306.00,254.20 L306.25,254.20 L306.50,254.22 L306.75,254.23 L307.00,254.25 L307.25,254.25 L307.50,254.23 L307.75,254.18 L308.00,254.09 L308.25,253.96 L308.50,253.77 L308.75,253.50 L309.00,253.16 L309.25,252.75 L309.50,252.29 L309.75,251.81 L310.00,251.33 L310.25,250.90 L310.50,250.58 L310.75,250.41 L311.00,250.42 L311.25,250.59 L311.50,250.85 L311.75,251.14 L312.00,251.39 L312.25,251.55 L312.50,251.58 L312.75,251.45 L313.00,251.15 L313.25,250.69 L313.50,250.08 L313.75,249.37 L314.00,248.58 L314.25,247.80 L314.50,247.10 L314.75,246.54 L315.00,246.19 L315.25,246.10 L315.50,246.29 L315.75,246.72 L316.00,247.37 L316.25,248.17 L316.50,249.06 L316.75,250.00 L317.00,250.93 L317.25,251.83 L317.50,252.68 L317.75,253.45 L318.00,254.13 L318.25,254.73 L318.50,255.24 L318.75,255.67 L319.00,256.03 L319.25,256.31 L319.50,256.53 L319.75,256.70 L320.00,256.84 L320.25,256.95 L320.50,257.05 L320.75,257.12 L321.00,257.19 L321.25,257.24 L321.50,257.30 L321.75,257.36 L322.00,257.41 L322.25,257.47 L322.50,257.54 L322.75,257.60 L323.00,257.68 L323.25,257.76 L323.50,257.85 L323.75,257.94 L324.00,258.04 L324.25,258.13 L324.50,258.21 L324.75,258.30 L325.00,258.39 L325.25,258.46 L325.50,258.53 L325.75,258.60 L326.00,258.65 L326.25,258.70 L326.50,258.74 L326.75,258.78 L327.00,258.81 L327.25,258.84 L327.50,258.85 L327.75,258.87 L328.00,258.87 L328.25,258.87 L328.50,258.86 L328.75,258.85 L329.00,258.83 L329.25,258.80 L329.50,258.78 L329.75,258.75 L330.00,258.73 L330.25,258.70 L330.50,258.68 L330.75,258.65 L331.00,258.62 L331.25,258.59 L331.50,258.56 L331.75,258.54 L332.00,258.51 L332.25,258.48 L332.50,258.46 L332.75,258.43 L333.00,258.41 L333.25,258.39 L333.50,258.36 L333.75,258.34 L334.00,258.31 L334.25,258.29 L334.50,258.27 L334.75,258.24 L335.00,258.21 L335.25,258.18 L335.50,258.15 L335.75,258.12 L336.00,258.07 L336.25,258.01 L336.50,257.94 L336.75,257.85 L337.00,257.74 L337.25,257.61 L337.50,257.45 L337.75,257.26 L338.00,257.04 L338.25,256.77 L338.50,256.45 L338.75,256.08 L339.00,255.66 L339.25,255.17 L339.50,254.62 L339.75,254.01 L340.00,253.34 L340.25,252.63 L340.50,251.88 L340.75,251.13 L341.00,250.38 L341.25,249.68 L341.50,249.06 L341.75,248.57 L342.00,248.23 L342.25,248.09 L342.50,248.13 L342.75,248.35 L343.00,248.72 L343.25,249.19 L343.50,249.73 L343.75,250.30 L344.00,250.87 L344.25,251.42 L344.50,251.93 L344.75,252.39 L345.00,252.80 L345.25,253.15 L345.50,253.43 L345.75,253.66 L346.00,253.84 L346.25,253.97 L346.50,254.05 L346.75,254.10 L347.00,254.11 L347.25,254.10 L347.50,254.06 L347.75,253.99 L348.00,253.91 L348.25,253.80 L348.50,253.68 L348.75,253.53 L349.00,253.36 L349.25,253.17 L349.50,252.94 L349.75,252.67 L350.00,252.37 L350.25,252.02 L350.50,251.61 L350.75,251.14 L351.00,250.60 L351.25,249.99 L351.50,249.30 L351.75,248.53 L352.00,247.67 L352.25,246.73 L352.50,245.72 L352.75,244.64 L353.00,243.50 L353.25,242.32 L353.50,241.13 L353.75,239.97 L354.00,238.85 L354.25,237.85 L354.50,236.99 L354.75,236.34 L355.00,235.93 L355.25,235.80 L355.50,235.94 L355.75,236.34 L356.00,236.98 L356.25,237.80 L356.50,238.75 L356.75,239.78 L357.00,240.86 L357.25,241.94 L357.50,243.01 L357.75,244.02 L358.00,244.98 L358.25,245.86 L358.50,246.66 L358.75,247.39 L359.00,248.03 L359.25,248.59 L359.50,249.07 L359.75,249.48 L360.00,249.83 L360.25,250.14 L360.50,250.41 L360.75,250.65 L361.00,250.86 L361.25,251.05 L361.50,251.23 L361.75,251.40 L362.00,251.57 L362.25,251.73 L362.50,251.89 L362.75,252.06 L363.00,252.23 L363.25,252.40 L363.50,252.59 L363.75,252.78 L364.00,252.98 L364.25,253.19 L364.50,253.39 L364.75,253.59 L365.00,253.79 L365.25,253.99 L365.50,254.18 L365.75,254.37 L366.00,254.56 L366.25,254.75 L366.50,254.92 L366.75,255.09 L367.00,255.24 L367.25,255.38 L367.50,255.52 L367.75,255.64 L368.00,255.76 L368.25,255.86 L368.50,255.96 L368.75,256.05 L369.00,256.12 L369.25,256.19 L369.50,256.25 L369.75,256.30 L370.00,256.34 L370.25,256.37 L370.50,256.40 L370.75,256.42 L371.00,256.45 L371.25,256.47 L371.50,256.50 L371.75,256.52 L372.00,256.55 L372.25,256.57 L372.50,256.60 L372.75,256.62 L373.00,256.65 L373.25,256.67 L373.50,256.69 L373.75,256.71 L374.00,256.73 L374.25,256.75 L374.50,256.77 L374.75,256.78 L375.00,256.79 L375.25,256.80 L375.50,256.80 L375.75,256.80 L376.00,256.80 L376.25,256.79 L376.50,256.79 L376.75,256.78 L377.00,256.76 L377.25,256.75 L377.50,256.73 L377.75,256.71 L378.00,256.68 L378.25,256.66 L378.50,256.64 L378.75,256.61 L379.00,256.59 L379.25,256.56 L379.50,256.53 L379.75,256.51 L380.00,256.48 L380.25,256.46 L380.50,256.43 L380.75,256.40 L381.00,256.38 L381.25,256.35 L381.50,256.32 L381.75,256.29 L382.00,256.26 L382.25,256.24 L382.50,256.21 L382.75,256.18 L383.00,256.16 L383.25,256.13 L383.50,256.10 L383.75,256.07 L384.00,256.04 L384.25,256.01 L384.50,255.97 L384.75,255.93 L385.00,255.88 L385.25,255.82 L385.50,255.74 L385.75,255.64 L386.00,255.50 L386.25,255.32 L386.50,255.10 L386.75,254.82 L387.00,254.50 L387.25,254.15 L387.50,253.79 L387.75,253.48 L388.00,253.26 L388.25,253.20 L388.50,253.30 L388.75,253.54 L389.00,253.84 L389.25,254.18 L389.50,254.49 L389.75,254.77 L390.00,255.00 L390.25,255.17 L390.50,255.31 L390.75,255.40 L391.00,255.47 L391.25,255.51 L391.50,255.53 L391.75,255.55 L392.00,255.55 L392.25,255.55 L392.50,255.55 L392.75,255.55 L393.00,255.54 L393.25,255.53 L393.50,255.52 L393.75,255.51 L394.00,255.49 L394.25,255.45 L394.50,255.41 L394.75,255.35 L395.00,255.29 L395.25,255.21 L395.50,255.12 L395.75,255.02 L396.00,254.91 L396.25,254.79 L396.50,254.65 L396.75,254.51 L397.00,254.35 L397.25,254.18 L397.50,254.00 L397.75,253.80 L398.00,253.59 L398.25,253.37 L398.50,253.14 L398.75,252.92 L399.00,252.69 L399.25,252.45 L399.50,252.20 L399.75,251.94 L400.00,251.67 L400.25,251.38 L400.50,251.08 L400.75,250.76 L401.00,250.43 L401.25,250.08 L401.50,249.73 L401.75,249.38 L402.00,249.04 L402.25,248.73 L402.50,248.46 L402.75,248.25 L403.00,248.10 L403.25,248.02 L403.50,248.01 L403.75,248.04 L404.00,248.11 L404.25,248.20 L404.50,248.30 L404.75,248.39 L405.00,248.45 L405.25,248.47 L405.50,248.43 L405.75,248.31 L406.00,248.10 L406.25,247.78 L406.50,247.34 L406.75,246.77 L407.00,246.08 L407.25,245.28 L407.50,244.39 L407.75,243.43 L408.00,242.44 L408.25,241.46 L408.50,240.51 L408.75,239.61 L409.00,238.80 L409.25,238.09 L409.50,237.50 L409.75,237.03 L410.00,236.68 L410.25,236.43 L410.50,236.29 L410.75,236.23 L411.00,236.25 L411.25,236.32 L411.50,236.43 L411.75,236.59 L412.00,236.84 L412.25,237.18 L412.50,237.63 L412.75,238.19 L413.00,238.87 L413.25,239.67 L413.50,240.58 L413.75,241.59 L414.00,242.68 L414.25,243.82 L414.50,244.98 L414.75,246.12 L415.00,247.22 L415.25,248.24 L415.50,249.16 L415.75,249.97 L416.00,250.67 L416.25,251.24 L416.50,251.72 L416.75,252.10 L417.00,252.41 L417.25,252.66 L417.50,252.87 L417.75,253.04 L418.00,253.20 L418.25,253.35 L418.50,253.48 L418.75,253.60 L419.00,253.72 L419.25,253.82 L419.50,253.92 L419.75,254.01 L420.00,254.09 L420.25,254.16 L420.50,254.23 L420.75,254.28 L421.00,254.33 L421.25,254.37 L421.50,254.40 L421.75,254.42 L422.00,254.44 L422.25,254.44 L422.50,254.44 L422.75,254.44 L423.00,254.43 L423.25,254.43 L423.50,254.42 L423.75,254.42 L424.00,254.41 L424.25,254.41 L424.50,254.41 L424.75,254.40 L425.00,254.40 L425.25,254.40 L425.50,254.40 L425.75,254.40 L426.00,254.40 L426.25,254.40 L426.50,254.40 L426.75,254.40 L427.00,254.40 L427.25,254.41 L427.50,254.41 L427.75,254.41 L428.00,254.41 L428.25,254.42 L428.50,254.42 L428.75,254.42 L429.00,254.42 L429.25,254.43 L429.50,254.43 L429.75,254.43 L430.00,254.43 L430.25,254.43 L430.50,254.44 L430.75,254.44 L431.00,254.44 L431.25,254.44 L431.50,254.44 L431.75,254.44 L432.00,254.44 L432.25,254.44 L432.50,254.44 L432.75,254.45 L433.00,254.45 L433.25,254.45 L433.50,254.45 L433.75,254.45 L434.00,254.45 L434.25,254.45 L434.50,254.45 L434.75,254.45 L435.00,254.45 L435.25,254.45 L435.50,254.45 L435.75,254.45 L436.00,254.45 L436.25,254.45 L436.50,254.45 L436.75,254.45 L437.00,254.45 L437.25,254.45 L437.50,254.45 L437.75,254.45 L438.00,254.46 L438.25,254.46 L438.50,254.46 L438.75,254.46 L439.00,254.46 L439.25,254.46 L439.50,254.46 L439.75,254.46 L440.00,254.46 L440.25,254.45 L440.50,254.45 L440.75,254.45 L441.00,254.45 L441.25,254.45 L441.50,254.45 L441.75,254.45 L442.00,254.45 L442.25,254.45 L442.50,254.45 L442.75,254.45 L443.00,254.45 L443.25,254.45 L443.50,254.45 L443.75,254.45 L444.00,254.45 L444.25,254.45 L444.50,254.45 L444.75,254.45 L445.00,254.45 L445.25,254.45 L445.50,254.45 L445.75,254.45 L446.00,254.45 L446.25,254.45 L446.50,254.45 L446.75,254.45 L447.00,254.45 L447.25,254.45 L447.50,254.45 L447.75,254.45 L448.00,254.44 L448.25,254.44 L448.50,254.44 L448.75,254.44 L449.00,254.44 L449.25,254.44 L449.50,254.44 L449.75,254.44 L450.00,254.44 L450.25,254.44 L450.50,254.44 L450.75,254.44 L451.00,254.44 L451.25,254.44 L451.50,254.44 L451.75,254.44 L452.00,254.44 L452.25,254.44 L452.50,254.44 L452.75,254.43 L453.00,254.43 L453.25,254.43 L453.50,254.43 L453.75,254.43 L454.00,254.43 L454.25,254.43 L454.50,254.43 L454.75,254.43 L455.00,254.43 L455.25,254.43 L455.50,254.43 L455.75,254.43 L456.00,254.43 L456.25,254.43 L456.50,254.43 L456.75,254.42 L457.00,254.42 L457.25,254.42 L457.50,254.42 L457.75,254.42 L458.00,254.42 L458.25,254.42 L458.50,254.42 L458.75,254.42 L459.00,254.41 L459.25,254.41 L459.50,254.41 L459.75,254.40 L460.00,254.40 L460.25,254.40 L460.50,254.39 L460.75,254.38 L461.00,254.38 L461.25,254.37 L461.50,254.37 L461.75,254.36 L462.00,254.35 L462.25,254.34 L462.50,254.34 L462.75,254.33 L463.00,254.32 L463.25,254.31 L463.50,254.30 L463.75,254.29 L464.00,254.29 L464.25,254.28 L464.50,254.27 L464.75,254.26 L465.00,254.25 L465.25,254.25 L465.50,254.24 L465.75,254.23 L466.00,254.22 L466.25,254.21 L466.50,254.21 L466.75,254.20 L467.00,254.19 L467.25,254.18 L467.50,254.17 L467.75,254.17 L468.00,254.16 L468.25,254.15 L468.50,254.14 L468.75,254.13 L469.00,254.13 L469.25,254.12 L469.50,254.11 L469.75,254.10 L470.00,254.09 L470.25,254.08 L470.50,254.08 L470.75,254.07 L471.00,254.06 L471.25,254.05 L471.50,254.04 L471.75,254.04 L472.00,254.03 L472.25,254.02 L472.50,254.01 L472.75,254.00 L473.00,254.00 L473.25,253.99 L473.50,253.98 L473.75,253.97 L474.00,253.96 L474.25,253.96 L474.50,253.95 L474.75,253.94 L475.00,253.93 L475.25,253.92 L475.50,253.91 L475.75,253.91 L476.00,253.90 L476.25,253.89 L476.50,253.88 L476.75,253.87 L477.00,253.87 L477.25,253.86 L477.50,253.85 L477.75,253.84 L478.00,253.83 L478.25,253.83 L478.50,253.82 L478.75,253.81 L479.00,253.80 L479.25,253.79 L479.50,253.78 L479.75,253.78 L480.00,253.77 L480.25,253.76 L480.50,253.75 L480.75,253.74 L481.00,253.74 L481.25,253.73 L481.50,253.72 L481.75,253.71 L482.00,253.70 L482.25,253.69 L482.50,253.69 L482.75,253.68 L483.00,253.67 L483.25,253.66 L483.50,253.65 L483.75,253.65 L484.00,253.64 L484.25,253.63 L484.50,253.62 L484.75,253.61 L485.00,253.61 L485.25,253.60 L485.50,253.59 L485.75,253.58 L486.00,253.57 L486.25,253.56 L486.50,253.56 L486.75,253.55 L487.00,253.54 L487.25,253.53 L487.50,253.52 L487.75,253.52 L488.00,253.51 L488.25,253.50 L488.50,253.49 L488.75,253.48 L489.00,253.47 L489.25,253.47 L489.50,253.46 L489.75,253.45 L490.00,253.44 L490.25,253.43 L490.50,253.43 L490.75,253.42 L491.00,253.41 L491.25,253.40 L491.50,253.39 L491.75,253.38 L492.00,253.38 L492.25,253.37 L492.50,253.36 L492.75,253.35 L493.00,253.34 L493.25,253.34 L493.50,253.33 L493.75,253.32 L494.00,253.31 L494.25,253.30 L494.50,253.30 L494.75,253.29 L495.00,253.28 L495.25,253.27 L495.50,253.26 L495.75,253.25 L496.00,253.25 L496.25,253.24 L496.50,253.23 L496.75,253.22 L497.00,253.21 L497.25,253.21 L497.50,253.20 L497.75,253.19 L498.00,253.18 L498.25,253.17 L498.50,253.16 L498.75,253.16 L499.00,253.15 L499.25,253.14 L499.50,253.13 L499.75,253.13 L500.00,253.12 L500.25,253.11 L500.50,253.11 L500.75,253.10 L501.00,253.10"/>
<path d="M46.00,305.10 L46.25,305.07 L46.50,305.03 L46.75,304.99 L47.00,304.95 L47.25,304.91 L47.50,304.86 L47.75,304.81 L48.00,304.75 L48.25,304.69 L48.50,304.63 L48.75,304.57 L49.00,304.51 L49.25,304.46 L49.50,304.41 L49.75,304.36 L50.00,304.31 L50.25,304.26 L50.50,304.22 L50.75,304.17 L51.00,304.13 L51.25,304.09 L51.50,304.06 L51.75,304.02 L52.00,303.99 L52.25,303.96 L52.50,303.93 L52.75,303.90 L53.00,303.88 L53.25,303.85 L53.50,303.82 L53.75,303.80 L54.00,303.77 L54.25,303.74 L54.50,303.72 L54.75,303.69 L55.00,303.66 L55.25,303.64 L55.50,303.61 L55.75,303.59 L56.00,303.57 L56.25,303.55 L56.50,303.52 L56.75,303.50 L57.00,303.48 L57.25,303.47 L57.50,303.45 L57.75,303.43 L58.00,303.42 L58.25,303.40 L58.50,303.39 L58.75,303.37 L59.00,303.36 L59.25,303.34 L59.50,303.33 L59.75,303.32 L60.00,303.30 L60.25,303.29 L60.50,303.27 L60.75,303.26 L61.00,303.24 L61.25,303.23 L61.50,303.21 L61.75,303.19 L62.00,303.17 L62.25,303.15 L62.50,303.13 L62.75,303.11 L63.00,303.09 L63.25,303.07 L63.50,303.04 L63.75,303.01 L64.00,302.97 L64.25,302.93 L64.50,302.89 L64.75,302.83 L65.00,302.76 L65.25,302.67 L65.50,302.56 L65.75,302.42 L66.00,302.24 L66.25,302.04 L66.50,301.79 L66.75,301.49 L67.00,301.15 L67.25,300.78 L67.50,300.37 L67.75,299.94 L68.00,299.52 L68.25,299.12 L68.50,298.80 L68.75,298.58 L69.00,298.50 L69.25,298.57 L69.50,298.77 L69.75,299.08 L70.00,299.46 L70.25,299.87 L70.50,300.28 L70.75,300.67 L71.00,301.04 L71.25,301.37 L71.50,301.65 L71.75,301.89 L72.00,302.10 L72.25,302.26 L72.50,302.40 L72.75,302.51 L73.00,302.60 L73.25,302.67 L73.50,302.73 L73.75,302.78 L74.00,302.83 L74.25,302.87 L74.50,302.91 L74.75,302.94 L75.00,302.97 L75.25,303.00 L75.50,303.02 L75.75,303.05 L76.00,303.06 L76.25,303.08 L76.50,303.09 L76.75,303.10 L77.00,303.11 L77.25,303.11 L77.50,303.11 L77.75,303.11 L78.00,303.11 L78.25,303.10 L78.50,303.09 L78.75,303.08 L79.00,303.07 L79.25,303.06 L79.50,303.04 L79.75,303.03 L80.00,303.02 L80.25,303.00 L80.50,302.99 L80.75,302.98 L81.00,302.96 L81.25,302.95 L81.50,302.93 L81.75,302.92 L82.00,302.90 L82.25,302.89 L82.50,302.87 L82.75,302.86 L83.00,302.84 L83.25,302.82 L83.50,302.81 L83.75,302.79 L84.00,302.78 L84.25,302.76 L84.50,302.74 L84.75,302.72 L85.00,302.70 L85.25,302.68 L85.50,302.65 L85.75,302.63 L86.00,302.60 L86.25,302.57 L86.50,302.54 L86.75,302.51 L87.00,302.48 L87.25,302.44 L87.50,302.41 L87.75,302.37 L88.00,302.33 L88.25,302.30 L88.50,302.26 L88.75,302.22 L89.00,302.19 L89.25,302.15 L89.50,302.10 L89.75,302.05 L90.00,301.98 L90.25,301.91 L90.50,301.81 L90.75,301.69 L91.00,301.55 L91.25,301.38 L91.50,301.19 L91.75,301.00 L92.00,300.80 L92.25,300.64 L92.50,300.53 L92.75,300.50 L93.00,300.56 L93.25,300.69 L93.50,300.87 L93.75,301.06 L94.00,301.25 L94.25,301.43 L94.50,301.58 L94.75,301.70 L95.00,301.80 L95.25,301.87 L95.50,301.93 L95.75,301.97 L96.00,302.00 L96.25,302.02 L96.50,302.04 L96.75,302.05 L97.00,302.06 L97.25,302.06 L97.50,302.07 L97.75,302.07 L98.00,302.07 L98.25,302.08 L98.50,302.08 L98.75,302.08 L99.00,302.08 L99.25,302.08 L99.50,302.08 L99.75,302.08 L100.00,302.08 L100.25,302.08 L100.50,302.08 L100.75,302.08 L101.00,302.08 L101.25,302.08 L101.50,302.07 L101.75,302.07 L102.00,302.07 L102.25,302.07 L102.50,302.07 L102.75,302.06 L103.00,302.06 L103.25,302.05 L103.50,302.05 L103.75,302.04 L104.00,302.03 L104.25,302.01 L104.50,302.00 L104.75,301.98 L105.00,301.97 L105.25,301.95 L105.50,301.93 L105.75,301.91 L106.00,301.89 L106.25,301.86 L106.50,301.84 L106.75,301.81 L107.00,301.78 L107.25,301.75 L107.50,301.73 L107.75,301.70 L108.00,301.67 L108.25,301.64 L108.50,301.62 L108.75,301.59 L109.00,301.56 L109.25,301.53 L109.50,301.51 L109.75,301.48 L110.00,301.45 L110.25,301.42 L110.50,301.39 L110.75,301.37 L111.00,301.34 L111.25,301.31 L111.50,301.28 L111.75,301.25 L112.00,301.22 L112.25,301.20 L112.50,301.18 L112.75,301.16 L113.00,301.14 L113.25,301.12 L113.50,301.11 L113.75,301.10 L114.00,301.09 L114.25,301.08 L114.50,301.07 L114.75,301.06 L115.00,301.04 L115.25,301.03 L115.50,301.01 L115.75,300.99 L116.00,300.97 L116.25,300.94 L116.50,300.90 L116.75,300.85 L117.00,300.80 L117.25,300.73 L117.50,300.66 L117.75,300.58 L118.00,300.49 L118.25,300.41 L118.50,300.31 L118.75,300.23 L119.00,300.15 L119.25,300.08 L119.50,300.03 L119.75,300.00 L120.00,300.00 L120.25,300.02 L120.50,300.06 L120.75,300.11 L121.00,300.18 L121.25,300.25 L121.50,300.32 L121.75,300.39 L122.00,300.46 L122.25,300.52 L122.50,300.56 L122.75,300.60 L123.00,300.62 L123.25,300.63 L123.50,300.63 L123.75,300.62 L124.00,300.60 L124.25,300.57 L124.50,300.53 L124.75,300.48 L125.00,300.43 L125.25,300.37 L125.50,300.30 L125.75,300.23 L126.00,300.16 L126.25,300.08 L126.50,300.01 L126.75,299.94 L127.00,299.87 L127.25,299.81 L127.50,299.75 L127.75,299.69 L128.00,299.64 L128.25,299.59 L128.50,299.54 L128.75,299.50 L129.00,299.46 L129.25,299.42 L129.50,299.39 L129.75,299.37 L130.00,299.34 L130.25,299.31 L130.50,299.29 L130.75,299.26 L131.00,299.24 L131.25,299.21 L131.50,299.19 L131.75,299.16 L132.00,299.13 L132.25,299.11 L132.50,299.08 L132.75,299.06 L133.00,299.03 L133.25,299.00 L133.50,298.97 L133.75,298.95 L134.00,298.92 L134.25,298.90 L134.50,298.88 L134.75,298.85 L135.00,298.83 L135.25,298.81 L135.50,298.79 L135.75,298.77 L136.00,298.75 L136.25,298.73 L136.50,298.72 L136.75,298.70 L137.00,298.68 L137.25,298.66 L137.50,298.63 L137.75,298.61 L138.00,298.57 L138.25,298.53 L138.50,298.48 L138.75,298.42 L139.00,298.34 L139.25,298.24 L139.50,298.12 L139.75,297.98 L140.00,297.81 L140.25,297.62 L140.50,297.41 L140.75,297.18 L141.00,296.95 L141.25,296.72 L141.50,296.51 L141.75,296.34 L142.00,296.23 L142.25,296.20 L142.50,296.25 L142.75,296.37 L143.00,296.55 L143.25,296.75 L143.50,296.98 L143.75,297.20 L144.00,297.41 L144.25,297.59 L144.50,297.75 L144.75,297.89 L145.00,298.00 L145.25,298.09 L145.50,298.15 L145.75,298.19 L146.00,298.22 L146.25,298.24 L146.50,298.24 L146.75,298.23 L147.00,298.21 L147.25,298.19 L147.50,298.17 L147.75,298.13 L148.00,298.10 L148.25,298.06 L148.50,298.02 L148.75,297.98 L149.00,297.94 L149.25,297.91 L149.50,297.87 L149.75,297.83 L150.00,297.80 L150.25,297.77 L150.50,297.74 L150.75,297.71 L151.00,297.68 L151.25,297.65 L151.50,297.62 L151.75,297.59 L152.00,297.56 L152.25,297.52 L152.50,297.48 L152.75,297.44 L153.00,297.38 L153.25,297.31 L153.50,297.23 L153.75,297.13 L154.00,297.02 L154.25,296.90 L154.50,296.79 L154.75,296.69 L155.00,296.62 L155.25,296.60 L155.50,296.62 L155.75,296.68 L156.00,296.77 L156.25,296.87 L156.50,296.96 L156.75,297.05 L157.00,297.12 L157.25,297.18 L157.50,297.22 L157.75,297.25 L158.00,297.27 L158.25,297.29 L158.50,297.29 L158.75,297.28 L159.00,297.27 L159.25,297.26 L159.50,297.24 L159.75,297.22 L160.00,297.20 L160.25,297.17 L160.50,297.15 L160.75,297.12 L161.00,297.08 L161.25,297.05 L161.50,297.01 L161.75,296.98 L162.00,296.94 L162.25,296.91 L162.50,296.87 L162.75,296.83 L163.00,296.80 L163.25,296.77 L163.50,296.73 L163.75,296.70 L164.00,296.66 L164.25,296.62 L164.50,296.58 L164.75,296.53 L165.00,296.48 L165.25,296.43 L165.50,296.36 L165.75,296.29 L166.00,296.21 L166.25,296.13 L166.50,296.04 L166.75,295.95 L167.00,295.87 L167.25,295.79 L167.50,295.74 L167.75,295.70 L168.00,295.70 L168.25,295.72 L168.50,295.75 L168.75,295.81 L169.00,295.87 L169.25,295.93 L169.50,295.98 L169.75,296.04 L170.00,296.08 L170.25,296.12 L170.50,296.15 L170.75,296.17 L171.00,296.19 L171.25,296.20 L171.50,296.21 L171.75,296.21 L172.00,296.21 L172.25,296.20 L172.50,296.20 L172.75,296.19 L173.00,296.18 L173.25,296.17 L173.50,296.16 L173.75,296.15 L174.00,296.14 L174.25,296.13 L174.50,296.12 L174.75,296.11 L175.00,296.10 L175.25,296.09 L175.50,296.08 L175.75,296.07 L176.00,296.06 L176.25,296.04 L176.50,296.03 L176.75,296.02 L177.00,296.01 L177.25,296.00 L177.50,295.99 L177.75,295.97 L178.00,295.96 L178.25,295.95 L178.50,295.94 L178.75,295.93 L179.00,295.91 L179.25,295.90 L179.50,295.89 L179.75,295.88 L180.00,295.87 L180.25,295.86 L180.50,295.84 L180.75,295.83 L181.00,295.82 L181.25,295.81 L181.50,295.80 L181.75,295.79 L182.00,295.78 L182.25,295.77 L182.50,295.76 L182.75,295.75 L183.00,295.74 L183.25,295.73 L183.50,295.72 L183.75,295.71 L184.00,295.70 L184.25,295.69 L184.50,295.68 L184.75,295.68 L185.00,295.67 L185.25,295.66 L185.50,295.65 L185.75,295.64 L186.00,295.63 L186.25,295.62 L186.50,295.61 L186.75,295.60 L187.00,295.59 L187.25,295.58 L187.50,295.57 L187.75,295.56 L188.00,295.55 L188.25,295.54 L188.50,295.53 L188.75,295.53 L189.00,295.51 L189.25,295.50 L189.50,295.49 L189.75,295.47 L190.00,295.46 L190.25,295.44 L190.50,295.42 L190.75,295.40 L191.00,295.38 L191.25,295.36 L191.50,295.34 L191.75,295.31 L192.00,295.29 L192.25,295.26 L192.50,295.23 L192.75,295.20 L193.00,295.17 L193.25,295.14 L193.50,295.10 L193.75,295.07 L194.00,295.04 L194.25,295.02 L194.50,294.99 L194.75,294.96 L195.00,294.94 L195.25,294.91 L195.50,294.89 L195.75,294.87 L196.00,294.84 L196.25,294.82 L196.50,294.79 L196.75,294.76 L197.00,294.72 L197.25,294.68 L197.50,294.62 L197.75,294.54 L198.00,294.43 L198.25,294.30 L198.50,294.13 L198.75,293.93 L199.00,293.68 L199.25,293.41 L199.50,293.11 L199.75,292.81 L200.00,292.53 L200.25,292.32 L200.50,292.21 L200.75,292.22 L201.00,292.36 L201.25,292.59 L201.50,292.87 L201.75,293.17 L202.00,293.47 L202.25,293.73 L202.50,293.96 L202.75,294.15 L203.00,294.30 L203.25,294.42 L203.50,294.50 L203.75,294.56 L204.00,294.59 L204.25,294.61 L204.50,294.62 L204.75,294.62 L205.00,294.61 L205.25,294.60 L205.50,294.58 L205.75,294.56 L206.00,294.53 L206.25,294.51 L206.50,294.48 L206.75,294.45 L207.00,294.43 L207.25,294.40 L207.50,294.37 L207.75,294.34 L208.00,294.31 L208.25,294.27 L208.50,294.24 L208.75,294.21 L209.00,294.17 L209.25,294.14 L209.50,294.10 L209.75,294.07 L210.00,294.03 L210.25,293.99 L210.50,293.96 L210.75,293.92 L211.00,293.88 L211.25,293.84 L211.50,293.80 L211.75,293.77 L212.00,293.73 L212.25,293.69 L212.50,293.65 L212.75,293.61 L213.00,293.57 L213.25,293.53 L213.50,293.49 L213.75,293.44 L214.00,293.40 L214.25,293.35 L214.50,293.30 L214.75,293.25 L215.00,293.20 L215.25,293.15 L215.50,293.09 L215.75,293.03 L216.00,292.98 L216.25,292.92 L216.50,292.85 L216.75,292.79 L217.00,292.73 L217.25,292.66 L217.50,292.59 L217.75,292.53 L218.00,292.46 L218.25,292.39 L218.50,292.33 L218.75,292.26 L219.00,292.19 L219.25,292.12 L219.50,292.06 L219.75,291.99 L220.00,291.92 L220.25,291.85 L220.50,291.79 L220.75,291.72 L221.00,291.65 L221.25,291.59 L221.50,291.52 L221.75,291.45 L222.00,291.39 L222.25,291.32 L222.50,291.25 L222.75,291.18 L223.00,291.11 L223.25,291.04 L223.50,290.97 L223.75,290.90 L224.00,290.84 L224.25,290.77 L224.50,290.71 L224.75,290.65 L225.00,290.59 L225.25,290.53 L225.50,290.47 L225.75,290.41 L226.00,290.35 L226.25,290.27 L226.50,290.18 L226.75,290.07 L227.00,289.92 L227.25,289.74 L227.50,289.52 L227.75,289.24 L228.00,288.91 L228.25,288.51 L228.50,288.07 L228.75,287.57 L229.00,287.07 L229.25,286.58 L229.50,286.17 L229.75,285.90 L230.00,285.80 L230.25,285.91 L230.50,286.20 L230.75,286.61 L231.00,287.09 L231.25,287.59 L231.50,288.05 L231.75,288.45 L232.00,288.78 L232.25,289.01 L232.50,289.16 L232.75,289.21 L233.00,289.18 L233.25,289.06 L233.50,288.88 L233.75,288.64 L234.00,288.35 L234.25,288.04 L234.50,287.72 L234.75,287.43 L235.00,287.19 L235.25,287.04 L235.50,287.00 L235.75,287.08 L236.00,287.27 L236.25,287.55 L236.50,287.89 L236.75,288.27 L237.00,288.65 L237.25,289.01 L237.50,289.36 L237.75,289.67 L238.00,289.95 L238.25,290.19 L238.50,290.40 L238.75,290.57 L239.00,290.71 L239.25,290.82 L239.50,290.91 L239.75,290.99 L240.00,291.04 L240.25,291.09 L240.50,291.13 L240.75,291.16 L241.00,291.18 L241.25,291.20 L241.50,291.22 L241.75,291.23 L242.00,291.25 L242.25,291.25 L242.50,291.26 L242.75,291.27 L243.00,291.27 L243.25,291.27 L243.50,291.27 L243.75,291.27 L244.00,291.27 L244.25,291.26 L244.50,291.26 L244.75,291.26 L245.00,291.25 L245.25,291.24 L245.50,291.22 L245.75,291.20 L246.00,291.18 L246.25,291.15 L246.50,291.11 L246.75,291.07 L247.00,291.01 L247.25,290.95 L247.50,290.87 L247.75,290.79 L248.00,290.70 L248.25,290.60 L248.50,290.50 L248.75,290.40 L249.00,290.31 L249.25,290.22 L249.50,290.15 L249.75,290.11 L250.00,290.10 L250.25,290.11 L250.50,290.15 L250.75,290.21 L251.00,290.27 L251.25,290.33 L251.50,290.38 L251.75,290.41 L252.00,290.40 L252.25,290.34 L252.50,290.22 L252.75,290.03 L253.00,289.73 L253.25,289.33 L253.50,288.81 L253.75,288.16 L254.00,287.39 L254.25,286.51 L254.50,285.57 L254.75,284.63 L255.00,283.78 L255.25,283.11 L255.50,282.74 L255.75,282.75 L256.00,283.12 L256.25,283.77 L256.50,284.59 L256.75,285.48 L257.00,286.35 L257.25,287.17 L257.50,287.89 L257.75,288.50 L258.00,289.00 L258.25,289.39 L258.50,289.70 L258.75,289.93 L259.00,290.10 L259.25,290.23 L259.50,290.32 L259.75,290.39 L260.00,290.44 L260.25,290.48 L260.50,290.51 L260.75,290.54 L261.00,290.57 L261.25,290.59 L261.50,290.61 L261.75,290.63 L262.00,290.65 L262.25,290.66 L262.50,290.67 L262.75,290.68 L263.00,290.69 L263.25,290.69 L263.50,290.70 L263.75,290.70 L264.00,290.70 L264.25,290.70 L264.50,290.70 L264.75,290.70 L265.00,290.69 L265.25,290.69 L265.50,290.69 L265.75,290.68 L266.00,290.67 L266.25,290.67 L266.50,290.66 L266.75,290.65 L267.00,290.64 L267.25,290.63 L267.50,290.62 L267.75,290.61 L268.00,290.61 L268.25,290.60 L268.50,290.59 L268.75,290.58 L269.00,290.57 L269.25,290.56 L269.50,290.55 L269.75,290.54 L270.00,290.52 L270.25,290.51 L270.50,290.50 L270.75,290.48 L271.00,290.47 L271.25,290.45 L271.50,290.43 L271.75,290.41 L272.00,290.39 L272.25,290.37 L272.50,290.35 L272.75,290.32 L273.00,290.30 L273.25,290.27 L273.50,290.24 L273.75,290.21 L274.00,290.18 L274.25,290.15 L274.50,290.12 L274.75,290.09 L275.00,290.06 L275.25,290.02 L275.50,289.99 L275.75,289.96 L276.00,289.93 L276.25,289.90 L276.50,289.86 L276.75,289.83 L277.00,289.80 L277.25,289.76 L277.50,289.73 L277.75,289.69 L278.00,289.66 L278.25,289.62 L278.50,289.59 L278.75,289.55 L279.00,289.51 L279.25,289.48 L279.50,289.44 L279.75,289.40 L280.00,289.36 L280.25,289.32 L280.50,289.29 L280.75,289.25 L281.00,289.21 L281.25,289.17 L281.50,289.13 L281.75,289.09 L282.00,289.05 L282.25,289.01 L282.50,288.97 L282.75,288.94 L283.00,288.90 L283.25,288.86 L283.50,288.82 L283.75,288.78 L284.00,288.75 L284.25,288.72 L284.50,288.69 L284.75,288.66 L285.00,288.63 L285.25,288.61 L285.50,288.59 L285.75,288.57 L286.00,288.56 L286.25,288.54 L286.50,288.53 L286.75,288.52 L287.00,288.51 L287.25,288.50 L287.50,288.49 L287.75,288.48 L288.00,288.47 L288.25,288.44 L288.50,288.42 L288.75,288.38 L289.00,288.33 L289.25,288.27 L289.50,288.20 L289.75,288.11 L290.00,288.02 L290.25,287.90 L290.50,287.77 L290.75,287.63 L291.00,287.47 L291.25,287.31 L291.50,287.15 L291.75,286.99 L292.00,286.84 L292.25,286.72 L292.50,286.64 L292.75,286.60 L293.00,286.60 L293.25,286.64 L293.50,286.71 L293.75,286.81 L294.00,286.92 L294.25,287.03 L294.50,287.14 L294.75,287.24 L295.00,287.33 L295.25,287.41 L295.50,287.48 L295.75,287.54 L296.00,287.59 L296.25,287.63 L296.50,287.66 L296.75,287.69 L297.00,287.71 L297.25,287.73 L297.50,287.74 L297.75,287.75 L298.00,287.77 L298.25,287.78 L298.50,287.79 L298.75,287.81 L299.00,287.82 L299.25,287.83 L299.50,287.83 L299.75,287.84 L300.00,287.83 L300.25,287.83 L300.50,287.82 L300.75,287.80 L301.00,287.79 L301.25,287.76 L301.50,287.74 L301.75,287.71 L302.00,287.68 L302.25,287.64 L302.50,287.60 L302.75,287.56 L303.00,287.51 L303.25,287.46 L303.50,287.41 L303.75,287.36 L304.00,287.31 L304.25,287.26 L304.50,287.21 L304.75,287.17 L305.00,287.12 L305.25,287.08 L305.50,287.04 L305.75,287.00 L306.00,286.97 L306.25,286.93 L306.50,286.90 L306.75,286.87 L307.00,286.83 L307.25,286.80 L307.50,286.76 L307.75,286.72 L308.00,286.68 L308.25,286.62 L308.50,286.57 L308.75,286.50 L309.00,286.42 L309.25,286.34 L309.50,286.24 L309.75,286.14 L310.00,286.05 L310.25,285.95 L310.50,285.87 L310.75,285.81 L311.00,285.77 L311.25,285.74 L311.50,285.71 L311.75,285.69 L312.00,285.65 L312.25,285.60 L312.50,285.52 L312.75,285.41 L313.00,285.28 L313.25,285.12 L313.50,284.93 L313.75,284.74 L314.00,284.54 L314.25,284.35 L314.50,284.19 L314.75,284.07 L315.00,284.00 L315.25,284.01 L315.50,284.08 L315.75,284.22 L316.00,284.41 L316.25,284.64 L316.50,284.90 L316.75,285.17 L317.00,285.44 L317.25,285.69 L317.50,285.94 L317.75,286.17 L318.00,286.37 L318.25,286.56 L318.50,286.72 L318.75,286.86 L319.00,286.99 L319.25,287.09 L319.50,287.17 L319.75,287.24 L320.00,287.30 L320.25,287.34 L320.50,287.37 L320.75,287.40 L321.00,287.41 L321.25,287.43 L321.50,287.43 L321.75,287.43 L322.00,287.43 L322.25,287.42 L322.50,287.41 L322.75,287.40 L323.00,287.38 L323.25,287.37 L323.50,287.35 L323.75,287.33 L324.00,287.31 L324.25,287.29 L324.50,287.27 L324.75,287.25 L325.00,287.23 L325.25,287.21 L325.50,287.19 L325.75,287.17 L326.00,287.15 L326.25,287.14 L326.50,287.12 L326.75,287.11 L327.00,287.09 L327.25,287.08 L327.50,287.07 L327.75,287.06 L328.00,287.05 L328.25,287.05 L328.50,287.04 L328.75,287.04 L329.00,287.03 L329.25,287.03 L329.50,287.03 L329.75,287.02 L330.00,287.02 L330.25,287.01 L330.50,287.01 L330.75,287.01 L331.00,287.00 L331.25,286.99 L331.50,286.99 L331.75,286.98 L332.00,286.97 L332.25,286.96 L332.50,286.94 L332.75,286.93 L333.00,286.91 L333.25,286.89 L333.50,286.87 L333.75,286.84 L334.00,286.82 L334.25,286.79 L334.50,286.76 L334.75,286.73 L335.00,286.70 L335.25,286.66 L335.50,286.63 L335.75,286.59 L336.00,286.55 L336.25,286.51 L336.50,286.46 L336.75,286.42 L337.00,286.37 L337.25,286.31 L337.50,286.25 L337.75,286.19 L338.00,286.11 L338.25,286.02 L338.50,285.92 L338.75,285.81 L339.00,285.68 L339.25,285.54 L339.50,285.38 L339.75,285.20 L340.00,285.00 L340.25,284.80 L340.50,284.58 L340.75,284.36 L341.00,284.15 L341.25,283.94 L341.50,283.77 L341.75,283.62 L342.00,283.53 L342.25,283.50 L342.50,283.52 L342.75,283.60 L343.00,283.72 L343.25,283.87 L343.50,284.04 L343.75,284.22 L344.00,284.40 L344.25,284.56 L344.50,284.72 L344.75,284.85 L345.00,284.96 L345.25,285.06 L345.50,285.13 L345.75,285.18 L346.00,285.21 L346.25,285.23 L346.50,285.23 L346.75,285.22 L347.00,285.19 L347.25,285.15 L347.50,285.10 L347.75,285.04 L348.00,284.98 L348.25,284.91 L348.50,284.84 L348.75,284.77 L349.00,284.69 L349.25,284.61 L349.50,284.53 L349.75,284.45 L350.00,284.36 L350.25,284.26 L350.50,284.16 L350.75,284.05 L351.00,283.93 L351.25,283.79 L351.50,283.65 L351.75,283.49 L352.00,283.33 L352.25,283.15 L352.50,282.95 L352.75,282.75 L353.00,282.54 L353.25,282.32 L353.50,282.10 L353.75,281.88 L354.00,281.68 L354.25,281.49 L354.50,281.33 L354.75,281.20 L355.00,281.13 L355.25,281.10 L355.50,281.12 L355.75,281.19 L356.00,281.31 L356.25,281.45 L356.50,281.62 L356.75,281.81 L357.00,282.01 L357.25,282.20 L357.50,282.40 L357.75,282.59 L358.00,282.78 L358.25,282.95 L358.50,283.11 L358.75,283.26 L359.00,283.40 L359.25,283.53 L359.50,283.64 L359.75,283.75 L360.00,283.84 L360.25,283.93 L360.50,284.01 L360.75,284.09 L361.00,284.16 L361.25,284.23 L361.50,284.29 L361.75,284.35 L362.00,284.41 L362.25,284.46 L362.50,284.51 L362.75,284.56 L363.00,284.61 L363.25,284.66 L363.50,284.70 L363.75,284.74 L364.00,284.77 L364.25,284.81 L364.50,284.84 L364.75,284.87 L365.00,284.90 L365.25,284.93 L365.50,284.95 L365.75,284.97 L366.00,284.99 L366.25,285.01 L366.50,285.03 L366.75,285.04 L367.00,285.05 L367.25,285.06 L367.50,285.07 L367.75,285.08 L368.00,285.09 L368.25,285.10 L368.50,285.11 L368.75,285.12 L369.00,285.13 L369.25,285.14 L369.50,285.15 L369.75,285.16 L370.00,285.17 L370.25,285.18 L370.50,285.19 L370.75,285.19 L371.00,285.20 L371.25,285.21 L371.50,285.21 L371.75,285.21 L372.00,285.21 L372.25,285.21 L372.50,285.20 L372.75,285.20 L373.00,285.19 L373.25,285.18 L373.50,285.17 L373.75,285.16 L374.00,285.15 L374.25,285.13 L374.50,285.11 L374.75,285.09 L375.00,285.07 L375.25,285.05 L375.50,285.03 L375.75,285.01 L376.00,284.99 L376.25,284.97 L376.50,284.95 L376.75,284.93 L377.00,284.90 L377.25,284.88 L377.50,284.86 L377.75,284.84 L378.00,284.82 L378.25,284.80 L378.50,284.78 L378.75,284.76 L379.00,284.73 L379.25,284.71 L379.50,284.69 L379.75,284.66 L380.00,284.64 L380.25,284.61 L380.50,284.59 L380.75,284.56 L381.00,284.54 L381.25,284.51 L381.50,284.49 L381.75,284.46 L382.00,284.43 L382.25,284.40 L382.50,284.37 L382.75,284.35 L383.00,284.32 L383.25,284.30 L383.50,284.27 L383.75,284.25 L384.00,284.23 L384.25,284.22 L384.50,284.20 L384.75,284.18 L385.00,284.17 L385.25,284.15 L385.50,284.12 L385.75,284.09 L386.00,284.05 L386.25,284.00 L386.50,283.94 L386.75,283.86 L387.00,283.77 L387.25,283.66 L387.50,283.56 L387.75,283.47 L388.00,283.41 L388.25,283.40 L388.50,283.45 L388.75,283.54 L389.00,283.65 L389.25,283.77 L389.50,283.88 L389.75,283.98 L390.00,284.06 L390.25,284.12 L390.50,284.16 L390.75,284.19 L391.00,284.20 L391.25,284.20 L391.50,284.19 L391.75,284.18 L392.00,284.16 L392.25,284.14 L392.50,284.11 L392.75,284.08 L393.00,284.05 L393.25,284.01 L393.50,283.97 L393.75,283.93 L394.00,283.88 L394.25,283.84 L394.50,283.80 L394.75,283.75 L395.00,283.71 L395.25,283.67 L395.50,283.62 L395.75,283.59 L396.00,283.55 L396.25,283.52 L396.50,283.48 L396.75,283.46 L397.00,283.43 L397.25,283.41 L397.50,283.38 L397.75,283.36 L398.00,283.34 L398.25,283.32 L398.50,283.30 L398.75,283.28 L399.00,283.25 L399.25,283.22 L399.50,283.18 L399.75,283.13 L400.00,283.07 L400.25,283.00 L400.50,282.91 L400.75,282.80 L401.00,282.69 L401.25,282.56 L401.50,282.42 L401.75,282.27 L402.00,282.13 L402.25,282.01 L402.50,281.90 L402.75,281.83 L403.00,281.80 L403.25,281.81 L403.50,281.87 L403.75,281.95 L404.00,282.06 L404.25,282.18 L404.50,282.30 L404.75,282.41 L405.00,282.51 L405.25,282.59 L405.50,282.64 L405.75,282.66 L406.00,282.65 L406.25,282.59 L406.50,282.49 L406.75,282.35 L407.00,282.17 L407.25,281.94 L407.50,281.69 L407.75,281.42 L408.00,281.13 L408.25,280.83 L408.50,280.55 L408.75,280.28 L409.00,280.03 L409.25,279.81 L409.50,279.62 L409.75,279.46 L410.00,279.34 L410.25,279.24 L410.50,279.17 L410.75,279.13 L411.00,279.11 L411.25,279.10 L411.50,279.10 L411.75,279.12 L412.00,279.16 L412.25,279.22 L412.50,279.32 L412.75,279.45 L413.00,279.60 L413.25,279.80 L413.50,280.02 L413.75,280.27 L414.00,280.54 L414.25,280.83 L414.50,281.12 L414.75,281.41 L415.00,281.68 L415.25,281.93 L415.50,282.16 L415.75,282.35 L416.00,282.51 L416.25,282.64 L416.50,282.74 L416.75,282.81 L417.00,282.86 L417.25,282.90 L417.50,282.92 L417.75,282.93 L418.00,282.94 L418.25,282.94 L418.50,282.94 L418.75,282.93 L419.00,282.93 L419.25,282.93 L419.50,282.92 L419.75,282.91 L420.00,282.91 L420.25,282.90 L420.50,282.90 L420.75,282.89 L421.00,282.89 L421.25,282.89 L421.50,282.89 L421.75,282.90 L422.00,282.90 L422.25,282.91 L422.50,282.91 L422.75,282.92 L423.00,282.93 L423.25,282.94 L423.50,282.95 L423.75,282.96 L424.00,282.97 L424.25,282.98 L424.50,282.99 L424.75,283.00 L425.00,283.00 L425.25,283.00 L425.50,283.00 L425.75,283.01 L426.00,283.00 L426.25,283.00 L426.50,283.00 L426.75,282.99 L427.00,282.98 L427.25,282.97 L427.50,282.97 L427.75,282.96 L428.00,282.95 L428.25,282.94 L428.50,282.93 L428.75,282.92 L429.00,282.91 L429.25,282.90 L429.50,282.89 L429.75,282.88 L430.00,282.87 L430.25,282.87 L430.50,282.86 L430.75,282.85 L431.00,282.84 L431.25,282.83 L431.50,282.82 L431.75,282.81 L432.00,282.80 L432.25,282.79 L432.50,282.78 L432.75,282.77 L433.00,282.76 L433.25,282.75 L433.50,282.74 L433.75,282.73 L434.00,282.72 L434.25,282.71 L434.50,282.70 L434.75,282.69 L435.00,282.69 L435.25,282.68 L435.50,282.67 L435.75,282.66 L436.00,282.65 L436.25,282.64 L436.50,282.63 L436.75,282.62 L437.00,282.61 L437.25,282.60 L437.50,282.59 L437.75,282.58 L438.00,282.57 L438.25,282.56 L438.50,282.55 L438.75,282.54 L439.00,282.53 L439.25,282.52 L439.50,282.51 L439.75,282.50 L440.00,282.49 L440.25,282.48 L440.50,282.47 L440.75,282.46 L441.00,282.45 L441.25,282.44 L441.50,282.43 L441.75,282.42 L442.00,282.41 L442.25,282.40 L442.50,282.39 L442.75,282.38 L443.00,282.37 L443.25,282.36 L443.50,282.35 L443.75,282.34 L444.00,282.33 L444.25,282.32 L444.50,282.31 L444.75,282.30 L445.00,282.29 L445.25,282.28 L445.50,282.27 L445.75,282.26 L446.00,282.25 L446.25,282.24 L446.50,282.24 L446.75,282.23 L447.00,282.22 L447.25,282.21 L447.50,282.20 L447.75,282.19 L448.00,282.18 L448.25,282.17 L448.50,282.16 L448.75,282.15 L449.00,282.14 L449.25,282.13 L449.50,282.12 L449.75,282.11 L450.00,282.10 L450.25,282.09 L450.50,282.08 L450.75,282.07 L451.00,282.06 L451.25,282.05 L451.50,282.04 L451.75,282.03 L452.00,282.02 L452.25,282.01 L452.50,282.00 L452.75,281.99 L453.00,281.98 L453.25,281.97 L453.50,281.96 L453.75,281.95 L454.00,281.94 L454.25,281.93 L454.50,281.92 L454.75,281.91 L455.00,281.90 L455.25,281.89 L455.50,281.88 L455.75,281.87 L456.00,281.86 L456.25,281.85 L456.50,281.84 L456.75,281.83 L457.00,281.82 L457.25,281.81 L457.50,281.80 L457.75,281.79 L458.00,281.78 L458.25,281.77 L458.50,281.76 L458.75,281.75 L459.00,281.74 L459.25,281.73 L459.50,281.72 L459.75,281.71 L460.00,281.70 L460.25,281.69 L460.50,281.68 L460.75,281.67 L461.00,281.66 L461.25,281.65 L461.50,281.64 L461.75,281.63 L462.00,281.62 L462.25,281.62 L462.50,281.61 L462.75,281.60 L463.00,281.59 L463.25,281.58 L463.50,281.57 L463.75,281.56 L464.00,281.55 L464.25,281.54 L464.50,281.53 L464.75,281.52 L465.00,281.51 L465.25,281.50 L465.50,281.50 L465.75,281.49 L466.00,281.48 L466.25,281.47 L466.50,281.46 L466.75,281.45 L467.00,281.44 L467.25,281.43 L467.50,281.42 L467.75,281.41 L468.00,281.40 L468.25,281.39 L468.50,281.38 L468.75,281.38 L469.00,281.37 L469.25,281.36 L469.50,281.35 L469.75,281.34 L470.00,281.33 L470.25,281.32 L470.50,281.31 L470.75,281.30 L471.00,281.29 L471.25,281.28 L471.50,281.27 L471.75,281.26 L472.00,281.25 L472.25,281.25 L472.50,281.24 L472.75,281.23 L473.00,281.22 L473.25,281.21 L473.50,281.20 L473.75,281.19 L474.00,281.18 L474.25,281.17 L474.50,281.16 L474.75,281.15 L475.00,281.14 L475.25,281.13 L475.50,281.13 L475.75,281.12 L476.00,281.11 L476.25,281.10 L476.50,281.09 L476.75,281.08 L477.00,281.07 L477.25,281.06 L477.50,281.05 L477.75,281.04 L478.00,281.03 L478.25,281.02 L478.50,281.01 L478.75,281.01 L479.00,281.00 L479.25,280.99 L479.50,280.98 L479.75,280.97 L480.00,280.96 L480.25,280.95 L480.50,280.94 L480.75,280.93 L481.00,280.92 L481.25,280.91 L481.50,280.90 L481.75,280.89 L482.00,280.88 L482.25,280.88 L482.50,280.87 L482.75,280.86 L483.00,280.85 L483.25,280.84 L483.50,280.83 L483.75,280.82 L484.00,280.81 L484.25,280.80 L484.50,280.79 L484.75,280.78 L485.00,280.77 L485.25,280.76 L485.50,280.75 L485.75,280.75 L486.00,280.74 L486.25,280.73 L486.50,280.72 L486.75,280.71 L487.00,280.70 L487.25,280.69 L487.50,280.68 L487.75,280.67 L488.00,280.66 L488.25,280.65 L488.50,280.64 L488.75,280.63 L489.00,280.63 L489.25,280.62 L489.50,280.61 L489.75,280.60 L490.00,280.59 L490.25,280.58 L490.50,280.57 L490.75,280.56 L491.00,280.55 L491.25,280.54 L491.50,280.53 L491.75,280.52 L492.00,280.51 L492.25,280.50 L492.50,280.50 L492.75,280.49 L493.00,280.48 L493.25,280.47 L493.50,280.46 L493.75,280.45 L494.00,280.44 L494.25,280.43 L494.50,280.42 L494.75,280.41 L495.00,280.40 L495.25,280.39 L495.50,280.38 L495.75,280.38 L496.00,280.37 L496.25,280.36 L496.50,280.35 L496.75,280.34 L497.00,280.33 L497.25,280.32 L497.50,280.31 L497.75,280.30 L498.00,280.29 L498.25,280.28 L498.50,280.27 L498.75,280.26 L499.00,280.25 L499.25,280.25 L499.50,280.24 L499.75,280.23 L500.00,280.22 L500.25,280.22 L500.50,280.21 L500.75,280.20 L501.00,280.20"/>
</g>
<rect x="46.3" y="0.85" width="456.2" height="321.95" fill="none" stroke="#000" stroke-width="1.75"/>
<g stroke="#000" stroke-width="1.6">
<line x1="46.30" y1="322" x2="46.30" y2="331.50"/>
<line x1="74.82" y1="322" x2="74.82" y2="327.60"/>
<line x1="103.34" y1="322" x2="103.34" y2="331.50"/>
<line x1="131.86" y1="322" x2="131.86" y2="327.60"/>
<line x1="160.38" y1="322" x2="160.38" y2="331.50"/>
<line x1="188.89" y1="322" x2="188.89" y2="327.60"/>
<line x1="217.41" y1="322" x2="217.41" y2="331.50"/>
<line x1="245.93" y1="322" x2="245.93" y2="327.60"/>
<line x1="274.45" y1="322" x2="274.45" y2="331.50"/>
<line x1="302.97" y1="322" x2="302.97" y2="327.60"/>
<line x1="331.49" y1="322" x2="331.49" y2="331.50"/>
<line x1="360.01" y1="322" x2="360.01" y2="327.60"/>
<line x1="388.53" y1="322" x2="388.53" y2="331.50"/>
<line x1="417.05" y1="322" x2="417.05" y2="327.60"/>
<line x1="445.57" y1="322" x2="445.57" y2="331.50"/>
<line x1="474.09" y1="322" x2="474.09" y2="327.60"/>
<line x1="502.60" y1="322" x2="502.60" y2="331.50"/>
</g>
<g font-size="18">
<text x="46.30" y="350.9" text-anchor="middle">200</text>
<text x="103.34" y="350.9" text-anchor="middle">400</text>
<text x="160.38" y="350.9" text-anchor="middle">600</text>
<text x="217.41" y="350.9" text-anchor="middle">800</text>
<text x="274.45" y="350.9" text-anchor="middle">1000</text>
<text x="331.49" y="350.9" text-anchor="middle">1200</text>
<text x="388.53" y="350.9" text-anchor="middle">1400</text>
<text x="445.57" y="350.9" text-anchor="middle">1600</text>
<text x="502.60" y="350.9" text-anchor="middle">1800</text>
</g>
<g font-size="14.5">
<text x="499.6" y="52.9" text-anchor="end">X=50</text>
<text x="499.6" y="117.2" text-anchor="end">X=40</text>
<text x="499.6" y="149.2" text-anchor="end">X=30</text>
<text x="499.6" y="206.1" text-anchor="end">X=20</text>
<text x="499.6" y="271.2" text-anchor="end">X=10</text>
<text x="468.8" y="298.8">X=0</text>
</g>
<text x="154" y="389" font-size="29">Wave number(cm<tspan font-size="16" dx="0.5" dy="-14.5">-1</tspan><tspan dx="1.8" dy="14.5">)</tspan></text>
<text transform="translate(20.3,318.9) rotate(-90)" x="0" y="0" font-size="29.2">Raman Intensity (arb. unit)</text>
</svg>
</body></html>
